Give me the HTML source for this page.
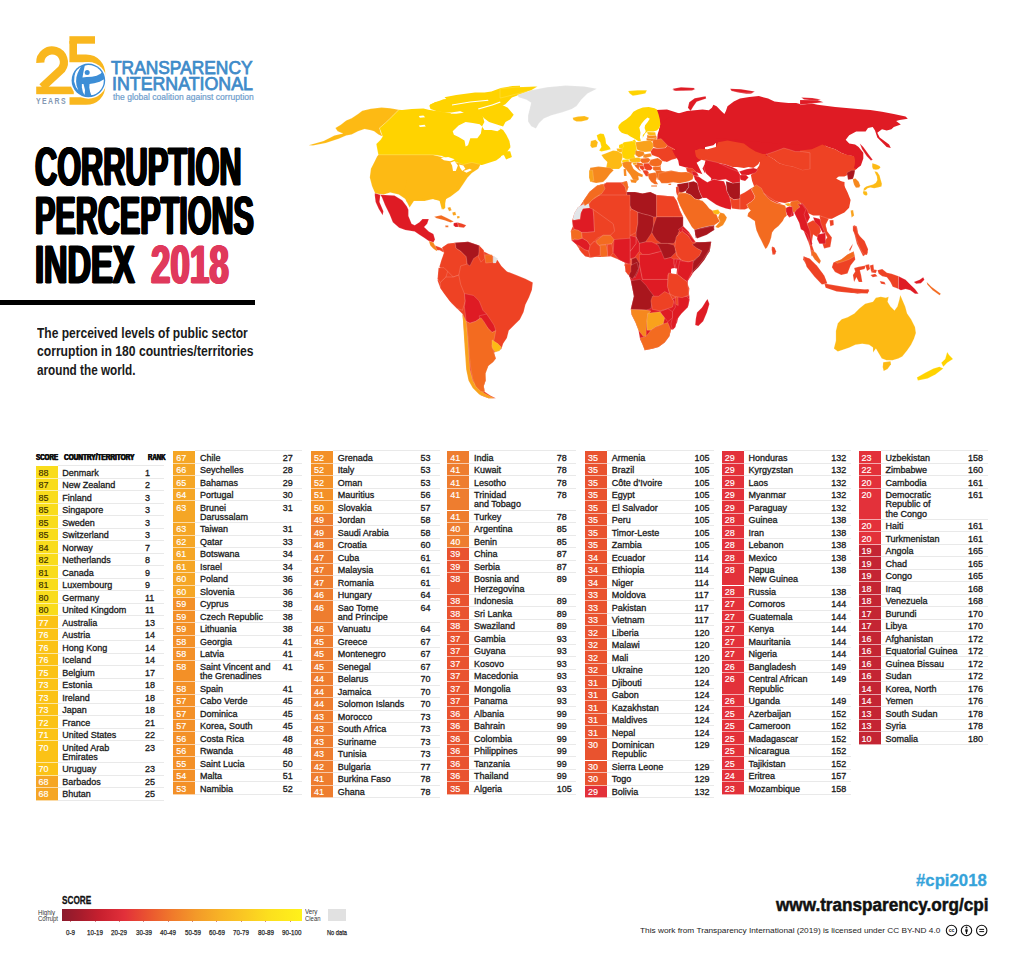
<!DOCTYPE html>
<html><head><meta charset="utf-8"><style>
html,body{margin:0;padding:0;background:#fff;}
body{width:1024px;height:973px;position:relative;overflow:hidden;font-family:"Liberation Sans",sans-serif;-webkit-font-smoothing:antialiased;}
.t{position:absolute;white-space:nowrap;line-height:1;}
.bx{position:absolute;}
.ln{position:absolute;height:1px;background:#e9e9e9;}
</style></head><body>
<svg width="260" height="115" viewBox="0 0 260 115" style="position:absolute;left:0;top:0">
<defs><clipPath id="gl"><circle cx="88.4" cy="80.4" r="15.4"/></clipPath></defs>
<g fill="none" stroke="#F9B71E" stroke-width="8.2">
<path d="M40.3,62.8 A11.8,11.8 0 1 1 61.6,69.2 L42.2,87.2"/>
<path d="M73.2,41 V58.4 H86 C96,58.4 101.6,66 101.6,75 V85 C101.6,95 95,101 86,101 H69.5" stroke-width="7.6"/>
</g>
<rect x="36.2" y="86.6" width="37.6" height="7.6" fill="#F9B71E"/>
<rect x="69.4" y="36.2" width="25.6" height="7.5" fill="#F9B71E"/>
<circle cx="88.4" cy="80.4" r="18.3" fill="#fff"/>
<circle cx="88.4" cy="80.4" r="16.8" fill="#3D8ED6"/>
<g clip-path="url(#gl)" fill="#fff">
<path d="M84.8,65.5 L91.9,64 L97.3,65.1 L100.9,68.2 L102.4,71.8 L100.5,73.7 L96.6,75.7 L91.9,76.8 L86.4,77 L82.5,77.4 L83.1,73.7 L83.9,69.8Z"/>
<path d="M89.5,83.9 L94.2,83.3 L99.7,81.7 L104,79.2 L104.8,83.1 L103.2,87.4 L100.1,91.7 L95.4,94.4 L91.3,95.2 L90.1,91.7 L89.3,87.4Z"/>
<path d="M75.9,70.6 L79,67.5 L81.3,65.9 L79.4,69.4 L77.6,73.3 L76.4,77.2 L76.1,81.5 L76.6,85.8 L78.4,90.5 L75.9,87 L74.1,81.5 L74.5,75.7Z"/>
<path d="M81.9,83.9 L83.5,83.9 L85,90.1 L84.6,95 L82.9,92.1 L81.9,87.4Z"/>
</g>
<circle cx="87.2" cy="72.4" r="2.5" fill="#3D8ED6"/>
</svg>
<div class="t" style="left:35.8px;top:96.4px;font-size:9.4px;font-weight:bold;color:#8398B2;letter-spacing:1.9px;transform:scaleX(0.74);transform-origin:0 0">YEARS</div>

<div class="t" style="left:111.00px;top:60.30px;font-size:17.60px;color:#3F8BC9;transform:scaleX(0.9872);transform-origin:0 0;-webkit-text-stroke:0.75px #3F8BC9;">TRANSPARENCY</div>
<div class="t" style="left:111.60px;top:76.10px;font-size:17.60px;color:#3F8BC9;transform:scaleX(1.0107);transform-origin:0 0;-webkit-text-stroke:0.75px #3F8BC9;">INTERNATIONAL</div>
<div class="t" style="left:113.30px;top:92.75px;font-size:8.80px;color:#6E9DCC;transform:scaleX(0.9691);transform-origin:0 0;-webkit-text-stroke:0.2px #6E9DCC;">the global coalition against corruption</div>
<div class="t" style="left:35.00px;top:139.57px;font-size:53.20px;font-weight:bold;color:#000;transform:scaleX(0.5777);transform-origin:0 0;-webkit-text-stroke:0.8px #000;text-shadow:1.7px 0 0 currentColor,-1.7px 0 0 currentColor,0.9px 0 0 currentColor,-0.9px 0 0 currentColor;">CORRUPTION</div>
<div class="t" style="left:35.00px;top:188.77px;font-size:53.20px;font-weight:bold;color:#000;transform:scaleX(0.5743);transform-origin:0 0;-webkit-text-stroke:0.8px #000;text-shadow:1.7px 0 0 currentColor,-1.7px 0 0 currentColor,0.9px 0 0 currentColor,-0.9px 0 0 currentColor;">PERCEPTIONS</div>
<div class="t" style="left:35.00px;top:238.17px;font-size:53.20px;font-weight:bold;color:#000;transform:scaleX(0.6126);transform-origin:0 0;-webkit-text-stroke:0.8px #000;text-shadow:1.7px 0 0 currentColor,-1.7px 0 0 currentColor,0.9px 0 0 currentColor,-0.9px 0 0 currentColor;">INDEX</div>
<div class="t" style="left:150.60px;top:238.17px;font-size:53.20px;font-weight:bold;color:#E0395C;transform:scaleX(0.6574);transform-origin:0 0;-webkit-text-stroke:0.8px #E0395C;text-shadow:1.7px 0 0 currentColor,-1.7px 0 0 currentColor,0.9px 0 0 currentColor,-0.9px 0 0 currentColor;">2018</div>
<div style="position:absolute;left:0;top:300.2px;width:254.5px;height:4.6px;background:#000"></div>
<div class="t" style="left:36.70px;top:325.23px;font-size:15.20px;font-weight:bold;color:#1a1a1a;transform:scaleX(0.7926);transform-origin:0 0;">The perceived levels of public sector</div>
<div class="t" style="left:36.70px;top:343.43px;font-size:15.20px;font-weight:bold;color:#1a1a1a;transform:scaleX(0.7996);transform-origin:0 0;">corruption in 180 countries/territories</div>
<div class="t" style="left:36.70px;top:361.63px;font-size:15.20px;font-weight:bold;color:#1a1a1a;transform:scaleX(0.7733);transform-origin:0 0;">around the world.</div>
<div class="t" style="left:36.30px;top:451.59px;font-size:9.70px;font-weight:bold;color:#111;transform:scaleX(0.6407);transform-origin:0 0;-webkit-text-stroke:0.25px #111;text-shadow:0.5px 0 0 currentColor,-0.5px 0 0 currentColor;">SCORE</div>
<div class="t" style="left:63.60px;top:451.59px;font-size:9.70px;font-weight:bold;color:#111;transform:scaleX(0.6663);transform-origin:0 0;-webkit-text-stroke:0.25px #111;text-shadow:0.5px 0 0 currentColor,-0.5px 0 0 currentColor;">COUNTRY/TERRITORY</div>
<div class="t" style="left:148.20px;top:451.59px;font-size:9.70px;font-weight:bold;color:#111;transform:scaleX(0.6281);transform-origin:0 0;-webkit-text-stroke:0.25px #111;text-shadow:0.5px 0 0 currentColor,-0.5px 0 0 currentColor;">RANK</div>
<div class="ln" style="left:57.7px;top:465.4px;width:106.8px"></div>
<div class="bx" style="left:35.5px;top:466.40px;width:22.2px;height:12.50px;background:#F9DC1C"></div>
<div class="bx" style="left:35.5px;top:477.90px;width:22.2px;height:1px;background:rgba(255,255,255,0.6)"></div>
<div class="t" style="left:38.50px;top:468.88px;font-size:9.00px;color:#3b3100;-webkit-text-stroke:0.15px #3b3100;">88</div>
<div class="t" style="left:62.30px;top:468.88px;font-size:9.00px;color:#1a1a1a;-webkit-text-stroke:0.3px #1a1a1a;">Denmark</div>
<div class="t" style="left:145.00px;top:468.88px;font-size:9.00px;color:#1a1a1a;-webkit-text-stroke:0.3px #1a1a1a;">1</div>
<div class="ln" style="left:57.7px;top:477.90px;width:106.8px"></div>
<div class="bx" style="left:35.5px;top:478.90px;width:22.2px;height:12.50px;background:#F9DC1C"></div>
<div class="bx" style="left:35.5px;top:490.40px;width:22.2px;height:1px;background:rgba(255,255,255,0.6)"></div>
<div class="t" style="left:38.50px;top:481.38px;font-size:9.00px;color:#3b3100;-webkit-text-stroke:0.15px #3b3100;">87</div>
<div class="t" style="left:62.30px;top:481.38px;font-size:9.00px;color:#1a1a1a;-webkit-text-stroke:0.3px #1a1a1a;">New Zealand</div>
<div class="t" style="left:145.00px;top:481.38px;font-size:9.00px;color:#1a1a1a;-webkit-text-stroke:0.3px #1a1a1a;">2</div>
<div class="ln" style="left:57.7px;top:490.40px;width:106.8px"></div>
<div class="bx" style="left:35.5px;top:491.40px;width:22.2px;height:12.50px;background:#F9DC1C"></div>
<div class="bx" style="left:35.5px;top:502.90px;width:22.2px;height:1px;background:rgba(255,255,255,0.6)"></div>
<div class="t" style="left:38.50px;top:493.88px;font-size:9.00px;color:#3b3100;-webkit-text-stroke:0.15px #3b3100;">85</div>
<div class="t" style="left:62.30px;top:493.88px;font-size:9.00px;color:#1a1a1a;-webkit-text-stroke:0.3px #1a1a1a;">Finland</div>
<div class="t" style="left:145.00px;top:493.88px;font-size:9.00px;color:#1a1a1a;-webkit-text-stroke:0.3px #1a1a1a;">3</div>
<div class="ln" style="left:57.7px;top:502.90px;width:106.8px"></div>
<div class="bx" style="left:35.5px;top:503.90px;width:22.2px;height:12.50px;background:#F9DC1C"></div>
<div class="bx" style="left:35.5px;top:515.40px;width:22.2px;height:1px;background:rgba(255,255,255,0.6)"></div>
<div class="t" style="left:38.50px;top:506.38px;font-size:9.00px;color:#3b3100;-webkit-text-stroke:0.15px #3b3100;">85</div>
<div class="t" style="left:62.30px;top:506.38px;font-size:9.00px;color:#1a1a1a;-webkit-text-stroke:0.3px #1a1a1a;">Singapore</div>
<div class="t" style="left:145.00px;top:506.38px;font-size:9.00px;color:#1a1a1a;-webkit-text-stroke:0.3px #1a1a1a;">3</div>
<div class="ln" style="left:57.7px;top:515.40px;width:106.8px"></div>
<div class="bx" style="left:35.5px;top:516.40px;width:22.2px;height:12.50px;background:#F9DC1C"></div>
<div class="bx" style="left:35.5px;top:527.90px;width:22.2px;height:1px;background:rgba(255,255,255,0.6)"></div>
<div class="t" style="left:38.50px;top:518.88px;font-size:9.00px;color:#3b3100;-webkit-text-stroke:0.15px #3b3100;">85</div>
<div class="t" style="left:62.30px;top:518.88px;font-size:9.00px;color:#1a1a1a;-webkit-text-stroke:0.3px #1a1a1a;">Sweden</div>
<div class="t" style="left:145.00px;top:518.88px;font-size:9.00px;color:#1a1a1a;-webkit-text-stroke:0.3px #1a1a1a;">3</div>
<div class="ln" style="left:57.7px;top:527.90px;width:106.8px"></div>
<div class="bx" style="left:35.5px;top:528.90px;width:22.2px;height:12.50px;background:#F9DC1C"></div>
<div class="bx" style="left:35.5px;top:540.40px;width:22.2px;height:1px;background:rgba(255,255,255,0.6)"></div>
<div class="t" style="left:38.50px;top:531.38px;font-size:9.00px;color:#3b3100;-webkit-text-stroke:0.15px #3b3100;">85</div>
<div class="t" style="left:62.30px;top:531.38px;font-size:9.00px;color:#1a1a1a;-webkit-text-stroke:0.3px #1a1a1a;">Switzerland</div>
<div class="t" style="left:145.00px;top:531.38px;font-size:9.00px;color:#1a1a1a;-webkit-text-stroke:0.3px #1a1a1a;">3</div>
<div class="ln" style="left:57.7px;top:540.40px;width:106.8px"></div>
<div class="bx" style="left:35.5px;top:541.40px;width:22.2px;height:12.50px;background:#F9DC1C"></div>
<div class="bx" style="left:35.5px;top:552.90px;width:22.2px;height:1px;background:rgba(255,255,255,0.6)"></div>
<div class="t" style="left:38.50px;top:543.88px;font-size:9.00px;color:#3b3100;-webkit-text-stroke:0.15px #3b3100;">84</div>
<div class="t" style="left:62.30px;top:543.88px;font-size:9.00px;color:#1a1a1a;-webkit-text-stroke:0.3px #1a1a1a;">Norway</div>
<div class="t" style="left:145.00px;top:543.88px;font-size:9.00px;color:#1a1a1a;-webkit-text-stroke:0.3px #1a1a1a;">7</div>
<div class="ln" style="left:57.7px;top:552.90px;width:106.8px"></div>
<div class="bx" style="left:35.5px;top:553.90px;width:22.2px;height:12.50px;background:#F9DC1C"></div>
<div class="bx" style="left:35.5px;top:565.40px;width:22.2px;height:1px;background:rgba(255,255,255,0.6)"></div>
<div class="t" style="left:38.50px;top:556.38px;font-size:9.00px;color:#3b3100;-webkit-text-stroke:0.15px #3b3100;">82</div>
<div class="t" style="left:62.30px;top:556.38px;font-size:9.00px;color:#1a1a1a;-webkit-text-stroke:0.3px #1a1a1a;">Netherlands</div>
<div class="t" style="left:145.00px;top:556.38px;font-size:9.00px;color:#1a1a1a;-webkit-text-stroke:0.3px #1a1a1a;">8</div>
<div class="ln" style="left:57.7px;top:565.40px;width:106.8px"></div>
<div class="bx" style="left:35.5px;top:566.40px;width:22.2px;height:12.50px;background:#F9DC1C"></div>
<div class="bx" style="left:35.5px;top:577.90px;width:22.2px;height:1px;background:rgba(255,255,255,0.6)"></div>
<div class="t" style="left:38.50px;top:568.88px;font-size:9.00px;color:#3b3100;-webkit-text-stroke:0.15px #3b3100;">81</div>
<div class="t" style="left:62.30px;top:568.88px;font-size:9.00px;color:#1a1a1a;-webkit-text-stroke:0.3px #1a1a1a;">Canada</div>
<div class="t" style="left:145.00px;top:568.88px;font-size:9.00px;color:#1a1a1a;-webkit-text-stroke:0.3px #1a1a1a;">9</div>
<div class="ln" style="left:57.7px;top:577.90px;width:106.8px"></div>
<div class="bx" style="left:35.5px;top:578.90px;width:22.2px;height:12.50px;background:#F9DC1C"></div>
<div class="bx" style="left:35.5px;top:590.40px;width:22.2px;height:1px;background:rgba(255,255,255,0.6)"></div>
<div class="t" style="left:38.50px;top:581.38px;font-size:9.00px;color:#3b3100;-webkit-text-stroke:0.15px #3b3100;">81</div>
<div class="t" style="left:62.30px;top:581.38px;font-size:9.00px;color:#1a1a1a;-webkit-text-stroke:0.3px #1a1a1a;">Luxembourg</div>
<div class="t" style="left:145.00px;top:581.38px;font-size:9.00px;color:#1a1a1a;-webkit-text-stroke:0.3px #1a1a1a;">9</div>
<div class="ln" style="left:57.7px;top:590.40px;width:106.8px"></div>
<div class="bx" style="left:35.5px;top:591.40px;width:22.2px;height:12.50px;background:#F9DC1C"></div>
<div class="bx" style="left:35.5px;top:602.90px;width:22.2px;height:1px;background:rgba(255,255,255,0.6)"></div>
<div class="t" style="left:38.50px;top:593.88px;font-size:9.00px;color:#3b3100;-webkit-text-stroke:0.15px #3b3100;">80</div>
<div class="t" style="left:62.30px;top:593.88px;font-size:9.00px;color:#1a1a1a;-webkit-text-stroke:0.3px #1a1a1a;">Germany</div>
<div class="t" style="left:145.00px;top:593.88px;font-size:9.00px;color:#1a1a1a;-webkit-text-stroke:0.3px #1a1a1a;">11</div>
<div class="ln" style="left:57.7px;top:602.90px;width:106.8px"></div>
<div class="bx" style="left:35.5px;top:603.90px;width:22.2px;height:12.50px;background:#F9DC1C"></div>
<div class="bx" style="left:35.5px;top:615.40px;width:22.2px;height:1px;background:rgba(255,255,255,0.6)"></div>
<div class="t" style="left:38.50px;top:606.38px;font-size:9.00px;color:#3b3100;-webkit-text-stroke:0.15px #3b3100;">80</div>
<div class="t" style="left:62.30px;top:606.38px;font-size:9.00px;color:#1a1a1a;-webkit-text-stroke:0.3px #1a1a1a;">United Kingdom</div>
<div class="t" style="left:145.00px;top:606.38px;font-size:9.00px;color:#1a1a1a;-webkit-text-stroke:0.3px #1a1a1a;">11</div>
<div class="ln" style="left:57.7px;top:615.40px;width:106.8px"></div>
<div class="bx" style="left:35.5px;top:616.40px;width:22.2px;height:12.50px;background:#FBC216"></div>
<div class="bx" style="left:35.5px;top:627.90px;width:22.2px;height:1px;background:rgba(255,255,255,0.6)"></div>
<div class="t" style="left:38.50px;top:618.88px;font-size:9.00px;color:#fff;-webkit-text-stroke:0.15px #fff;">77</div>
<div class="t" style="left:62.30px;top:618.88px;font-size:9.00px;color:#1a1a1a;-webkit-text-stroke:0.3px #1a1a1a;">Australia</div>
<div class="t" style="left:145.00px;top:618.88px;font-size:9.00px;color:#1a1a1a;-webkit-text-stroke:0.3px #1a1a1a;">13</div>
<div class="ln" style="left:57.7px;top:627.90px;width:106.8px"></div>
<div class="bx" style="left:35.5px;top:628.90px;width:22.2px;height:12.50px;background:#FBC216"></div>
<div class="bx" style="left:35.5px;top:640.40px;width:22.2px;height:1px;background:rgba(255,255,255,0.6)"></div>
<div class="t" style="left:38.50px;top:631.38px;font-size:9.00px;color:#fff;-webkit-text-stroke:0.15px #fff;">76</div>
<div class="t" style="left:62.30px;top:631.38px;font-size:9.00px;color:#1a1a1a;-webkit-text-stroke:0.3px #1a1a1a;">Austria</div>
<div class="t" style="left:145.00px;top:631.38px;font-size:9.00px;color:#1a1a1a;-webkit-text-stroke:0.3px #1a1a1a;">14</div>
<div class="ln" style="left:57.7px;top:640.40px;width:106.8px"></div>
<div class="bx" style="left:35.5px;top:641.40px;width:22.2px;height:12.50px;background:#FBC216"></div>
<div class="bx" style="left:35.5px;top:652.90px;width:22.2px;height:1px;background:rgba(255,255,255,0.6)"></div>
<div class="t" style="left:38.50px;top:643.88px;font-size:9.00px;color:#fff;-webkit-text-stroke:0.15px #fff;">76</div>
<div class="t" style="left:62.30px;top:643.88px;font-size:9.00px;color:#1a1a1a;-webkit-text-stroke:0.3px #1a1a1a;">Hong Kong</div>
<div class="t" style="left:145.00px;top:643.88px;font-size:9.00px;color:#1a1a1a;-webkit-text-stroke:0.3px #1a1a1a;">14</div>
<div class="ln" style="left:57.7px;top:652.90px;width:106.8px"></div>
<div class="bx" style="left:35.5px;top:653.90px;width:22.2px;height:12.50px;background:#FBC216"></div>
<div class="bx" style="left:35.5px;top:665.40px;width:22.2px;height:1px;background:rgba(255,255,255,0.6)"></div>
<div class="t" style="left:38.50px;top:656.38px;font-size:9.00px;color:#fff;-webkit-text-stroke:0.15px #fff;">76</div>
<div class="t" style="left:62.30px;top:656.38px;font-size:9.00px;color:#1a1a1a;-webkit-text-stroke:0.3px #1a1a1a;">Iceland</div>
<div class="t" style="left:145.00px;top:656.38px;font-size:9.00px;color:#1a1a1a;-webkit-text-stroke:0.3px #1a1a1a;">14</div>
<div class="ln" style="left:57.7px;top:665.40px;width:106.8px"></div>
<div class="bx" style="left:35.5px;top:666.40px;width:22.2px;height:12.50px;background:#FBC216"></div>
<div class="bx" style="left:35.5px;top:677.90px;width:22.2px;height:1px;background:rgba(255,255,255,0.6)"></div>
<div class="t" style="left:38.50px;top:668.88px;font-size:9.00px;color:#fff;-webkit-text-stroke:0.15px #fff;">75</div>
<div class="t" style="left:62.30px;top:668.88px;font-size:9.00px;color:#1a1a1a;-webkit-text-stroke:0.3px #1a1a1a;">Belgium</div>
<div class="t" style="left:145.00px;top:668.88px;font-size:9.00px;color:#1a1a1a;-webkit-text-stroke:0.3px #1a1a1a;">17</div>
<div class="ln" style="left:57.7px;top:677.90px;width:106.8px"></div>
<div class="bx" style="left:35.5px;top:678.90px;width:22.2px;height:12.50px;background:#FBC216"></div>
<div class="bx" style="left:35.5px;top:690.40px;width:22.2px;height:1px;background:rgba(255,255,255,0.6)"></div>
<div class="t" style="left:38.50px;top:681.38px;font-size:9.00px;color:#fff;-webkit-text-stroke:0.15px #fff;">73</div>
<div class="t" style="left:62.30px;top:681.38px;font-size:9.00px;color:#1a1a1a;-webkit-text-stroke:0.3px #1a1a1a;">Estonia</div>
<div class="t" style="left:145.00px;top:681.38px;font-size:9.00px;color:#1a1a1a;-webkit-text-stroke:0.3px #1a1a1a;">18</div>
<div class="ln" style="left:57.7px;top:690.40px;width:106.8px"></div>
<div class="bx" style="left:35.5px;top:691.40px;width:22.2px;height:12.50px;background:#FBC216"></div>
<div class="bx" style="left:35.5px;top:702.90px;width:22.2px;height:1px;background:rgba(255,255,255,0.6)"></div>
<div class="t" style="left:38.50px;top:693.88px;font-size:9.00px;color:#fff;-webkit-text-stroke:0.15px #fff;">73</div>
<div class="t" style="left:62.30px;top:693.88px;font-size:9.00px;color:#1a1a1a;-webkit-text-stroke:0.3px #1a1a1a;">Ireland</div>
<div class="t" style="left:145.00px;top:693.88px;font-size:9.00px;color:#1a1a1a;-webkit-text-stroke:0.3px #1a1a1a;">18</div>
<div class="ln" style="left:57.7px;top:702.90px;width:106.8px"></div>
<div class="bx" style="left:35.5px;top:703.90px;width:22.2px;height:12.50px;background:#FBC216"></div>
<div class="bx" style="left:35.5px;top:715.40px;width:22.2px;height:1px;background:rgba(255,255,255,0.6)"></div>
<div class="t" style="left:38.50px;top:706.38px;font-size:9.00px;color:#fff;-webkit-text-stroke:0.15px #fff;">73</div>
<div class="t" style="left:62.30px;top:706.38px;font-size:9.00px;color:#1a1a1a;-webkit-text-stroke:0.3px #1a1a1a;">Japan</div>
<div class="t" style="left:145.00px;top:706.38px;font-size:9.00px;color:#1a1a1a;-webkit-text-stroke:0.3px #1a1a1a;">18</div>
<div class="ln" style="left:57.7px;top:715.40px;width:106.8px"></div>
<div class="bx" style="left:35.5px;top:716.40px;width:22.2px;height:12.50px;background:#FBC216"></div>
<div class="bx" style="left:35.5px;top:727.90px;width:22.2px;height:1px;background:rgba(255,255,255,0.6)"></div>
<div class="t" style="left:38.50px;top:718.88px;font-size:9.00px;color:#fff;-webkit-text-stroke:0.15px #fff;">72</div>
<div class="t" style="left:62.30px;top:718.88px;font-size:9.00px;color:#1a1a1a;-webkit-text-stroke:0.3px #1a1a1a;">France</div>
<div class="t" style="left:145.00px;top:718.88px;font-size:9.00px;color:#1a1a1a;-webkit-text-stroke:0.3px #1a1a1a;">21</div>
<div class="ln" style="left:57.7px;top:727.90px;width:106.8px"></div>
<div class="bx" style="left:35.5px;top:728.90px;width:22.2px;height:12.50px;background:#FBC216"></div>
<div class="bx" style="left:35.5px;top:740.40px;width:22.2px;height:1px;background:rgba(255,255,255,0.6)"></div>
<div class="t" style="left:38.50px;top:731.38px;font-size:9.00px;color:#fff;-webkit-text-stroke:0.15px #fff;">71</div>
<div class="t" style="left:62.30px;top:731.38px;font-size:9.00px;color:#1a1a1a;-webkit-text-stroke:0.3px #1a1a1a;">United States</div>
<div class="t" style="left:145.00px;top:731.38px;font-size:9.00px;color:#1a1a1a;-webkit-text-stroke:0.3px #1a1a1a;">22</div>
<div class="ln" style="left:57.7px;top:740.40px;width:106.8px"></div>
<div class="bx" style="left:35.5px;top:741.40px;width:22.2px;height:21.60px;background:#FBC216"></div>
<div class="bx" style="left:35.5px;top:762.00px;width:22.2px;height:1px;background:rgba(255,255,255,0.6)"></div>
<div class="t" style="left:38.50px;top:743.88px;font-size:9.00px;color:#fff;-webkit-text-stroke:0.15px #fff;">70</div>
<div class="t" style="left:62.30px;top:743.88px;font-size:9.00px;color:#1a1a1a;-webkit-text-stroke:0.3px #1a1a1a;">United Arab</div>
<div class="t" style="left:62.30px;top:752.98px;font-size:9.00px;color:#1a1a1a;-webkit-text-stroke:0.3px #1a1a1a;">Emirates</div>
<div class="t" style="left:145.00px;top:743.88px;font-size:9.00px;color:#1a1a1a;-webkit-text-stroke:0.3px #1a1a1a;">23</div>
<div class="ln" style="left:57.7px;top:762.00px;width:106.8px"></div>
<div class="bx" style="left:35.5px;top:763.00px;width:22.2px;height:12.50px;background:#FBC216"></div>
<div class="bx" style="left:35.5px;top:774.50px;width:22.2px;height:1px;background:rgba(255,255,255,0.6)"></div>
<div class="t" style="left:38.50px;top:765.48px;font-size:9.00px;color:#fff;-webkit-text-stroke:0.15px #fff;">70</div>
<div class="t" style="left:62.30px;top:765.48px;font-size:9.00px;color:#1a1a1a;-webkit-text-stroke:0.3px #1a1a1a;">Uruguay</div>
<div class="t" style="left:145.00px;top:765.48px;font-size:9.00px;color:#1a1a1a;-webkit-text-stroke:0.3px #1a1a1a;">23</div>
<div class="ln" style="left:57.7px;top:774.50px;width:106.8px"></div>
<div class="bx" style="left:35.5px;top:775.50px;width:22.2px;height:12.50px;background:#F5A625"></div>
<div class="bx" style="left:35.5px;top:787.00px;width:22.2px;height:1px;background:rgba(255,255,255,0.6)"></div>
<div class="t" style="left:38.50px;top:777.98px;font-size:9.00px;color:#fff;-webkit-text-stroke:0.15px #fff;">68</div>
<div class="t" style="left:62.30px;top:777.98px;font-size:9.00px;color:#1a1a1a;-webkit-text-stroke:0.3px #1a1a1a;">Barbados</div>
<div class="t" style="left:145.00px;top:777.98px;font-size:9.00px;color:#1a1a1a;-webkit-text-stroke:0.3px #1a1a1a;">25</div>
<div class="ln" style="left:57.7px;top:787.00px;width:106.8px"></div>
<div class="bx" style="left:35.5px;top:788.00px;width:22.2px;height:12.50px;background:#F5A625"></div>
<div class="bx" style="left:35.5px;top:799.50px;width:22.2px;height:1px;background:rgba(255,255,255,0.6)"></div>
<div class="t" style="left:38.50px;top:790.48px;font-size:9.00px;color:#fff;-webkit-text-stroke:0.15px #fff;">68</div>
<div class="t" style="left:62.30px;top:790.48px;font-size:9.00px;color:#1a1a1a;-webkit-text-stroke:0.3px #1a1a1a;">Bhutan</div>
<div class="t" style="left:145.00px;top:790.48px;font-size:9.00px;color:#1a1a1a;-webkit-text-stroke:0.3px #1a1a1a;">25</div>
<div class="ln" style="left:57.7px;top:799.50px;width:106.8px"></div>
<div class="ln" style="left:195.4px;top:450.4px;width:106.8px"></div>
<div class="bx" style="left:173.2px;top:451.40px;width:22.2px;height:12.50px;background:#F5A625"></div>
<div class="bx" style="left:173.2px;top:462.90px;width:22.2px;height:1px;background:rgba(255,255,255,0.6)"></div>
<div class="t" style="left:176.20px;top:453.88px;font-size:9.00px;color:#fff;-webkit-text-stroke:0.15px #fff;">67</div>
<div class="t" style="left:200.00px;top:453.88px;font-size:9.00px;color:#1a1a1a;-webkit-text-stroke:0.3px #1a1a1a;">Chile</div>
<div class="t" style="left:282.70px;top:453.88px;font-size:9.00px;color:#1a1a1a;-webkit-text-stroke:0.3px #1a1a1a;">27</div>
<div class="ln" style="left:195.4px;top:462.90px;width:106.8px"></div>
<div class="bx" style="left:173.2px;top:463.90px;width:22.2px;height:12.50px;background:#F5A625"></div>
<div class="bx" style="left:173.2px;top:475.40px;width:22.2px;height:1px;background:rgba(255,255,255,0.6)"></div>
<div class="t" style="left:176.20px;top:466.38px;font-size:9.00px;color:#fff;-webkit-text-stroke:0.15px #fff;">66</div>
<div class="t" style="left:200.00px;top:466.38px;font-size:9.00px;color:#1a1a1a;-webkit-text-stroke:0.3px #1a1a1a;">Seychelles</div>
<div class="t" style="left:282.70px;top:466.38px;font-size:9.00px;color:#1a1a1a;-webkit-text-stroke:0.3px #1a1a1a;">28</div>
<div class="ln" style="left:195.4px;top:475.40px;width:106.8px"></div>
<div class="bx" style="left:173.2px;top:476.40px;width:22.2px;height:12.50px;background:#F5A625"></div>
<div class="bx" style="left:173.2px;top:487.90px;width:22.2px;height:1px;background:rgba(255,255,255,0.6)"></div>
<div class="t" style="left:176.20px;top:478.88px;font-size:9.00px;color:#fff;-webkit-text-stroke:0.15px #fff;">65</div>
<div class="t" style="left:200.00px;top:478.88px;font-size:9.00px;color:#1a1a1a;-webkit-text-stroke:0.3px #1a1a1a;">Bahamas</div>
<div class="t" style="left:282.70px;top:478.88px;font-size:9.00px;color:#1a1a1a;-webkit-text-stroke:0.3px #1a1a1a;">29</div>
<div class="ln" style="left:195.4px;top:487.90px;width:106.8px"></div>
<div class="bx" style="left:173.2px;top:488.90px;width:22.2px;height:12.50px;background:#F5A625"></div>
<div class="bx" style="left:173.2px;top:500.40px;width:22.2px;height:1px;background:rgba(255,255,255,0.6)"></div>
<div class="t" style="left:176.20px;top:491.38px;font-size:9.00px;color:#fff;-webkit-text-stroke:0.15px #fff;">64</div>
<div class="t" style="left:200.00px;top:491.38px;font-size:9.00px;color:#1a1a1a;-webkit-text-stroke:0.3px #1a1a1a;">Portugal</div>
<div class="t" style="left:282.70px;top:491.38px;font-size:9.00px;color:#1a1a1a;-webkit-text-stroke:0.3px #1a1a1a;">30</div>
<div class="ln" style="left:195.4px;top:500.40px;width:106.8px"></div>
<div class="bx" style="left:173.2px;top:501.40px;width:22.2px;height:21.60px;background:#F5A625"></div>
<div class="bx" style="left:173.2px;top:522.00px;width:22.2px;height:1px;background:rgba(255,255,255,0.6)"></div>
<div class="t" style="left:176.20px;top:503.88px;font-size:9.00px;color:#fff;-webkit-text-stroke:0.15px #fff;">63</div>
<div class="t" style="left:200.00px;top:503.88px;font-size:9.00px;color:#1a1a1a;-webkit-text-stroke:0.3px #1a1a1a;">Brunei</div>
<div class="t" style="left:200.00px;top:512.98px;font-size:9.00px;color:#1a1a1a;-webkit-text-stroke:0.3px #1a1a1a;">Darussalam</div>
<div class="t" style="left:282.70px;top:503.88px;font-size:9.00px;color:#1a1a1a;-webkit-text-stroke:0.3px #1a1a1a;">31</div>
<div class="ln" style="left:195.4px;top:522.00px;width:106.8px"></div>
<div class="bx" style="left:173.2px;top:523.00px;width:22.2px;height:12.50px;background:#F5A625"></div>
<div class="bx" style="left:173.2px;top:534.50px;width:22.2px;height:1px;background:rgba(255,255,255,0.6)"></div>
<div class="t" style="left:176.20px;top:525.48px;font-size:9.00px;color:#fff;-webkit-text-stroke:0.15px #fff;">63</div>
<div class="t" style="left:200.00px;top:525.48px;font-size:9.00px;color:#1a1a1a;-webkit-text-stroke:0.3px #1a1a1a;">Taiwan</div>
<div class="t" style="left:282.70px;top:525.48px;font-size:9.00px;color:#1a1a1a;-webkit-text-stroke:0.3px #1a1a1a;">31</div>
<div class="ln" style="left:195.4px;top:534.50px;width:106.8px"></div>
<div class="bx" style="left:173.2px;top:535.50px;width:22.2px;height:12.50px;background:#F5A625"></div>
<div class="bx" style="left:173.2px;top:547.00px;width:22.2px;height:1px;background:rgba(255,255,255,0.6)"></div>
<div class="t" style="left:176.20px;top:537.98px;font-size:9.00px;color:#fff;-webkit-text-stroke:0.15px #fff;">62</div>
<div class="t" style="left:200.00px;top:537.98px;font-size:9.00px;color:#1a1a1a;-webkit-text-stroke:0.3px #1a1a1a;">Qatar</div>
<div class="t" style="left:282.70px;top:537.98px;font-size:9.00px;color:#1a1a1a;-webkit-text-stroke:0.3px #1a1a1a;">33</div>
<div class="ln" style="left:195.4px;top:547.00px;width:106.8px"></div>
<div class="bx" style="left:173.2px;top:548.00px;width:22.2px;height:12.50px;background:#F5A625"></div>
<div class="bx" style="left:173.2px;top:559.50px;width:22.2px;height:1px;background:rgba(255,255,255,0.6)"></div>
<div class="t" style="left:176.20px;top:550.48px;font-size:9.00px;color:#fff;-webkit-text-stroke:0.15px #fff;">61</div>
<div class="t" style="left:200.00px;top:550.48px;font-size:9.00px;color:#1a1a1a;-webkit-text-stroke:0.3px #1a1a1a;">Botswana</div>
<div class="t" style="left:282.70px;top:550.48px;font-size:9.00px;color:#1a1a1a;-webkit-text-stroke:0.3px #1a1a1a;">34</div>
<div class="ln" style="left:195.4px;top:559.50px;width:106.8px"></div>
<div class="bx" style="left:173.2px;top:560.50px;width:22.2px;height:12.50px;background:#F5A625"></div>
<div class="bx" style="left:173.2px;top:572.00px;width:22.2px;height:1px;background:rgba(255,255,255,0.6)"></div>
<div class="t" style="left:176.20px;top:562.98px;font-size:9.00px;color:#fff;-webkit-text-stroke:0.15px #fff;">61</div>
<div class="t" style="left:200.00px;top:562.98px;font-size:9.00px;color:#1a1a1a;-webkit-text-stroke:0.3px #1a1a1a;">Israel</div>
<div class="t" style="left:282.70px;top:562.98px;font-size:9.00px;color:#1a1a1a;-webkit-text-stroke:0.3px #1a1a1a;">34</div>
<div class="ln" style="left:195.4px;top:572.00px;width:106.8px"></div>
<div class="bx" style="left:173.2px;top:573.00px;width:22.2px;height:12.50px;background:#F5A625"></div>
<div class="bx" style="left:173.2px;top:584.50px;width:22.2px;height:1px;background:rgba(255,255,255,0.6)"></div>
<div class="t" style="left:176.20px;top:575.48px;font-size:9.00px;color:#fff;-webkit-text-stroke:0.15px #fff;">60</div>
<div class="t" style="left:200.00px;top:575.48px;font-size:9.00px;color:#1a1a1a;-webkit-text-stroke:0.3px #1a1a1a;">Poland</div>
<div class="t" style="left:282.70px;top:575.48px;font-size:9.00px;color:#1a1a1a;-webkit-text-stroke:0.3px #1a1a1a;">36</div>
<div class="ln" style="left:195.4px;top:584.50px;width:106.8px"></div>
<div class="bx" style="left:173.2px;top:585.50px;width:22.2px;height:12.50px;background:#F5A625"></div>
<div class="bx" style="left:173.2px;top:597.00px;width:22.2px;height:1px;background:rgba(255,255,255,0.6)"></div>
<div class="t" style="left:176.20px;top:587.98px;font-size:9.00px;color:#fff;-webkit-text-stroke:0.15px #fff;">60</div>
<div class="t" style="left:200.00px;top:587.98px;font-size:9.00px;color:#1a1a1a;-webkit-text-stroke:0.3px #1a1a1a;">Slovenia</div>
<div class="t" style="left:282.70px;top:587.98px;font-size:9.00px;color:#1a1a1a;-webkit-text-stroke:0.3px #1a1a1a;">36</div>
<div class="ln" style="left:195.4px;top:597.00px;width:106.8px"></div>
<div class="bx" style="left:173.2px;top:598.00px;width:22.2px;height:12.50px;background:#F39027"></div>
<div class="bx" style="left:173.2px;top:609.50px;width:22.2px;height:1px;background:rgba(255,255,255,0.6)"></div>
<div class="t" style="left:176.20px;top:600.48px;font-size:9.00px;color:#fff;-webkit-text-stroke:0.15px #fff;">59</div>
<div class="t" style="left:200.00px;top:600.48px;font-size:9.00px;color:#1a1a1a;-webkit-text-stroke:0.3px #1a1a1a;">Cyprus</div>
<div class="t" style="left:282.70px;top:600.48px;font-size:9.00px;color:#1a1a1a;-webkit-text-stroke:0.3px #1a1a1a;">38</div>
<div class="ln" style="left:195.4px;top:609.50px;width:106.8px"></div>
<div class="bx" style="left:173.2px;top:610.50px;width:22.2px;height:12.50px;background:#F39027"></div>
<div class="bx" style="left:173.2px;top:622.00px;width:22.2px;height:1px;background:rgba(255,255,255,0.6)"></div>
<div class="t" style="left:176.20px;top:612.98px;font-size:9.00px;color:#fff;-webkit-text-stroke:0.15px #fff;">59</div>
<div class="t" style="left:200.00px;top:612.98px;font-size:9.00px;color:#1a1a1a;-webkit-text-stroke:0.3px #1a1a1a;">Czech Republic</div>
<div class="t" style="left:282.70px;top:612.98px;font-size:9.00px;color:#1a1a1a;-webkit-text-stroke:0.3px #1a1a1a;">38</div>
<div class="ln" style="left:195.4px;top:622.00px;width:106.8px"></div>
<div class="bx" style="left:173.2px;top:623.00px;width:22.2px;height:12.50px;background:#F39027"></div>
<div class="bx" style="left:173.2px;top:634.50px;width:22.2px;height:1px;background:rgba(255,255,255,0.6)"></div>
<div class="t" style="left:176.20px;top:625.48px;font-size:9.00px;color:#fff;-webkit-text-stroke:0.15px #fff;">59</div>
<div class="t" style="left:200.00px;top:625.48px;font-size:9.00px;color:#1a1a1a;-webkit-text-stroke:0.3px #1a1a1a;">Lithuania</div>
<div class="t" style="left:282.70px;top:625.48px;font-size:9.00px;color:#1a1a1a;-webkit-text-stroke:0.3px #1a1a1a;">38</div>
<div class="ln" style="left:195.4px;top:634.50px;width:106.8px"></div>
<div class="bx" style="left:173.2px;top:635.50px;width:22.2px;height:12.50px;background:#F39027"></div>
<div class="bx" style="left:173.2px;top:647.00px;width:22.2px;height:1px;background:rgba(255,255,255,0.6)"></div>
<div class="t" style="left:176.20px;top:637.98px;font-size:9.00px;color:#fff;-webkit-text-stroke:0.15px #fff;">58</div>
<div class="t" style="left:200.00px;top:637.98px;font-size:9.00px;color:#1a1a1a;-webkit-text-stroke:0.3px #1a1a1a;">Georgia</div>
<div class="t" style="left:282.70px;top:637.98px;font-size:9.00px;color:#1a1a1a;-webkit-text-stroke:0.3px #1a1a1a;">41</div>
<div class="ln" style="left:195.4px;top:647.00px;width:106.8px"></div>
<div class="bx" style="left:173.2px;top:648.00px;width:22.2px;height:12.50px;background:#F39027"></div>
<div class="bx" style="left:173.2px;top:659.50px;width:22.2px;height:1px;background:rgba(255,255,255,0.6)"></div>
<div class="t" style="left:176.20px;top:650.48px;font-size:9.00px;color:#fff;-webkit-text-stroke:0.15px #fff;">58</div>
<div class="t" style="left:200.00px;top:650.48px;font-size:9.00px;color:#1a1a1a;-webkit-text-stroke:0.3px #1a1a1a;">Latvia</div>
<div class="t" style="left:282.70px;top:650.48px;font-size:9.00px;color:#1a1a1a;-webkit-text-stroke:0.3px #1a1a1a;">41</div>
<div class="ln" style="left:195.4px;top:659.50px;width:106.8px"></div>
<div class="bx" style="left:173.2px;top:660.50px;width:22.2px;height:21.60px;background:#F39027"></div>
<div class="bx" style="left:173.2px;top:681.10px;width:22.2px;height:1px;background:rgba(255,255,255,0.6)"></div>
<div class="t" style="left:176.20px;top:662.98px;font-size:9.00px;color:#fff;-webkit-text-stroke:0.15px #fff;">58</div>
<div class="t" style="left:200.00px;top:662.98px;font-size:9.00px;color:#1a1a1a;-webkit-text-stroke:0.3px #1a1a1a;">Saint Vincent and</div>
<div class="t" style="left:200.00px;top:672.08px;font-size:9.00px;color:#1a1a1a;-webkit-text-stroke:0.3px #1a1a1a;">the Grenadines</div>
<div class="t" style="left:282.70px;top:662.98px;font-size:9.00px;color:#1a1a1a;-webkit-text-stroke:0.3px #1a1a1a;">41</div>
<div class="ln" style="left:195.4px;top:681.10px;width:106.8px"></div>
<div class="bx" style="left:173.2px;top:682.10px;width:22.2px;height:12.50px;background:#F39027"></div>
<div class="bx" style="left:173.2px;top:693.60px;width:22.2px;height:1px;background:rgba(255,255,255,0.6)"></div>
<div class="t" style="left:176.20px;top:684.58px;font-size:9.00px;color:#fff;-webkit-text-stroke:0.15px #fff;">58</div>
<div class="t" style="left:200.00px;top:684.58px;font-size:9.00px;color:#1a1a1a;-webkit-text-stroke:0.3px #1a1a1a;">Spain</div>
<div class="t" style="left:282.70px;top:684.58px;font-size:9.00px;color:#1a1a1a;-webkit-text-stroke:0.3px #1a1a1a;">41</div>
<div class="ln" style="left:195.4px;top:693.60px;width:106.8px"></div>
<div class="bx" style="left:173.2px;top:694.60px;width:22.2px;height:12.50px;background:#F39027"></div>
<div class="bx" style="left:173.2px;top:706.10px;width:22.2px;height:1px;background:rgba(255,255,255,0.6)"></div>
<div class="t" style="left:176.20px;top:697.08px;font-size:9.00px;color:#fff;-webkit-text-stroke:0.15px #fff;">57</div>
<div class="t" style="left:200.00px;top:697.08px;font-size:9.00px;color:#1a1a1a;-webkit-text-stroke:0.3px #1a1a1a;">Cabo Verde</div>
<div class="t" style="left:282.70px;top:697.08px;font-size:9.00px;color:#1a1a1a;-webkit-text-stroke:0.3px #1a1a1a;">45</div>
<div class="ln" style="left:195.4px;top:706.10px;width:106.8px"></div>
<div class="bx" style="left:173.2px;top:707.10px;width:22.2px;height:12.50px;background:#F39027"></div>
<div class="bx" style="left:173.2px;top:718.60px;width:22.2px;height:1px;background:rgba(255,255,255,0.6)"></div>
<div class="t" style="left:176.20px;top:709.58px;font-size:9.00px;color:#fff;-webkit-text-stroke:0.15px #fff;">57</div>
<div class="t" style="left:200.00px;top:709.58px;font-size:9.00px;color:#1a1a1a;-webkit-text-stroke:0.3px #1a1a1a;">Dominica</div>
<div class="t" style="left:282.70px;top:709.58px;font-size:9.00px;color:#1a1a1a;-webkit-text-stroke:0.3px #1a1a1a;">45</div>
<div class="ln" style="left:195.4px;top:718.60px;width:106.8px"></div>
<div class="bx" style="left:173.2px;top:719.60px;width:22.2px;height:12.50px;background:#F39027"></div>
<div class="bx" style="left:173.2px;top:731.10px;width:22.2px;height:1px;background:rgba(255,255,255,0.6)"></div>
<div class="t" style="left:176.20px;top:722.08px;font-size:9.00px;color:#fff;-webkit-text-stroke:0.15px #fff;">57</div>
<div class="t" style="left:200.00px;top:722.08px;font-size:9.00px;color:#1a1a1a;-webkit-text-stroke:0.3px #1a1a1a;">Korea, South</div>
<div class="t" style="left:282.70px;top:722.08px;font-size:9.00px;color:#1a1a1a;-webkit-text-stroke:0.3px #1a1a1a;">45</div>
<div class="ln" style="left:195.4px;top:731.10px;width:106.8px"></div>
<div class="bx" style="left:173.2px;top:732.10px;width:22.2px;height:12.50px;background:#F39027"></div>
<div class="bx" style="left:173.2px;top:743.60px;width:22.2px;height:1px;background:rgba(255,255,255,0.6)"></div>
<div class="t" style="left:176.20px;top:734.58px;font-size:9.00px;color:#fff;-webkit-text-stroke:0.15px #fff;">56</div>
<div class="t" style="left:200.00px;top:734.58px;font-size:9.00px;color:#1a1a1a;-webkit-text-stroke:0.3px #1a1a1a;">Costa Rica</div>
<div class="t" style="left:282.70px;top:734.58px;font-size:9.00px;color:#1a1a1a;-webkit-text-stroke:0.3px #1a1a1a;">48</div>
<div class="ln" style="left:195.4px;top:743.60px;width:106.8px"></div>
<div class="bx" style="left:173.2px;top:744.60px;width:22.2px;height:12.50px;background:#F39027"></div>
<div class="bx" style="left:173.2px;top:756.10px;width:22.2px;height:1px;background:rgba(255,255,255,0.6)"></div>
<div class="t" style="left:176.20px;top:747.08px;font-size:9.00px;color:#fff;-webkit-text-stroke:0.15px #fff;">56</div>
<div class="t" style="left:200.00px;top:747.08px;font-size:9.00px;color:#1a1a1a;-webkit-text-stroke:0.3px #1a1a1a;">Rwanda</div>
<div class="t" style="left:282.70px;top:747.08px;font-size:9.00px;color:#1a1a1a;-webkit-text-stroke:0.3px #1a1a1a;">48</div>
<div class="ln" style="left:195.4px;top:756.10px;width:106.8px"></div>
<div class="bx" style="left:173.2px;top:757.10px;width:22.2px;height:12.50px;background:#F39027"></div>
<div class="bx" style="left:173.2px;top:768.60px;width:22.2px;height:1px;background:rgba(255,255,255,0.6)"></div>
<div class="t" style="left:176.20px;top:759.58px;font-size:9.00px;color:#fff;-webkit-text-stroke:0.15px #fff;">55</div>
<div class="t" style="left:200.00px;top:759.58px;font-size:9.00px;color:#1a1a1a;-webkit-text-stroke:0.3px #1a1a1a;">Saint Lucia</div>
<div class="t" style="left:282.70px;top:759.58px;font-size:9.00px;color:#1a1a1a;-webkit-text-stroke:0.3px #1a1a1a;">50</div>
<div class="ln" style="left:195.4px;top:768.60px;width:106.8px"></div>
<div class="bx" style="left:173.2px;top:769.60px;width:22.2px;height:12.50px;background:#F39027"></div>
<div class="bx" style="left:173.2px;top:781.10px;width:22.2px;height:1px;background:rgba(255,255,255,0.6)"></div>
<div class="t" style="left:176.20px;top:772.08px;font-size:9.00px;color:#fff;-webkit-text-stroke:0.15px #fff;">54</div>
<div class="t" style="left:200.00px;top:772.08px;font-size:9.00px;color:#1a1a1a;-webkit-text-stroke:0.3px #1a1a1a;">Malta</div>
<div class="t" style="left:282.70px;top:772.08px;font-size:9.00px;color:#1a1a1a;-webkit-text-stroke:0.3px #1a1a1a;">51</div>
<div class="ln" style="left:195.4px;top:781.10px;width:106.8px"></div>
<div class="bx" style="left:173.2px;top:782.10px;width:22.2px;height:12.50px;background:#F39027"></div>
<div class="bx" style="left:173.2px;top:793.60px;width:22.2px;height:1px;background:rgba(255,255,255,0.6)"></div>
<div class="t" style="left:176.20px;top:784.58px;font-size:9.00px;color:#fff;-webkit-text-stroke:0.15px #fff;">53</div>
<div class="t" style="left:200.00px;top:784.58px;font-size:9.00px;color:#1a1a1a;-webkit-text-stroke:0.3px #1a1a1a;">Namibia</div>
<div class="t" style="left:282.70px;top:784.58px;font-size:9.00px;color:#1a1a1a;-webkit-text-stroke:0.3px #1a1a1a;">52</div>
<div class="ln" style="left:195.4px;top:793.60px;width:106.8px"></div>
<div class="ln" style="left:333.2px;top:450.4px;width:106.8px"></div>
<div class="bx" style="left:311.0px;top:451.40px;width:22.2px;height:12.50px;background:#F39027"></div>
<div class="bx" style="left:311.0px;top:462.90px;width:22.2px;height:1px;background:rgba(255,255,255,0.6)"></div>
<div class="t" style="left:314.00px;top:453.88px;font-size:9.00px;color:#fff;-webkit-text-stroke:0.15px #fff;">52</div>
<div class="t" style="left:337.80px;top:453.88px;font-size:9.00px;color:#1a1a1a;-webkit-text-stroke:0.3px #1a1a1a;">Grenada</div>
<div class="t" style="left:420.50px;top:453.88px;font-size:9.00px;color:#1a1a1a;-webkit-text-stroke:0.3px #1a1a1a;">53</div>
<div class="ln" style="left:333.2px;top:462.90px;width:106.8px"></div>
<div class="bx" style="left:311.0px;top:463.90px;width:22.2px;height:12.50px;background:#F39027"></div>
<div class="bx" style="left:311.0px;top:475.40px;width:22.2px;height:1px;background:rgba(255,255,255,0.6)"></div>
<div class="t" style="left:314.00px;top:466.38px;font-size:9.00px;color:#fff;-webkit-text-stroke:0.15px #fff;">52</div>
<div class="t" style="left:337.80px;top:466.38px;font-size:9.00px;color:#1a1a1a;-webkit-text-stroke:0.3px #1a1a1a;">Italy</div>
<div class="t" style="left:420.50px;top:466.38px;font-size:9.00px;color:#1a1a1a;-webkit-text-stroke:0.3px #1a1a1a;">53</div>
<div class="ln" style="left:333.2px;top:475.40px;width:106.8px"></div>
<div class="bx" style="left:311.0px;top:476.40px;width:22.2px;height:12.50px;background:#F39027"></div>
<div class="bx" style="left:311.0px;top:487.90px;width:22.2px;height:1px;background:rgba(255,255,255,0.6)"></div>
<div class="t" style="left:314.00px;top:478.88px;font-size:9.00px;color:#fff;-webkit-text-stroke:0.15px #fff;">52</div>
<div class="t" style="left:337.80px;top:478.88px;font-size:9.00px;color:#1a1a1a;-webkit-text-stroke:0.3px #1a1a1a;">Oman</div>
<div class="t" style="left:420.50px;top:478.88px;font-size:9.00px;color:#1a1a1a;-webkit-text-stroke:0.3px #1a1a1a;">53</div>
<div class="ln" style="left:333.2px;top:487.90px;width:106.8px"></div>
<div class="bx" style="left:311.0px;top:488.90px;width:22.2px;height:12.50px;background:#F39027"></div>
<div class="bx" style="left:311.0px;top:500.40px;width:22.2px;height:1px;background:rgba(255,255,255,0.6)"></div>
<div class="t" style="left:314.00px;top:491.38px;font-size:9.00px;color:#fff;-webkit-text-stroke:0.15px #fff;">51</div>
<div class="t" style="left:337.80px;top:491.38px;font-size:9.00px;color:#1a1a1a;-webkit-text-stroke:0.3px #1a1a1a;">Mauritius</div>
<div class="t" style="left:420.50px;top:491.38px;font-size:9.00px;color:#1a1a1a;-webkit-text-stroke:0.3px #1a1a1a;">56</div>
<div class="ln" style="left:333.2px;top:500.40px;width:106.8px"></div>
<div class="bx" style="left:311.0px;top:501.40px;width:22.2px;height:12.50px;background:#F39027"></div>
<div class="bx" style="left:311.0px;top:512.90px;width:22.2px;height:1px;background:rgba(255,255,255,0.6)"></div>
<div class="t" style="left:314.00px;top:503.88px;font-size:9.00px;color:#fff;-webkit-text-stroke:0.15px #fff;">50</div>
<div class="t" style="left:337.80px;top:503.88px;font-size:9.00px;color:#1a1a1a;-webkit-text-stroke:0.3px #1a1a1a;">Slovakia</div>
<div class="t" style="left:420.50px;top:503.88px;font-size:9.00px;color:#1a1a1a;-webkit-text-stroke:0.3px #1a1a1a;">57</div>
<div class="ln" style="left:333.2px;top:512.90px;width:106.8px"></div>
<div class="bx" style="left:311.0px;top:513.90px;width:22.2px;height:12.50px;background:#EE7D2F"></div>
<div class="bx" style="left:311.0px;top:525.40px;width:22.2px;height:1px;background:rgba(255,255,255,0.6)"></div>
<div class="t" style="left:314.00px;top:516.38px;font-size:9.00px;color:#fff;-webkit-text-stroke:0.15px #fff;">49</div>
<div class="t" style="left:337.80px;top:516.38px;font-size:9.00px;color:#1a1a1a;-webkit-text-stroke:0.3px #1a1a1a;">Jordan</div>
<div class="t" style="left:420.50px;top:516.38px;font-size:9.00px;color:#1a1a1a;-webkit-text-stroke:0.3px #1a1a1a;">58</div>
<div class="ln" style="left:333.2px;top:525.40px;width:106.8px"></div>
<div class="bx" style="left:311.0px;top:526.40px;width:22.2px;height:12.50px;background:#EE7D2F"></div>
<div class="bx" style="left:311.0px;top:537.90px;width:22.2px;height:1px;background:rgba(255,255,255,0.6)"></div>
<div class="t" style="left:314.00px;top:528.88px;font-size:9.00px;color:#fff;-webkit-text-stroke:0.15px #fff;">49</div>
<div class="t" style="left:337.80px;top:528.88px;font-size:9.00px;color:#1a1a1a;-webkit-text-stroke:0.3px #1a1a1a;">Saudi Arabia</div>
<div class="t" style="left:420.50px;top:528.88px;font-size:9.00px;color:#1a1a1a;-webkit-text-stroke:0.3px #1a1a1a;">58</div>
<div class="ln" style="left:333.2px;top:537.90px;width:106.8px"></div>
<div class="bx" style="left:311.0px;top:538.90px;width:22.2px;height:12.50px;background:#EE7D2F"></div>
<div class="bx" style="left:311.0px;top:550.40px;width:22.2px;height:1px;background:rgba(255,255,255,0.6)"></div>
<div class="t" style="left:314.00px;top:541.38px;font-size:9.00px;color:#fff;-webkit-text-stroke:0.15px #fff;">48</div>
<div class="t" style="left:337.80px;top:541.38px;font-size:9.00px;color:#1a1a1a;-webkit-text-stroke:0.3px #1a1a1a;">Croatia</div>
<div class="t" style="left:420.50px;top:541.38px;font-size:9.00px;color:#1a1a1a;-webkit-text-stroke:0.3px #1a1a1a;">60</div>
<div class="ln" style="left:333.2px;top:550.40px;width:106.8px"></div>
<div class="bx" style="left:311.0px;top:551.40px;width:22.2px;height:12.50px;background:#EE7D2F"></div>
<div class="bx" style="left:311.0px;top:562.90px;width:22.2px;height:1px;background:rgba(255,255,255,0.6)"></div>
<div class="t" style="left:314.00px;top:553.88px;font-size:9.00px;color:#fff;-webkit-text-stroke:0.15px #fff;">47</div>
<div class="t" style="left:337.80px;top:553.88px;font-size:9.00px;color:#1a1a1a;-webkit-text-stroke:0.3px #1a1a1a;">Cuba</div>
<div class="t" style="left:420.50px;top:553.88px;font-size:9.00px;color:#1a1a1a;-webkit-text-stroke:0.3px #1a1a1a;">61</div>
<div class="ln" style="left:333.2px;top:562.90px;width:106.8px"></div>
<div class="bx" style="left:311.0px;top:563.90px;width:22.2px;height:12.50px;background:#EE7D2F"></div>
<div class="bx" style="left:311.0px;top:575.40px;width:22.2px;height:1px;background:rgba(255,255,255,0.6)"></div>
<div class="t" style="left:314.00px;top:566.38px;font-size:9.00px;color:#fff;-webkit-text-stroke:0.15px #fff;">47</div>
<div class="t" style="left:337.80px;top:566.38px;font-size:9.00px;color:#1a1a1a;-webkit-text-stroke:0.3px #1a1a1a;">Malaysia</div>
<div class="t" style="left:420.50px;top:566.38px;font-size:9.00px;color:#1a1a1a;-webkit-text-stroke:0.3px #1a1a1a;">61</div>
<div class="ln" style="left:333.2px;top:575.40px;width:106.8px"></div>
<div class="bx" style="left:311.0px;top:576.40px;width:22.2px;height:12.50px;background:#EE7D2F"></div>
<div class="bx" style="left:311.0px;top:587.90px;width:22.2px;height:1px;background:rgba(255,255,255,0.6)"></div>
<div class="t" style="left:314.00px;top:578.88px;font-size:9.00px;color:#fff;-webkit-text-stroke:0.15px #fff;">47</div>
<div class="t" style="left:337.80px;top:578.88px;font-size:9.00px;color:#1a1a1a;-webkit-text-stroke:0.3px #1a1a1a;">Romania</div>
<div class="t" style="left:420.50px;top:578.88px;font-size:9.00px;color:#1a1a1a;-webkit-text-stroke:0.3px #1a1a1a;">61</div>
<div class="ln" style="left:333.2px;top:587.90px;width:106.8px"></div>
<div class="bx" style="left:311.0px;top:588.90px;width:22.2px;height:12.50px;background:#EE7D2F"></div>
<div class="bx" style="left:311.0px;top:600.40px;width:22.2px;height:1px;background:rgba(255,255,255,0.6)"></div>
<div class="t" style="left:314.00px;top:591.38px;font-size:9.00px;color:#fff;-webkit-text-stroke:0.15px #fff;">46</div>
<div class="t" style="left:337.80px;top:591.38px;font-size:9.00px;color:#1a1a1a;-webkit-text-stroke:0.3px #1a1a1a;">Hungary</div>
<div class="t" style="left:420.50px;top:591.38px;font-size:9.00px;color:#1a1a1a;-webkit-text-stroke:0.3px #1a1a1a;">64</div>
<div class="ln" style="left:333.2px;top:600.40px;width:106.8px"></div>
<div class="bx" style="left:311.0px;top:601.40px;width:22.2px;height:21.60px;background:#EE7D2F"></div>
<div class="bx" style="left:311.0px;top:622.00px;width:22.2px;height:1px;background:rgba(255,255,255,0.6)"></div>
<div class="t" style="left:314.00px;top:603.88px;font-size:9.00px;color:#fff;-webkit-text-stroke:0.15px #fff;">46</div>
<div class="t" style="left:337.80px;top:603.88px;font-size:9.00px;color:#1a1a1a;-webkit-text-stroke:0.3px #1a1a1a;">Sao Tome</div>
<div class="t" style="left:337.80px;top:612.98px;font-size:9.00px;color:#1a1a1a;-webkit-text-stroke:0.3px #1a1a1a;">and Principe</div>
<div class="t" style="left:420.50px;top:603.88px;font-size:9.00px;color:#1a1a1a;-webkit-text-stroke:0.3px #1a1a1a;">64</div>
<div class="ln" style="left:333.2px;top:622.00px;width:106.8px"></div>
<div class="bx" style="left:311.0px;top:623.00px;width:22.2px;height:12.50px;background:#EE7D2F"></div>
<div class="bx" style="left:311.0px;top:634.50px;width:22.2px;height:1px;background:rgba(255,255,255,0.6)"></div>
<div class="t" style="left:314.00px;top:625.48px;font-size:9.00px;color:#fff;-webkit-text-stroke:0.15px #fff;">46</div>
<div class="t" style="left:337.80px;top:625.48px;font-size:9.00px;color:#1a1a1a;-webkit-text-stroke:0.3px #1a1a1a;">Vanuatu</div>
<div class="t" style="left:420.50px;top:625.48px;font-size:9.00px;color:#1a1a1a;-webkit-text-stroke:0.3px #1a1a1a;">64</div>
<div class="ln" style="left:333.2px;top:634.50px;width:106.8px"></div>
<div class="bx" style="left:311.0px;top:635.50px;width:22.2px;height:12.50px;background:#EE7D2F"></div>
<div class="bx" style="left:311.0px;top:647.00px;width:22.2px;height:1px;background:rgba(255,255,255,0.6)"></div>
<div class="t" style="left:314.00px;top:637.98px;font-size:9.00px;color:#fff;-webkit-text-stroke:0.15px #fff;">45</div>
<div class="t" style="left:337.80px;top:637.98px;font-size:9.00px;color:#1a1a1a;-webkit-text-stroke:0.3px #1a1a1a;">Greece</div>
<div class="t" style="left:420.50px;top:637.98px;font-size:9.00px;color:#1a1a1a;-webkit-text-stroke:0.3px #1a1a1a;">67</div>
<div class="ln" style="left:333.2px;top:647.00px;width:106.8px"></div>
<div class="bx" style="left:311.0px;top:648.00px;width:22.2px;height:12.50px;background:#EE7D2F"></div>
<div class="bx" style="left:311.0px;top:659.50px;width:22.2px;height:1px;background:rgba(255,255,255,0.6)"></div>
<div class="t" style="left:314.00px;top:650.48px;font-size:9.00px;color:#fff;-webkit-text-stroke:0.15px #fff;">45</div>
<div class="t" style="left:337.80px;top:650.48px;font-size:9.00px;color:#1a1a1a;-webkit-text-stroke:0.3px #1a1a1a;">Montenegro</div>
<div class="t" style="left:420.50px;top:650.48px;font-size:9.00px;color:#1a1a1a;-webkit-text-stroke:0.3px #1a1a1a;">67</div>
<div class="ln" style="left:333.2px;top:659.50px;width:106.8px"></div>
<div class="bx" style="left:311.0px;top:660.50px;width:22.2px;height:12.50px;background:#EE7D2F"></div>
<div class="bx" style="left:311.0px;top:672.00px;width:22.2px;height:1px;background:rgba(255,255,255,0.6)"></div>
<div class="t" style="left:314.00px;top:662.98px;font-size:9.00px;color:#fff;-webkit-text-stroke:0.15px #fff;">45</div>
<div class="t" style="left:337.80px;top:662.98px;font-size:9.00px;color:#1a1a1a;-webkit-text-stroke:0.3px #1a1a1a;">Senegal</div>
<div class="t" style="left:420.50px;top:662.98px;font-size:9.00px;color:#1a1a1a;-webkit-text-stroke:0.3px #1a1a1a;">67</div>
<div class="ln" style="left:333.2px;top:672.00px;width:106.8px"></div>
<div class="bx" style="left:311.0px;top:673.00px;width:22.2px;height:12.50px;background:#EE7D2F"></div>
<div class="bx" style="left:311.0px;top:684.50px;width:22.2px;height:1px;background:rgba(255,255,255,0.6)"></div>
<div class="t" style="left:314.00px;top:675.48px;font-size:9.00px;color:#fff;-webkit-text-stroke:0.15px #fff;">44</div>
<div class="t" style="left:337.80px;top:675.48px;font-size:9.00px;color:#1a1a1a;-webkit-text-stroke:0.3px #1a1a1a;">Belarus</div>
<div class="t" style="left:420.50px;top:675.48px;font-size:9.00px;color:#1a1a1a;-webkit-text-stroke:0.3px #1a1a1a;">70</div>
<div class="ln" style="left:333.2px;top:684.50px;width:106.8px"></div>
<div class="bx" style="left:311.0px;top:685.50px;width:22.2px;height:12.50px;background:#EE7D2F"></div>
<div class="bx" style="left:311.0px;top:697.00px;width:22.2px;height:1px;background:rgba(255,255,255,0.6)"></div>
<div class="t" style="left:314.00px;top:687.98px;font-size:9.00px;color:#fff;-webkit-text-stroke:0.15px #fff;">44</div>
<div class="t" style="left:337.80px;top:687.98px;font-size:9.00px;color:#1a1a1a;-webkit-text-stroke:0.3px #1a1a1a;">Jamaica</div>
<div class="t" style="left:420.50px;top:687.98px;font-size:9.00px;color:#1a1a1a;-webkit-text-stroke:0.3px #1a1a1a;">70</div>
<div class="ln" style="left:333.2px;top:697.00px;width:106.8px"></div>
<div class="bx" style="left:311.0px;top:698.00px;width:22.2px;height:12.50px;background:#EE7D2F"></div>
<div class="bx" style="left:311.0px;top:709.50px;width:22.2px;height:1px;background:rgba(255,255,255,0.6)"></div>
<div class="t" style="left:314.00px;top:700.48px;font-size:9.00px;color:#fff;-webkit-text-stroke:0.15px #fff;">44</div>
<div class="t" style="left:337.80px;top:700.48px;font-size:9.00px;color:#1a1a1a;-webkit-text-stroke:0.3px #1a1a1a;">Solomon Islands</div>
<div class="t" style="left:420.50px;top:700.48px;font-size:9.00px;color:#1a1a1a;-webkit-text-stroke:0.3px #1a1a1a;">70</div>
<div class="ln" style="left:333.2px;top:709.50px;width:106.8px"></div>
<div class="bx" style="left:311.0px;top:710.50px;width:22.2px;height:12.50px;background:#EE7D2F"></div>
<div class="bx" style="left:311.0px;top:722.00px;width:22.2px;height:1px;background:rgba(255,255,255,0.6)"></div>
<div class="t" style="left:314.00px;top:712.98px;font-size:9.00px;color:#fff;-webkit-text-stroke:0.15px #fff;">43</div>
<div class="t" style="left:337.80px;top:712.98px;font-size:9.00px;color:#1a1a1a;-webkit-text-stroke:0.3px #1a1a1a;">Morocco</div>
<div class="t" style="left:420.50px;top:712.98px;font-size:9.00px;color:#1a1a1a;-webkit-text-stroke:0.3px #1a1a1a;">73</div>
<div class="ln" style="left:333.2px;top:722.00px;width:106.8px"></div>
<div class="bx" style="left:311.0px;top:723.00px;width:22.2px;height:12.50px;background:#EE7D2F"></div>
<div class="bx" style="left:311.0px;top:734.50px;width:22.2px;height:1px;background:rgba(255,255,255,0.6)"></div>
<div class="t" style="left:314.00px;top:725.48px;font-size:9.00px;color:#fff;-webkit-text-stroke:0.15px #fff;">43</div>
<div class="t" style="left:337.80px;top:725.48px;font-size:9.00px;color:#1a1a1a;-webkit-text-stroke:0.3px #1a1a1a;">South Africa</div>
<div class="t" style="left:420.50px;top:725.48px;font-size:9.00px;color:#1a1a1a;-webkit-text-stroke:0.3px #1a1a1a;">73</div>
<div class="ln" style="left:333.2px;top:734.50px;width:106.8px"></div>
<div class="bx" style="left:311.0px;top:735.50px;width:22.2px;height:12.50px;background:#EE7D2F"></div>
<div class="bx" style="left:311.0px;top:747.00px;width:22.2px;height:1px;background:rgba(255,255,255,0.6)"></div>
<div class="t" style="left:314.00px;top:737.98px;font-size:9.00px;color:#fff;-webkit-text-stroke:0.15px #fff;">43</div>
<div class="t" style="left:337.80px;top:737.98px;font-size:9.00px;color:#1a1a1a;-webkit-text-stroke:0.3px #1a1a1a;">Suriname</div>
<div class="t" style="left:420.50px;top:737.98px;font-size:9.00px;color:#1a1a1a;-webkit-text-stroke:0.3px #1a1a1a;">73</div>
<div class="ln" style="left:333.2px;top:747.00px;width:106.8px"></div>
<div class="bx" style="left:311.0px;top:748.00px;width:22.2px;height:12.50px;background:#EE7D2F"></div>
<div class="bx" style="left:311.0px;top:759.50px;width:22.2px;height:1px;background:rgba(255,255,255,0.6)"></div>
<div class="t" style="left:314.00px;top:750.48px;font-size:9.00px;color:#fff;-webkit-text-stroke:0.15px #fff;">43</div>
<div class="t" style="left:337.80px;top:750.48px;font-size:9.00px;color:#1a1a1a;-webkit-text-stroke:0.3px #1a1a1a;">Tunisia</div>
<div class="t" style="left:420.50px;top:750.48px;font-size:9.00px;color:#1a1a1a;-webkit-text-stroke:0.3px #1a1a1a;">73</div>
<div class="ln" style="left:333.2px;top:759.50px;width:106.8px"></div>
<div class="bx" style="left:311.0px;top:760.50px;width:22.2px;height:12.50px;background:#EE7D2F"></div>
<div class="bx" style="left:311.0px;top:772.00px;width:22.2px;height:1px;background:rgba(255,255,255,0.6)"></div>
<div class="t" style="left:314.00px;top:762.98px;font-size:9.00px;color:#fff;-webkit-text-stroke:0.15px #fff;">42</div>
<div class="t" style="left:337.80px;top:762.98px;font-size:9.00px;color:#1a1a1a;-webkit-text-stroke:0.3px #1a1a1a;">Bulgaria</div>
<div class="t" style="left:420.50px;top:762.98px;font-size:9.00px;color:#1a1a1a;-webkit-text-stroke:0.3px #1a1a1a;">77</div>
<div class="ln" style="left:333.2px;top:772.00px;width:106.8px"></div>
<div class="bx" style="left:311.0px;top:773.00px;width:22.2px;height:12.50px;background:#EE7D2F"></div>
<div class="bx" style="left:311.0px;top:784.50px;width:22.2px;height:1px;background:rgba(255,255,255,0.6)"></div>
<div class="t" style="left:314.00px;top:775.48px;font-size:9.00px;color:#fff;-webkit-text-stroke:0.15px #fff;">41</div>
<div class="t" style="left:337.80px;top:775.48px;font-size:9.00px;color:#1a1a1a;-webkit-text-stroke:0.3px #1a1a1a;">Burkina Faso</div>
<div class="t" style="left:420.50px;top:775.48px;font-size:9.00px;color:#1a1a1a;-webkit-text-stroke:0.3px #1a1a1a;">78</div>
<div class="ln" style="left:333.2px;top:784.50px;width:106.8px"></div>
<div class="bx" style="left:311.0px;top:785.50px;width:22.2px;height:12.50px;background:#EE7D2F"></div>
<div class="bx" style="left:311.0px;top:797.00px;width:22.2px;height:1px;background:rgba(255,255,255,0.6)"></div>
<div class="t" style="left:314.00px;top:787.98px;font-size:9.00px;color:#fff;-webkit-text-stroke:0.15px #fff;">41</div>
<div class="t" style="left:337.80px;top:787.98px;font-size:9.00px;color:#1a1a1a;-webkit-text-stroke:0.3px #1a1a1a;">Ghana</div>
<div class="t" style="left:420.50px;top:787.98px;font-size:9.00px;color:#1a1a1a;-webkit-text-stroke:0.3px #1a1a1a;">78</div>
<div class="ln" style="left:333.2px;top:797.00px;width:106.8px"></div>
<div class="ln" style="left:469.4px;top:450.4px;width:106.8px"></div>
<div class="bx" style="left:447.2px;top:451.40px;width:22.2px;height:12.50px;background:#EE7D2F"></div>
<div class="bx" style="left:447.2px;top:462.90px;width:22.2px;height:1px;background:rgba(255,255,255,0.6)"></div>
<div class="t" style="left:450.20px;top:453.88px;font-size:9.00px;color:#fff;-webkit-text-stroke:0.15px #fff;">41</div>
<div class="t" style="left:474.00px;top:453.88px;font-size:9.00px;color:#1a1a1a;-webkit-text-stroke:0.3px #1a1a1a;">India</div>
<div class="t" style="left:556.70px;top:453.88px;font-size:9.00px;color:#1a1a1a;-webkit-text-stroke:0.3px #1a1a1a;">78</div>
<div class="ln" style="left:469.4px;top:462.90px;width:106.8px"></div>
<div class="bx" style="left:447.2px;top:463.90px;width:22.2px;height:12.50px;background:#EE7D2F"></div>
<div class="bx" style="left:447.2px;top:475.40px;width:22.2px;height:1px;background:rgba(255,255,255,0.6)"></div>
<div class="t" style="left:450.20px;top:466.38px;font-size:9.00px;color:#fff;-webkit-text-stroke:0.15px #fff;">41</div>
<div class="t" style="left:474.00px;top:466.38px;font-size:9.00px;color:#1a1a1a;-webkit-text-stroke:0.3px #1a1a1a;">Kuwait</div>
<div class="t" style="left:556.70px;top:466.38px;font-size:9.00px;color:#1a1a1a;-webkit-text-stroke:0.3px #1a1a1a;">78</div>
<div class="ln" style="left:469.4px;top:475.40px;width:106.8px"></div>
<div class="bx" style="left:447.2px;top:476.40px;width:22.2px;height:12.50px;background:#EE7D2F"></div>
<div class="bx" style="left:447.2px;top:487.90px;width:22.2px;height:1px;background:rgba(255,255,255,0.6)"></div>
<div class="t" style="left:450.20px;top:478.88px;font-size:9.00px;color:#fff;-webkit-text-stroke:0.15px #fff;">41</div>
<div class="t" style="left:474.00px;top:478.88px;font-size:9.00px;color:#1a1a1a;-webkit-text-stroke:0.3px #1a1a1a;">Lesotho</div>
<div class="t" style="left:556.70px;top:478.88px;font-size:9.00px;color:#1a1a1a;-webkit-text-stroke:0.3px #1a1a1a;">78</div>
<div class="ln" style="left:469.4px;top:487.90px;width:106.8px"></div>
<div class="bx" style="left:447.2px;top:488.90px;width:22.2px;height:21.60px;background:#EE7D2F"></div>
<div class="bx" style="left:447.2px;top:509.50px;width:22.2px;height:1px;background:rgba(255,255,255,0.6)"></div>
<div class="t" style="left:450.20px;top:491.38px;font-size:9.00px;color:#fff;-webkit-text-stroke:0.15px #fff;">41</div>
<div class="t" style="left:474.00px;top:491.38px;font-size:9.00px;color:#1a1a1a;-webkit-text-stroke:0.3px #1a1a1a;">Trinidad</div>
<div class="t" style="left:474.00px;top:500.48px;font-size:9.00px;color:#1a1a1a;-webkit-text-stroke:0.3px #1a1a1a;">and Tobago</div>
<div class="t" style="left:556.70px;top:491.38px;font-size:9.00px;color:#1a1a1a;-webkit-text-stroke:0.3px #1a1a1a;">78</div>
<div class="ln" style="left:469.4px;top:509.50px;width:106.8px"></div>
<div class="bx" style="left:447.2px;top:510.50px;width:22.2px;height:12.50px;background:#EE7D2F"></div>
<div class="bx" style="left:447.2px;top:522.00px;width:22.2px;height:1px;background:rgba(255,255,255,0.6)"></div>
<div class="t" style="left:450.20px;top:512.98px;font-size:9.00px;color:#fff;-webkit-text-stroke:0.15px #fff;">41</div>
<div class="t" style="left:474.00px;top:512.98px;font-size:9.00px;color:#1a1a1a;-webkit-text-stroke:0.3px #1a1a1a;">Turkey</div>
<div class="t" style="left:556.70px;top:512.98px;font-size:9.00px;color:#1a1a1a;-webkit-text-stroke:0.3px #1a1a1a;">78</div>
<div class="ln" style="left:469.4px;top:522.00px;width:106.8px"></div>
<div class="bx" style="left:447.2px;top:523.00px;width:22.2px;height:12.50px;background:#EE7D2F"></div>
<div class="bx" style="left:447.2px;top:534.50px;width:22.2px;height:1px;background:rgba(255,255,255,0.6)"></div>
<div class="t" style="left:450.20px;top:525.48px;font-size:9.00px;color:#fff;-webkit-text-stroke:0.15px #fff;">40</div>
<div class="t" style="left:474.00px;top:525.48px;font-size:9.00px;color:#1a1a1a;-webkit-text-stroke:0.3px #1a1a1a;">Argentina</div>
<div class="t" style="left:556.70px;top:525.48px;font-size:9.00px;color:#1a1a1a;-webkit-text-stroke:0.3px #1a1a1a;">85</div>
<div class="ln" style="left:469.4px;top:534.50px;width:106.8px"></div>
<div class="bx" style="left:447.2px;top:535.50px;width:22.2px;height:12.50px;background:#EE7D2F"></div>
<div class="bx" style="left:447.2px;top:547.00px;width:22.2px;height:1px;background:rgba(255,255,255,0.6)"></div>
<div class="t" style="left:450.20px;top:537.98px;font-size:9.00px;color:#fff;-webkit-text-stroke:0.15px #fff;">40</div>
<div class="t" style="left:474.00px;top:537.98px;font-size:9.00px;color:#1a1a1a;-webkit-text-stroke:0.3px #1a1a1a;">Benin</div>
<div class="t" style="left:556.70px;top:537.98px;font-size:9.00px;color:#1a1a1a;-webkit-text-stroke:0.3px #1a1a1a;">85</div>
<div class="ln" style="left:469.4px;top:547.00px;width:106.8px"></div>
<div class="bx" style="left:447.2px;top:548.00px;width:22.2px;height:12.50px;background:#E9532F"></div>
<div class="bx" style="left:447.2px;top:559.50px;width:22.2px;height:1px;background:rgba(255,255,255,0.6)"></div>
<div class="t" style="left:450.20px;top:550.48px;font-size:9.00px;color:#fff;-webkit-text-stroke:0.15px #fff;">39</div>
<div class="t" style="left:474.00px;top:550.48px;font-size:9.00px;color:#1a1a1a;-webkit-text-stroke:0.3px #1a1a1a;">China</div>
<div class="t" style="left:556.70px;top:550.48px;font-size:9.00px;color:#1a1a1a;-webkit-text-stroke:0.3px #1a1a1a;">87</div>
<div class="ln" style="left:469.4px;top:559.50px;width:106.8px"></div>
<div class="bx" style="left:447.2px;top:560.50px;width:22.2px;height:12.50px;background:#E9532F"></div>
<div class="bx" style="left:447.2px;top:572.00px;width:22.2px;height:1px;background:rgba(255,255,255,0.6)"></div>
<div class="t" style="left:450.20px;top:562.98px;font-size:9.00px;color:#fff;-webkit-text-stroke:0.15px #fff;">39</div>
<div class="t" style="left:474.00px;top:562.98px;font-size:9.00px;color:#1a1a1a;-webkit-text-stroke:0.3px #1a1a1a;">Serbia</div>
<div class="t" style="left:556.70px;top:562.98px;font-size:9.00px;color:#1a1a1a;-webkit-text-stroke:0.3px #1a1a1a;">87</div>
<div class="ln" style="left:469.4px;top:572.00px;width:106.8px"></div>
<div class="bx" style="left:447.2px;top:573.00px;width:22.2px;height:21.60px;background:#E9532F"></div>
<div class="bx" style="left:447.2px;top:593.60px;width:22.2px;height:1px;background:rgba(255,255,255,0.6)"></div>
<div class="t" style="left:450.20px;top:575.48px;font-size:9.00px;color:#fff;-webkit-text-stroke:0.15px #fff;">38</div>
<div class="t" style="left:474.00px;top:575.48px;font-size:9.00px;color:#1a1a1a;-webkit-text-stroke:0.3px #1a1a1a;">Bosnia and</div>
<div class="t" style="left:474.00px;top:584.58px;font-size:9.00px;color:#1a1a1a;-webkit-text-stroke:0.3px #1a1a1a;">Herzegovina</div>
<div class="t" style="left:556.70px;top:575.48px;font-size:9.00px;color:#1a1a1a;-webkit-text-stroke:0.3px #1a1a1a;">89</div>
<div class="ln" style="left:469.4px;top:593.60px;width:106.8px"></div>
<div class="bx" style="left:447.2px;top:594.60px;width:22.2px;height:12.50px;background:#E9532F"></div>
<div class="bx" style="left:447.2px;top:606.10px;width:22.2px;height:1px;background:rgba(255,255,255,0.6)"></div>
<div class="t" style="left:450.20px;top:597.08px;font-size:9.00px;color:#fff;-webkit-text-stroke:0.15px #fff;">38</div>
<div class="t" style="left:474.00px;top:597.08px;font-size:9.00px;color:#1a1a1a;-webkit-text-stroke:0.3px #1a1a1a;">Indonesia</div>
<div class="t" style="left:556.70px;top:597.08px;font-size:9.00px;color:#1a1a1a;-webkit-text-stroke:0.3px #1a1a1a;">89</div>
<div class="ln" style="left:469.4px;top:606.10px;width:106.8px"></div>
<div class="bx" style="left:447.2px;top:607.10px;width:22.2px;height:12.50px;background:#E9532F"></div>
<div class="bx" style="left:447.2px;top:618.60px;width:22.2px;height:1px;background:rgba(255,255,255,0.6)"></div>
<div class="t" style="left:450.20px;top:609.58px;font-size:9.00px;color:#fff;-webkit-text-stroke:0.15px #fff;">38</div>
<div class="t" style="left:474.00px;top:609.58px;font-size:9.00px;color:#1a1a1a;-webkit-text-stroke:0.3px #1a1a1a;">Sri Lanka</div>
<div class="t" style="left:556.70px;top:609.58px;font-size:9.00px;color:#1a1a1a;-webkit-text-stroke:0.3px #1a1a1a;">89</div>
<div class="ln" style="left:469.4px;top:618.60px;width:106.8px"></div>
<div class="bx" style="left:447.2px;top:619.60px;width:22.2px;height:12.50px;background:#E9532F"></div>
<div class="bx" style="left:447.2px;top:631.10px;width:22.2px;height:1px;background:rgba(255,255,255,0.6)"></div>
<div class="t" style="left:450.20px;top:622.08px;font-size:9.00px;color:#fff;-webkit-text-stroke:0.15px #fff;">38</div>
<div class="t" style="left:474.00px;top:622.08px;font-size:9.00px;color:#1a1a1a;-webkit-text-stroke:0.3px #1a1a1a;">Swaziland</div>
<div class="t" style="left:556.70px;top:622.08px;font-size:9.00px;color:#1a1a1a;-webkit-text-stroke:0.3px #1a1a1a;">89</div>
<div class="ln" style="left:469.4px;top:631.10px;width:106.8px"></div>
<div class="bx" style="left:447.2px;top:632.10px;width:22.2px;height:12.50px;background:#E9532F"></div>
<div class="bx" style="left:447.2px;top:643.60px;width:22.2px;height:1px;background:rgba(255,255,255,0.6)"></div>
<div class="t" style="left:450.20px;top:634.58px;font-size:9.00px;color:#fff;-webkit-text-stroke:0.15px #fff;">37</div>
<div class="t" style="left:474.00px;top:634.58px;font-size:9.00px;color:#1a1a1a;-webkit-text-stroke:0.3px #1a1a1a;">Gambia</div>
<div class="t" style="left:556.70px;top:634.58px;font-size:9.00px;color:#1a1a1a;-webkit-text-stroke:0.3px #1a1a1a;">93</div>
<div class="ln" style="left:469.4px;top:643.60px;width:106.8px"></div>
<div class="bx" style="left:447.2px;top:644.60px;width:22.2px;height:12.50px;background:#E9532F"></div>
<div class="bx" style="left:447.2px;top:656.10px;width:22.2px;height:1px;background:rgba(255,255,255,0.6)"></div>
<div class="t" style="left:450.20px;top:647.08px;font-size:9.00px;color:#fff;-webkit-text-stroke:0.15px #fff;">37</div>
<div class="t" style="left:474.00px;top:647.08px;font-size:9.00px;color:#1a1a1a;-webkit-text-stroke:0.3px #1a1a1a;">Guyana</div>
<div class="t" style="left:556.70px;top:647.08px;font-size:9.00px;color:#1a1a1a;-webkit-text-stroke:0.3px #1a1a1a;">93</div>
<div class="ln" style="left:469.4px;top:656.10px;width:106.8px"></div>
<div class="bx" style="left:447.2px;top:657.10px;width:22.2px;height:12.50px;background:#E9532F"></div>
<div class="bx" style="left:447.2px;top:668.60px;width:22.2px;height:1px;background:rgba(255,255,255,0.6)"></div>
<div class="t" style="left:450.20px;top:659.58px;font-size:9.00px;color:#fff;-webkit-text-stroke:0.15px #fff;">37</div>
<div class="t" style="left:474.00px;top:659.58px;font-size:9.00px;color:#1a1a1a;-webkit-text-stroke:0.3px #1a1a1a;">Kosovo</div>
<div class="t" style="left:556.70px;top:659.58px;font-size:9.00px;color:#1a1a1a;-webkit-text-stroke:0.3px #1a1a1a;">93</div>
<div class="ln" style="left:469.4px;top:668.60px;width:106.8px"></div>
<div class="bx" style="left:447.2px;top:669.60px;width:22.2px;height:12.50px;background:#E9532F"></div>
<div class="bx" style="left:447.2px;top:681.10px;width:22.2px;height:1px;background:rgba(255,255,255,0.6)"></div>
<div class="t" style="left:450.20px;top:672.08px;font-size:9.00px;color:#fff;-webkit-text-stroke:0.15px #fff;">37</div>
<div class="t" style="left:474.00px;top:672.08px;font-size:9.00px;color:#1a1a1a;-webkit-text-stroke:0.3px #1a1a1a;">Macedonia</div>
<div class="t" style="left:556.70px;top:672.08px;font-size:9.00px;color:#1a1a1a;-webkit-text-stroke:0.3px #1a1a1a;">93</div>
<div class="ln" style="left:469.4px;top:681.10px;width:106.8px"></div>
<div class="bx" style="left:447.2px;top:682.10px;width:22.2px;height:12.50px;background:#E9532F"></div>
<div class="bx" style="left:447.2px;top:693.60px;width:22.2px;height:1px;background:rgba(255,255,255,0.6)"></div>
<div class="t" style="left:450.20px;top:684.58px;font-size:9.00px;color:#fff;-webkit-text-stroke:0.15px #fff;">37</div>
<div class="t" style="left:474.00px;top:684.58px;font-size:9.00px;color:#1a1a1a;-webkit-text-stroke:0.3px #1a1a1a;">Mongolia</div>
<div class="t" style="left:556.70px;top:684.58px;font-size:9.00px;color:#1a1a1a;-webkit-text-stroke:0.3px #1a1a1a;">93</div>
<div class="ln" style="left:469.4px;top:693.60px;width:106.8px"></div>
<div class="bx" style="left:447.2px;top:694.60px;width:22.2px;height:12.50px;background:#E9532F"></div>
<div class="bx" style="left:447.2px;top:706.10px;width:22.2px;height:1px;background:rgba(255,255,255,0.6)"></div>
<div class="t" style="left:450.20px;top:697.08px;font-size:9.00px;color:#fff;-webkit-text-stroke:0.15px #fff;">37</div>
<div class="t" style="left:474.00px;top:697.08px;font-size:9.00px;color:#1a1a1a;-webkit-text-stroke:0.3px #1a1a1a;">Panama</div>
<div class="t" style="left:556.70px;top:697.08px;font-size:9.00px;color:#1a1a1a;-webkit-text-stroke:0.3px #1a1a1a;">93</div>
<div class="ln" style="left:469.4px;top:706.10px;width:106.8px"></div>
<div class="bx" style="left:447.2px;top:707.10px;width:22.2px;height:12.50px;background:#E9532F"></div>
<div class="bx" style="left:447.2px;top:718.60px;width:22.2px;height:1px;background:rgba(255,255,255,0.6)"></div>
<div class="t" style="left:450.20px;top:709.58px;font-size:9.00px;color:#fff;-webkit-text-stroke:0.15px #fff;">36</div>
<div class="t" style="left:474.00px;top:709.58px;font-size:9.00px;color:#1a1a1a;-webkit-text-stroke:0.3px #1a1a1a;">Albania</div>
<div class="t" style="left:556.70px;top:709.58px;font-size:9.00px;color:#1a1a1a;-webkit-text-stroke:0.3px #1a1a1a;">99</div>
<div class="ln" style="left:469.4px;top:718.60px;width:106.8px"></div>
<div class="bx" style="left:447.2px;top:719.60px;width:22.2px;height:12.50px;background:#E9532F"></div>
<div class="bx" style="left:447.2px;top:731.10px;width:22.2px;height:1px;background:rgba(255,255,255,0.6)"></div>
<div class="t" style="left:450.20px;top:722.08px;font-size:9.00px;color:#fff;-webkit-text-stroke:0.15px #fff;">36</div>
<div class="t" style="left:474.00px;top:722.08px;font-size:9.00px;color:#1a1a1a;-webkit-text-stroke:0.3px #1a1a1a;">Bahrain</div>
<div class="t" style="left:556.70px;top:722.08px;font-size:9.00px;color:#1a1a1a;-webkit-text-stroke:0.3px #1a1a1a;">99</div>
<div class="ln" style="left:469.4px;top:731.10px;width:106.8px"></div>
<div class="bx" style="left:447.2px;top:732.10px;width:22.2px;height:12.50px;background:#E9532F"></div>
<div class="bx" style="left:447.2px;top:743.60px;width:22.2px;height:1px;background:rgba(255,255,255,0.6)"></div>
<div class="t" style="left:450.20px;top:734.58px;font-size:9.00px;color:#fff;-webkit-text-stroke:0.15px #fff;">36</div>
<div class="t" style="left:474.00px;top:734.58px;font-size:9.00px;color:#1a1a1a;-webkit-text-stroke:0.3px #1a1a1a;">Colombia</div>
<div class="t" style="left:556.70px;top:734.58px;font-size:9.00px;color:#1a1a1a;-webkit-text-stroke:0.3px #1a1a1a;">99</div>
<div class="ln" style="left:469.4px;top:743.60px;width:106.8px"></div>
<div class="bx" style="left:447.2px;top:744.60px;width:22.2px;height:12.50px;background:#E9532F"></div>
<div class="bx" style="left:447.2px;top:756.10px;width:22.2px;height:1px;background:rgba(255,255,255,0.6)"></div>
<div class="t" style="left:450.20px;top:747.08px;font-size:9.00px;color:#fff;-webkit-text-stroke:0.15px #fff;">36</div>
<div class="t" style="left:474.00px;top:747.08px;font-size:9.00px;color:#1a1a1a;-webkit-text-stroke:0.3px #1a1a1a;">Philippines</div>
<div class="t" style="left:556.70px;top:747.08px;font-size:9.00px;color:#1a1a1a;-webkit-text-stroke:0.3px #1a1a1a;">99</div>
<div class="ln" style="left:469.4px;top:756.10px;width:106.8px"></div>
<div class="bx" style="left:447.2px;top:757.10px;width:22.2px;height:12.50px;background:#E9532F"></div>
<div class="bx" style="left:447.2px;top:768.60px;width:22.2px;height:1px;background:rgba(255,255,255,0.6)"></div>
<div class="t" style="left:450.20px;top:759.58px;font-size:9.00px;color:#fff;-webkit-text-stroke:0.15px #fff;">36</div>
<div class="t" style="left:474.00px;top:759.58px;font-size:9.00px;color:#1a1a1a;-webkit-text-stroke:0.3px #1a1a1a;">Tanzania</div>
<div class="t" style="left:556.70px;top:759.58px;font-size:9.00px;color:#1a1a1a;-webkit-text-stroke:0.3px #1a1a1a;">99</div>
<div class="ln" style="left:469.4px;top:768.60px;width:106.8px"></div>
<div class="bx" style="left:447.2px;top:769.60px;width:22.2px;height:12.50px;background:#E9532F"></div>
<div class="bx" style="left:447.2px;top:781.10px;width:22.2px;height:1px;background:rgba(255,255,255,0.6)"></div>
<div class="t" style="left:450.20px;top:772.08px;font-size:9.00px;color:#fff;-webkit-text-stroke:0.15px #fff;">36</div>
<div class="t" style="left:474.00px;top:772.08px;font-size:9.00px;color:#1a1a1a;-webkit-text-stroke:0.3px #1a1a1a;">Thailand</div>
<div class="t" style="left:556.70px;top:772.08px;font-size:9.00px;color:#1a1a1a;-webkit-text-stroke:0.3px #1a1a1a;">99</div>
<div class="ln" style="left:469.4px;top:781.10px;width:106.8px"></div>
<div class="bx" style="left:447.2px;top:782.10px;width:22.2px;height:12.50px;background:#E9532F"></div>
<div class="bx" style="left:447.2px;top:793.60px;width:22.2px;height:1px;background:rgba(255,255,255,0.6)"></div>
<div class="t" style="left:450.20px;top:784.58px;font-size:9.00px;color:#fff;-webkit-text-stroke:0.15px #fff;">35</div>
<div class="t" style="left:474.00px;top:784.58px;font-size:9.00px;color:#1a1a1a;-webkit-text-stroke:0.3px #1a1a1a;">Algeria</div>
<div class="t" style="left:556.70px;top:784.58px;font-size:9.00px;color:#1a1a1a;-webkit-text-stroke:0.3px #1a1a1a;">105</div>
<div class="ln" style="left:469.4px;top:793.60px;width:106.8px"></div>
<div class="ln" style="left:607.1px;top:450.4px;width:106.8px"></div>
<div class="bx" style="left:584.9px;top:451.40px;width:22.2px;height:12.50px;background:#E9532F"></div>
<div class="bx" style="left:584.9px;top:462.90px;width:22.2px;height:1px;background:rgba(255,255,255,0.6)"></div>
<div class="t" style="left:587.90px;top:453.88px;font-size:9.00px;color:#fff;-webkit-text-stroke:0.15px #fff;">35</div>
<div class="t" style="left:611.70px;top:453.88px;font-size:9.00px;color:#1a1a1a;-webkit-text-stroke:0.3px #1a1a1a;">Armenia</div>
<div class="t" style="left:694.40px;top:453.88px;font-size:9.00px;color:#1a1a1a;-webkit-text-stroke:0.3px #1a1a1a;">105</div>
<div class="ln" style="left:607.1px;top:462.90px;width:106.8px"></div>
<div class="bx" style="left:584.9px;top:463.90px;width:22.2px;height:12.50px;background:#E9532F"></div>
<div class="bx" style="left:584.9px;top:475.40px;width:22.2px;height:1px;background:rgba(255,255,255,0.6)"></div>
<div class="t" style="left:587.90px;top:466.38px;font-size:9.00px;color:#fff;-webkit-text-stroke:0.15px #fff;">35</div>
<div class="t" style="left:611.70px;top:466.38px;font-size:9.00px;color:#1a1a1a;-webkit-text-stroke:0.3px #1a1a1a;">Brazil</div>
<div class="t" style="left:694.40px;top:466.38px;font-size:9.00px;color:#1a1a1a;-webkit-text-stroke:0.3px #1a1a1a;">105</div>
<div class="ln" style="left:607.1px;top:475.40px;width:106.8px"></div>
<div class="bx" style="left:584.9px;top:476.40px;width:22.2px;height:12.50px;background:#E9532F"></div>
<div class="bx" style="left:584.9px;top:487.90px;width:22.2px;height:1px;background:rgba(255,255,255,0.6)"></div>
<div class="t" style="left:587.90px;top:478.88px;font-size:9.00px;color:#fff;-webkit-text-stroke:0.15px #fff;">35</div>
<div class="t" style="left:611.70px;top:478.88px;font-size:9.00px;color:#1a1a1a;-webkit-text-stroke:0.3px #1a1a1a;">Côte d’Ivoire</div>
<div class="t" style="left:694.40px;top:478.88px;font-size:9.00px;color:#1a1a1a;-webkit-text-stroke:0.3px #1a1a1a;">105</div>
<div class="ln" style="left:607.1px;top:487.90px;width:106.8px"></div>
<div class="bx" style="left:584.9px;top:488.90px;width:22.2px;height:12.50px;background:#E9532F"></div>
<div class="bx" style="left:584.9px;top:500.40px;width:22.2px;height:1px;background:rgba(255,255,255,0.6)"></div>
<div class="t" style="left:587.90px;top:491.38px;font-size:9.00px;color:#fff;-webkit-text-stroke:0.15px #fff;">35</div>
<div class="t" style="left:611.70px;top:491.38px;font-size:9.00px;color:#1a1a1a;-webkit-text-stroke:0.3px #1a1a1a;">Egypt</div>
<div class="t" style="left:694.40px;top:491.38px;font-size:9.00px;color:#1a1a1a;-webkit-text-stroke:0.3px #1a1a1a;">105</div>
<div class="ln" style="left:607.1px;top:500.40px;width:106.8px"></div>
<div class="bx" style="left:584.9px;top:501.40px;width:22.2px;height:12.50px;background:#E9532F"></div>
<div class="bx" style="left:584.9px;top:512.90px;width:22.2px;height:1px;background:rgba(255,255,255,0.6)"></div>
<div class="t" style="left:587.90px;top:503.88px;font-size:9.00px;color:#fff;-webkit-text-stroke:0.15px #fff;">35</div>
<div class="t" style="left:611.70px;top:503.88px;font-size:9.00px;color:#1a1a1a;-webkit-text-stroke:0.3px #1a1a1a;">El Salvador</div>
<div class="t" style="left:694.40px;top:503.88px;font-size:9.00px;color:#1a1a1a;-webkit-text-stroke:0.3px #1a1a1a;">105</div>
<div class="ln" style="left:607.1px;top:512.90px;width:106.8px"></div>
<div class="bx" style="left:584.9px;top:513.90px;width:22.2px;height:12.50px;background:#E9532F"></div>
<div class="bx" style="left:584.9px;top:525.40px;width:22.2px;height:1px;background:rgba(255,255,255,0.6)"></div>
<div class="t" style="left:587.90px;top:516.38px;font-size:9.00px;color:#fff;-webkit-text-stroke:0.15px #fff;">35</div>
<div class="t" style="left:611.70px;top:516.38px;font-size:9.00px;color:#1a1a1a;-webkit-text-stroke:0.3px #1a1a1a;">Peru</div>
<div class="t" style="left:694.40px;top:516.38px;font-size:9.00px;color:#1a1a1a;-webkit-text-stroke:0.3px #1a1a1a;">105</div>
<div class="ln" style="left:607.1px;top:525.40px;width:106.8px"></div>
<div class="bx" style="left:584.9px;top:526.40px;width:22.2px;height:12.50px;background:#E9532F"></div>
<div class="bx" style="left:584.9px;top:537.90px;width:22.2px;height:1px;background:rgba(255,255,255,0.6)"></div>
<div class="t" style="left:587.90px;top:528.88px;font-size:9.00px;color:#fff;-webkit-text-stroke:0.15px #fff;">35</div>
<div class="t" style="left:611.70px;top:528.88px;font-size:9.00px;color:#1a1a1a;-webkit-text-stroke:0.3px #1a1a1a;">Timor-Leste</div>
<div class="t" style="left:694.40px;top:528.88px;font-size:9.00px;color:#1a1a1a;-webkit-text-stroke:0.3px #1a1a1a;">105</div>
<div class="ln" style="left:607.1px;top:537.90px;width:106.8px"></div>
<div class="bx" style="left:584.9px;top:538.90px;width:22.2px;height:12.50px;background:#E9532F"></div>
<div class="bx" style="left:584.9px;top:550.40px;width:22.2px;height:1px;background:rgba(255,255,255,0.6)"></div>
<div class="t" style="left:587.90px;top:541.38px;font-size:9.00px;color:#fff;-webkit-text-stroke:0.15px #fff;">35</div>
<div class="t" style="left:611.70px;top:541.38px;font-size:9.00px;color:#1a1a1a;-webkit-text-stroke:0.3px #1a1a1a;">Zambia</div>
<div class="t" style="left:694.40px;top:541.38px;font-size:9.00px;color:#1a1a1a;-webkit-text-stroke:0.3px #1a1a1a;">105</div>
<div class="ln" style="left:607.1px;top:550.40px;width:106.8px"></div>
<div class="bx" style="left:584.9px;top:551.40px;width:22.2px;height:12.50px;background:#E9532F"></div>
<div class="bx" style="left:584.9px;top:562.90px;width:22.2px;height:1px;background:rgba(255,255,255,0.6)"></div>
<div class="t" style="left:587.90px;top:553.88px;font-size:9.00px;color:#fff;-webkit-text-stroke:0.15px #fff;">34</div>
<div class="t" style="left:611.70px;top:553.88px;font-size:9.00px;color:#1a1a1a;-webkit-text-stroke:0.3px #1a1a1a;">Ecuador</div>
<div class="t" style="left:694.40px;top:553.88px;font-size:9.00px;color:#1a1a1a;-webkit-text-stroke:0.3px #1a1a1a;">114</div>
<div class="ln" style="left:607.1px;top:562.90px;width:106.8px"></div>
<div class="bx" style="left:584.9px;top:563.90px;width:22.2px;height:12.50px;background:#E9532F"></div>
<div class="bx" style="left:584.9px;top:575.40px;width:22.2px;height:1px;background:rgba(255,255,255,0.6)"></div>
<div class="t" style="left:587.90px;top:566.38px;font-size:9.00px;color:#fff;-webkit-text-stroke:0.15px #fff;">34</div>
<div class="t" style="left:611.70px;top:566.38px;font-size:9.00px;color:#1a1a1a;-webkit-text-stroke:0.3px #1a1a1a;">Ethiopia</div>
<div class="t" style="left:694.40px;top:566.38px;font-size:9.00px;color:#1a1a1a;-webkit-text-stroke:0.3px #1a1a1a;">114</div>
<div class="ln" style="left:607.1px;top:575.40px;width:106.8px"></div>
<div class="bx" style="left:584.9px;top:576.40px;width:22.2px;height:12.50px;background:#E9532F"></div>
<div class="bx" style="left:584.9px;top:587.90px;width:22.2px;height:1px;background:rgba(255,255,255,0.6)"></div>
<div class="t" style="left:587.90px;top:578.88px;font-size:9.00px;color:#fff;-webkit-text-stroke:0.15px #fff;">34</div>
<div class="t" style="left:611.70px;top:578.88px;font-size:9.00px;color:#1a1a1a;-webkit-text-stroke:0.3px #1a1a1a;">Niger</div>
<div class="t" style="left:694.40px;top:578.88px;font-size:9.00px;color:#1a1a1a;-webkit-text-stroke:0.3px #1a1a1a;">114</div>
<div class="ln" style="left:607.1px;top:587.90px;width:106.8px"></div>
<div class="bx" style="left:584.9px;top:588.90px;width:22.2px;height:12.50px;background:#E9532F"></div>
<div class="bx" style="left:584.9px;top:600.40px;width:22.2px;height:1px;background:rgba(255,255,255,0.6)"></div>
<div class="t" style="left:587.90px;top:591.38px;font-size:9.00px;color:#fff;-webkit-text-stroke:0.15px #fff;">33</div>
<div class="t" style="left:611.70px;top:591.38px;font-size:9.00px;color:#1a1a1a;-webkit-text-stroke:0.3px #1a1a1a;">Moldova</div>
<div class="t" style="left:694.40px;top:591.38px;font-size:9.00px;color:#1a1a1a;-webkit-text-stroke:0.3px #1a1a1a;">117</div>
<div class="ln" style="left:607.1px;top:600.40px;width:106.8px"></div>
<div class="bx" style="left:584.9px;top:601.40px;width:22.2px;height:12.50px;background:#E9532F"></div>
<div class="bx" style="left:584.9px;top:612.90px;width:22.2px;height:1px;background:rgba(255,255,255,0.6)"></div>
<div class="t" style="left:587.90px;top:603.88px;font-size:9.00px;color:#fff;-webkit-text-stroke:0.15px #fff;">33</div>
<div class="t" style="left:611.70px;top:603.88px;font-size:9.00px;color:#1a1a1a;-webkit-text-stroke:0.3px #1a1a1a;">Pakistan</div>
<div class="t" style="left:694.40px;top:603.88px;font-size:9.00px;color:#1a1a1a;-webkit-text-stroke:0.3px #1a1a1a;">117</div>
<div class="ln" style="left:607.1px;top:612.90px;width:106.8px"></div>
<div class="bx" style="left:584.9px;top:613.90px;width:22.2px;height:12.50px;background:#E9532F"></div>
<div class="bx" style="left:584.9px;top:625.40px;width:22.2px;height:1px;background:rgba(255,255,255,0.6)"></div>
<div class="t" style="left:587.90px;top:616.38px;font-size:9.00px;color:#fff;-webkit-text-stroke:0.15px #fff;">33</div>
<div class="t" style="left:611.70px;top:616.38px;font-size:9.00px;color:#1a1a1a;-webkit-text-stroke:0.3px #1a1a1a;">Vietnam</div>
<div class="t" style="left:694.40px;top:616.38px;font-size:9.00px;color:#1a1a1a;-webkit-text-stroke:0.3px #1a1a1a;">117</div>
<div class="ln" style="left:607.1px;top:625.40px;width:106.8px"></div>
<div class="bx" style="left:584.9px;top:626.40px;width:22.2px;height:12.50px;background:#E9532F"></div>
<div class="bx" style="left:584.9px;top:637.90px;width:22.2px;height:1px;background:rgba(255,255,255,0.6)"></div>
<div class="t" style="left:587.90px;top:628.88px;font-size:9.00px;color:#fff;-webkit-text-stroke:0.15px #fff;">32</div>
<div class="t" style="left:611.70px;top:628.88px;font-size:9.00px;color:#1a1a1a;-webkit-text-stroke:0.3px #1a1a1a;">Liberia</div>
<div class="t" style="left:694.40px;top:628.88px;font-size:9.00px;color:#1a1a1a;-webkit-text-stroke:0.3px #1a1a1a;">120</div>
<div class="ln" style="left:607.1px;top:637.90px;width:106.8px"></div>
<div class="bx" style="left:584.9px;top:638.90px;width:22.2px;height:12.50px;background:#E9532F"></div>
<div class="bx" style="left:584.9px;top:650.40px;width:22.2px;height:1px;background:rgba(255,255,255,0.6)"></div>
<div class="t" style="left:587.90px;top:641.38px;font-size:9.00px;color:#fff;-webkit-text-stroke:0.15px #fff;">32</div>
<div class="t" style="left:611.70px;top:641.38px;font-size:9.00px;color:#1a1a1a;-webkit-text-stroke:0.3px #1a1a1a;">Malawi</div>
<div class="t" style="left:694.40px;top:641.38px;font-size:9.00px;color:#1a1a1a;-webkit-text-stroke:0.3px #1a1a1a;">120</div>
<div class="ln" style="left:607.1px;top:650.40px;width:106.8px"></div>
<div class="bx" style="left:584.9px;top:651.40px;width:22.2px;height:12.50px;background:#E9532F"></div>
<div class="bx" style="left:584.9px;top:662.90px;width:22.2px;height:1px;background:rgba(255,255,255,0.6)"></div>
<div class="t" style="left:587.90px;top:653.88px;font-size:9.00px;color:#fff;-webkit-text-stroke:0.15px #fff;">32</div>
<div class="t" style="left:611.70px;top:653.88px;font-size:9.00px;color:#1a1a1a;-webkit-text-stroke:0.3px #1a1a1a;">Mali</div>
<div class="t" style="left:694.40px;top:653.88px;font-size:9.00px;color:#1a1a1a;-webkit-text-stroke:0.3px #1a1a1a;">120</div>
<div class="ln" style="left:607.1px;top:662.90px;width:106.8px"></div>
<div class="bx" style="left:584.9px;top:663.90px;width:22.2px;height:12.50px;background:#E9532F"></div>
<div class="bx" style="left:584.9px;top:675.40px;width:22.2px;height:1px;background:rgba(255,255,255,0.6)"></div>
<div class="t" style="left:587.90px;top:666.38px;font-size:9.00px;color:#fff;-webkit-text-stroke:0.15px #fff;">32</div>
<div class="t" style="left:611.70px;top:666.38px;font-size:9.00px;color:#1a1a1a;-webkit-text-stroke:0.3px #1a1a1a;">Ukraine</div>
<div class="t" style="left:694.40px;top:666.38px;font-size:9.00px;color:#1a1a1a;-webkit-text-stroke:0.3px #1a1a1a;">120</div>
<div class="ln" style="left:607.1px;top:675.40px;width:106.8px"></div>
<div class="bx" style="left:584.9px;top:676.40px;width:22.2px;height:12.50px;background:#E9532F"></div>
<div class="bx" style="left:584.9px;top:687.90px;width:22.2px;height:1px;background:rgba(255,255,255,0.6)"></div>
<div class="t" style="left:587.90px;top:678.88px;font-size:9.00px;color:#fff;-webkit-text-stroke:0.15px #fff;">31</div>
<div class="t" style="left:611.70px;top:678.88px;font-size:9.00px;color:#1a1a1a;-webkit-text-stroke:0.3px #1a1a1a;">Djibouti</div>
<div class="t" style="left:694.40px;top:678.88px;font-size:9.00px;color:#1a1a1a;-webkit-text-stroke:0.3px #1a1a1a;">124</div>
<div class="ln" style="left:607.1px;top:687.90px;width:106.8px"></div>
<div class="bx" style="left:584.9px;top:688.90px;width:22.2px;height:12.50px;background:#E9532F"></div>
<div class="bx" style="left:584.9px;top:700.40px;width:22.2px;height:1px;background:rgba(255,255,255,0.6)"></div>
<div class="t" style="left:587.90px;top:691.38px;font-size:9.00px;color:#fff;-webkit-text-stroke:0.15px #fff;">31</div>
<div class="t" style="left:611.70px;top:691.38px;font-size:9.00px;color:#1a1a1a;-webkit-text-stroke:0.3px #1a1a1a;">Gabon</div>
<div class="t" style="left:694.40px;top:691.38px;font-size:9.00px;color:#1a1a1a;-webkit-text-stroke:0.3px #1a1a1a;">124</div>
<div class="ln" style="left:607.1px;top:700.40px;width:106.8px"></div>
<div class="bx" style="left:584.9px;top:701.40px;width:22.2px;height:12.50px;background:#E9532F"></div>
<div class="bx" style="left:584.9px;top:712.90px;width:22.2px;height:1px;background:rgba(255,255,255,0.6)"></div>
<div class="t" style="left:587.90px;top:703.88px;font-size:9.00px;color:#fff;-webkit-text-stroke:0.15px #fff;">31</div>
<div class="t" style="left:611.70px;top:703.88px;font-size:9.00px;color:#1a1a1a;-webkit-text-stroke:0.3px #1a1a1a;">Kazakhstan</div>
<div class="t" style="left:694.40px;top:703.88px;font-size:9.00px;color:#1a1a1a;-webkit-text-stroke:0.3px #1a1a1a;">124</div>
<div class="ln" style="left:607.1px;top:712.90px;width:106.8px"></div>
<div class="bx" style="left:584.9px;top:713.90px;width:22.2px;height:12.50px;background:#E9532F"></div>
<div class="bx" style="left:584.9px;top:725.40px;width:22.2px;height:1px;background:rgba(255,255,255,0.6)"></div>
<div class="t" style="left:587.90px;top:716.38px;font-size:9.00px;color:#fff;-webkit-text-stroke:0.15px #fff;">31</div>
<div class="t" style="left:611.70px;top:716.38px;font-size:9.00px;color:#1a1a1a;-webkit-text-stroke:0.3px #1a1a1a;">Maldives</div>
<div class="t" style="left:694.40px;top:716.38px;font-size:9.00px;color:#1a1a1a;-webkit-text-stroke:0.3px #1a1a1a;">124</div>
<div class="ln" style="left:607.1px;top:725.40px;width:106.8px"></div>
<div class="bx" style="left:584.9px;top:726.40px;width:22.2px;height:12.50px;background:#E9532F"></div>
<div class="bx" style="left:584.9px;top:737.90px;width:22.2px;height:1px;background:rgba(255,255,255,0.6)"></div>
<div class="t" style="left:587.90px;top:728.88px;font-size:9.00px;color:#fff;-webkit-text-stroke:0.15px #fff;">31</div>
<div class="t" style="left:611.70px;top:728.88px;font-size:9.00px;color:#1a1a1a;-webkit-text-stroke:0.3px #1a1a1a;">Nepal</div>
<div class="t" style="left:694.40px;top:728.88px;font-size:9.00px;color:#1a1a1a;-webkit-text-stroke:0.3px #1a1a1a;">124</div>
<div class="ln" style="left:607.1px;top:737.90px;width:106.8px"></div>
<div class="bx" style="left:584.9px;top:738.90px;width:22.2px;height:21.60px;background:#E9532F"></div>
<div class="bx" style="left:584.9px;top:759.50px;width:22.2px;height:1px;background:rgba(255,255,255,0.6)"></div>
<div class="t" style="left:587.90px;top:741.38px;font-size:9.00px;color:#fff;-webkit-text-stroke:0.15px #fff;">30</div>
<div class="t" style="left:611.70px;top:741.38px;font-size:9.00px;color:#1a1a1a;-webkit-text-stroke:0.3px #1a1a1a;">Dominican</div>
<div class="t" style="left:611.70px;top:750.48px;font-size:9.00px;color:#1a1a1a;-webkit-text-stroke:0.3px #1a1a1a;">Republic</div>
<div class="t" style="left:694.40px;top:741.38px;font-size:9.00px;color:#1a1a1a;-webkit-text-stroke:0.3px #1a1a1a;">129</div>
<div class="ln" style="left:607.1px;top:759.50px;width:106.8px"></div>
<div class="bx" style="left:584.9px;top:760.50px;width:22.2px;height:12.50px;background:#E9532F"></div>
<div class="bx" style="left:584.9px;top:772.00px;width:22.2px;height:1px;background:rgba(255,255,255,0.6)"></div>
<div class="t" style="left:587.90px;top:762.98px;font-size:9.00px;color:#fff;-webkit-text-stroke:0.15px #fff;">30</div>
<div class="t" style="left:611.70px;top:762.98px;font-size:9.00px;color:#1a1a1a;-webkit-text-stroke:0.3px #1a1a1a;">Sierra Leone</div>
<div class="t" style="left:694.40px;top:762.98px;font-size:9.00px;color:#1a1a1a;-webkit-text-stroke:0.3px #1a1a1a;">129</div>
<div class="ln" style="left:607.1px;top:772.00px;width:106.8px"></div>
<div class="bx" style="left:584.9px;top:773.00px;width:22.2px;height:12.50px;background:#E9532F"></div>
<div class="bx" style="left:584.9px;top:784.50px;width:22.2px;height:1px;background:rgba(255,255,255,0.6)"></div>
<div class="t" style="left:587.90px;top:775.48px;font-size:9.00px;color:#fff;-webkit-text-stroke:0.15px #fff;">30</div>
<div class="t" style="left:611.70px;top:775.48px;font-size:9.00px;color:#1a1a1a;-webkit-text-stroke:0.3px #1a1a1a;">Togo</div>
<div class="t" style="left:694.40px;top:775.48px;font-size:9.00px;color:#1a1a1a;-webkit-text-stroke:0.3px #1a1a1a;">129</div>
<div class="ln" style="left:607.1px;top:784.50px;width:106.8px"></div>
<div class="bx" style="left:584.9px;top:785.50px;width:22.2px;height:12.50px;background:#E3313A"></div>
<div class="bx" style="left:584.9px;top:797.00px;width:22.2px;height:1px;background:rgba(255,255,255,0.6)"></div>
<div class="t" style="left:587.90px;top:787.98px;font-size:9.00px;color:#fff;-webkit-text-stroke:0.15px #fff;">29</div>
<div class="t" style="left:611.70px;top:787.98px;font-size:9.00px;color:#1a1a1a;-webkit-text-stroke:0.3px #1a1a1a;">Bolivia</div>
<div class="t" style="left:694.40px;top:787.98px;font-size:9.00px;color:#1a1a1a;-webkit-text-stroke:0.3px #1a1a1a;">132</div>
<div class="ln" style="left:607.1px;top:797.00px;width:106.8px"></div>
<div class="ln" style="left:743.9px;top:450.4px;width:106.8px"></div>
<div class="bx" style="left:721.7px;top:451.40px;width:22.2px;height:12.50px;background:#E3313A"></div>
<div class="bx" style="left:721.7px;top:462.90px;width:22.2px;height:1px;background:rgba(255,255,255,0.6)"></div>
<div class="t" style="left:724.70px;top:453.88px;font-size:9.00px;color:#fff;-webkit-text-stroke:0.15px #fff;">29</div>
<div class="t" style="left:748.50px;top:453.88px;font-size:9.00px;color:#1a1a1a;-webkit-text-stroke:0.3px #1a1a1a;">Honduras</div>
<div class="t" style="left:831.20px;top:453.88px;font-size:9.00px;color:#1a1a1a;-webkit-text-stroke:0.3px #1a1a1a;">132</div>
<div class="ln" style="left:743.9px;top:462.90px;width:106.8px"></div>
<div class="bx" style="left:721.7px;top:463.90px;width:22.2px;height:12.50px;background:#E3313A"></div>
<div class="bx" style="left:721.7px;top:475.40px;width:22.2px;height:1px;background:rgba(255,255,255,0.6)"></div>
<div class="t" style="left:724.70px;top:466.38px;font-size:9.00px;color:#fff;-webkit-text-stroke:0.15px #fff;">29</div>
<div class="t" style="left:748.50px;top:466.38px;font-size:9.00px;color:#1a1a1a;-webkit-text-stroke:0.3px #1a1a1a;">Kyrgyzstan</div>
<div class="t" style="left:831.20px;top:466.38px;font-size:9.00px;color:#1a1a1a;-webkit-text-stroke:0.3px #1a1a1a;">132</div>
<div class="ln" style="left:743.9px;top:475.40px;width:106.8px"></div>
<div class="bx" style="left:721.7px;top:476.40px;width:22.2px;height:12.50px;background:#E3313A"></div>
<div class="bx" style="left:721.7px;top:487.90px;width:22.2px;height:1px;background:rgba(255,255,255,0.6)"></div>
<div class="t" style="left:724.70px;top:478.88px;font-size:9.00px;color:#fff;-webkit-text-stroke:0.15px #fff;">29</div>
<div class="t" style="left:748.50px;top:478.88px;font-size:9.00px;color:#1a1a1a;-webkit-text-stroke:0.3px #1a1a1a;">Laos</div>
<div class="t" style="left:831.20px;top:478.88px;font-size:9.00px;color:#1a1a1a;-webkit-text-stroke:0.3px #1a1a1a;">132</div>
<div class="ln" style="left:743.9px;top:487.90px;width:106.8px"></div>
<div class="bx" style="left:721.7px;top:488.90px;width:22.2px;height:12.50px;background:#E3313A"></div>
<div class="bx" style="left:721.7px;top:500.40px;width:22.2px;height:1px;background:rgba(255,255,255,0.6)"></div>
<div class="t" style="left:724.70px;top:491.38px;font-size:9.00px;color:#fff;-webkit-text-stroke:0.15px #fff;">29</div>
<div class="t" style="left:748.50px;top:491.38px;font-size:9.00px;color:#1a1a1a;-webkit-text-stroke:0.3px #1a1a1a;">Myanmar</div>
<div class="t" style="left:831.20px;top:491.38px;font-size:9.00px;color:#1a1a1a;-webkit-text-stroke:0.3px #1a1a1a;">132</div>
<div class="ln" style="left:743.9px;top:500.40px;width:106.8px"></div>
<div class="bx" style="left:721.7px;top:501.40px;width:22.2px;height:12.50px;background:#E3313A"></div>
<div class="bx" style="left:721.7px;top:512.90px;width:22.2px;height:1px;background:rgba(255,255,255,0.6)"></div>
<div class="t" style="left:724.70px;top:503.88px;font-size:9.00px;color:#fff;-webkit-text-stroke:0.15px #fff;">29</div>
<div class="t" style="left:748.50px;top:503.88px;font-size:9.00px;color:#1a1a1a;-webkit-text-stroke:0.3px #1a1a1a;">Paraguay</div>
<div class="t" style="left:831.20px;top:503.88px;font-size:9.00px;color:#1a1a1a;-webkit-text-stroke:0.3px #1a1a1a;">132</div>
<div class="ln" style="left:743.9px;top:512.90px;width:106.8px"></div>
<div class="bx" style="left:721.7px;top:513.90px;width:22.2px;height:12.50px;background:#E3313A"></div>
<div class="bx" style="left:721.7px;top:525.40px;width:22.2px;height:1px;background:rgba(255,255,255,0.6)"></div>
<div class="t" style="left:724.70px;top:516.38px;font-size:9.00px;color:#fff;-webkit-text-stroke:0.15px #fff;">28</div>
<div class="t" style="left:748.50px;top:516.38px;font-size:9.00px;color:#1a1a1a;-webkit-text-stroke:0.3px #1a1a1a;">Guinea</div>
<div class="t" style="left:831.20px;top:516.38px;font-size:9.00px;color:#1a1a1a;-webkit-text-stroke:0.3px #1a1a1a;">138</div>
<div class="ln" style="left:743.9px;top:525.40px;width:106.8px"></div>
<div class="bx" style="left:721.7px;top:526.40px;width:22.2px;height:12.50px;background:#E3313A"></div>
<div class="bx" style="left:721.7px;top:537.90px;width:22.2px;height:1px;background:rgba(255,255,255,0.6)"></div>
<div class="t" style="left:724.70px;top:528.88px;font-size:9.00px;color:#fff;-webkit-text-stroke:0.15px #fff;">28</div>
<div class="t" style="left:748.50px;top:528.88px;font-size:9.00px;color:#1a1a1a;-webkit-text-stroke:0.3px #1a1a1a;">Iran</div>
<div class="t" style="left:831.20px;top:528.88px;font-size:9.00px;color:#1a1a1a;-webkit-text-stroke:0.3px #1a1a1a;">138</div>
<div class="ln" style="left:743.9px;top:537.90px;width:106.8px"></div>
<div class="bx" style="left:721.7px;top:538.90px;width:22.2px;height:12.50px;background:#E3313A"></div>
<div class="bx" style="left:721.7px;top:550.40px;width:22.2px;height:1px;background:rgba(255,255,255,0.6)"></div>
<div class="t" style="left:724.70px;top:541.38px;font-size:9.00px;color:#fff;-webkit-text-stroke:0.15px #fff;">28</div>
<div class="t" style="left:748.50px;top:541.38px;font-size:9.00px;color:#1a1a1a;-webkit-text-stroke:0.3px #1a1a1a;">Lebanon</div>
<div class="t" style="left:831.20px;top:541.38px;font-size:9.00px;color:#1a1a1a;-webkit-text-stroke:0.3px #1a1a1a;">138</div>
<div class="ln" style="left:743.9px;top:550.40px;width:106.8px"></div>
<div class="bx" style="left:721.7px;top:551.40px;width:22.2px;height:12.50px;background:#E3313A"></div>
<div class="bx" style="left:721.7px;top:562.90px;width:22.2px;height:1px;background:rgba(255,255,255,0.6)"></div>
<div class="t" style="left:724.70px;top:553.88px;font-size:9.00px;color:#fff;-webkit-text-stroke:0.15px #fff;">28</div>
<div class="t" style="left:748.50px;top:553.88px;font-size:9.00px;color:#1a1a1a;-webkit-text-stroke:0.3px #1a1a1a;">Mexico</div>
<div class="t" style="left:831.20px;top:553.88px;font-size:9.00px;color:#1a1a1a;-webkit-text-stroke:0.3px #1a1a1a;">138</div>
<div class="ln" style="left:743.9px;top:562.90px;width:106.8px"></div>
<div class="bx" style="left:721.7px;top:563.90px;width:22.2px;height:21.60px;background:#E3313A"></div>
<div class="bx" style="left:721.7px;top:584.50px;width:22.2px;height:1px;background:rgba(255,255,255,0.6)"></div>
<div class="t" style="left:724.70px;top:566.38px;font-size:9.00px;color:#fff;-webkit-text-stroke:0.15px #fff;">28</div>
<div class="t" style="left:748.50px;top:566.38px;font-size:9.00px;color:#1a1a1a;-webkit-text-stroke:0.3px #1a1a1a;">Papua</div>
<div class="t" style="left:748.50px;top:575.48px;font-size:9.00px;color:#1a1a1a;-webkit-text-stroke:0.3px #1a1a1a;">New Guinea</div>
<div class="t" style="left:831.20px;top:566.38px;font-size:9.00px;color:#1a1a1a;-webkit-text-stroke:0.3px #1a1a1a;">138</div>
<div class="ln" style="left:743.9px;top:584.50px;width:106.8px"></div>
<div class="bx" style="left:721.7px;top:585.50px;width:22.2px;height:12.50px;background:#E3313A"></div>
<div class="bx" style="left:721.7px;top:597.00px;width:22.2px;height:1px;background:rgba(255,255,255,0.6)"></div>
<div class="t" style="left:724.70px;top:587.98px;font-size:9.00px;color:#fff;-webkit-text-stroke:0.15px #fff;">28</div>
<div class="t" style="left:748.50px;top:587.98px;font-size:9.00px;color:#1a1a1a;-webkit-text-stroke:0.3px #1a1a1a;">Russia</div>
<div class="t" style="left:831.20px;top:587.98px;font-size:9.00px;color:#1a1a1a;-webkit-text-stroke:0.3px #1a1a1a;">138</div>
<div class="ln" style="left:743.9px;top:597.00px;width:106.8px"></div>
<div class="bx" style="left:721.7px;top:598.00px;width:22.2px;height:12.50px;background:#E3313A"></div>
<div class="bx" style="left:721.7px;top:609.50px;width:22.2px;height:1px;background:rgba(255,255,255,0.6)"></div>
<div class="t" style="left:724.70px;top:600.48px;font-size:9.00px;color:#fff;-webkit-text-stroke:0.15px #fff;">27</div>
<div class="t" style="left:748.50px;top:600.48px;font-size:9.00px;color:#1a1a1a;-webkit-text-stroke:0.3px #1a1a1a;">Comoros</div>
<div class="t" style="left:831.20px;top:600.48px;font-size:9.00px;color:#1a1a1a;-webkit-text-stroke:0.3px #1a1a1a;">144</div>
<div class="ln" style="left:743.9px;top:609.50px;width:106.8px"></div>
<div class="bx" style="left:721.7px;top:610.50px;width:22.2px;height:12.50px;background:#E3313A"></div>
<div class="bx" style="left:721.7px;top:622.00px;width:22.2px;height:1px;background:rgba(255,255,255,0.6)"></div>
<div class="t" style="left:724.70px;top:612.98px;font-size:9.00px;color:#fff;-webkit-text-stroke:0.15px #fff;">27</div>
<div class="t" style="left:748.50px;top:612.98px;font-size:9.00px;color:#1a1a1a;-webkit-text-stroke:0.3px #1a1a1a;">Guatemala</div>
<div class="t" style="left:831.20px;top:612.98px;font-size:9.00px;color:#1a1a1a;-webkit-text-stroke:0.3px #1a1a1a;">144</div>
<div class="ln" style="left:743.9px;top:622.00px;width:106.8px"></div>
<div class="bx" style="left:721.7px;top:623.00px;width:22.2px;height:12.50px;background:#E3313A"></div>
<div class="bx" style="left:721.7px;top:634.50px;width:22.2px;height:1px;background:rgba(255,255,255,0.6)"></div>
<div class="t" style="left:724.70px;top:625.48px;font-size:9.00px;color:#fff;-webkit-text-stroke:0.15px #fff;">27</div>
<div class="t" style="left:748.50px;top:625.48px;font-size:9.00px;color:#1a1a1a;-webkit-text-stroke:0.3px #1a1a1a;">Kenya</div>
<div class="t" style="left:831.20px;top:625.48px;font-size:9.00px;color:#1a1a1a;-webkit-text-stroke:0.3px #1a1a1a;">144</div>
<div class="ln" style="left:743.9px;top:634.50px;width:106.8px"></div>
<div class="bx" style="left:721.7px;top:635.50px;width:22.2px;height:12.50px;background:#E3313A"></div>
<div class="bx" style="left:721.7px;top:647.00px;width:22.2px;height:1px;background:rgba(255,255,255,0.6)"></div>
<div class="t" style="left:724.70px;top:637.98px;font-size:9.00px;color:#fff;-webkit-text-stroke:0.15px #fff;">27</div>
<div class="t" style="left:748.50px;top:637.98px;font-size:9.00px;color:#1a1a1a;-webkit-text-stroke:0.3px #1a1a1a;">Mauritania</div>
<div class="t" style="left:831.20px;top:637.98px;font-size:9.00px;color:#1a1a1a;-webkit-text-stroke:0.3px #1a1a1a;">144</div>
<div class="ln" style="left:743.9px;top:647.00px;width:106.8px"></div>
<div class="bx" style="left:721.7px;top:648.00px;width:22.2px;height:12.50px;background:#E3313A"></div>
<div class="bx" style="left:721.7px;top:659.50px;width:22.2px;height:1px;background:rgba(255,255,255,0.6)"></div>
<div class="t" style="left:724.70px;top:650.48px;font-size:9.00px;color:#fff;-webkit-text-stroke:0.15px #fff;">27</div>
<div class="t" style="left:748.50px;top:650.48px;font-size:9.00px;color:#1a1a1a;-webkit-text-stroke:0.3px #1a1a1a;">Nigeria</div>
<div class="t" style="left:831.20px;top:650.48px;font-size:9.00px;color:#1a1a1a;-webkit-text-stroke:0.3px #1a1a1a;">144</div>
<div class="ln" style="left:743.9px;top:659.50px;width:106.8px"></div>
<div class="bx" style="left:721.7px;top:660.50px;width:22.2px;height:12.50px;background:#E3313A"></div>
<div class="bx" style="left:721.7px;top:672.00px;width:22.2px;height:1px;background:rgba(255,255,255,0.6)"></div>
<div class="t" style="left:724.70px;top:662.98px;font-size:9.00px;color:#fff;-webkit-text-stroke:0.15px #fff;">26</div>
<div class="t" style="left:748.50px;top:662.98px;font-size:9.00px;color:#1a1a1a;-webkit-text-stroke:0.3px #1a1a1a;">Bangladesh</div>
<div class="t" style="left:831.20px;top:662.98px;font-size:9.00px;color:#1a1a1a;-webkit-text-stroke:0.3px #1a1a1a;">149</div>
<div class="ln" style="left:743.9px;top:672.00px;width:106.8px"></div>
<div class="bx" style="left:721.7px;top:673.00px;width:22.2px;height:21.60px;background:#E3313A"></div>
<div class="bx" style="left:721.7px;top:693.60px;width:22.2px;height:1px;background:rgba(255,255,255,0.6)"></div>
<div class="t" style="left:724.70px;top:675.48px;font-size:9.00px;color:#fff;-webkit-text-stroke:0.15px #fff;">26</div>
<div class="t" style="left:748.50px;top:675.48px;font-size:9.00px;color:#1a1a1a;-webkit-text-stroke:0.3px #1a1a1a;">Central African</div>
<div class="t" style="left:748.50px;top:684.58px;font-size:9.00px;color:#1a1a1a;-webkit-text-stroke:0.3px #1a1a1a;">Republic</div>
<div class="t" style="left:831.20px;top:675.48px;font-size:9.00px;color:#1a1a1a;-webkit-text-stroke:0.3px #1a1a1a;">149</div>
<div class="ln" style="left:743.9px;top:693.60px;width:106.8px"></div>
<div class="bx" style="left:721.7px;top:694.60px;width:22.2px;height:12.50px;background:#E3313A"></div>
<div class="bx" style="left:721.7px;top:706.10px;width:22.2px;height:1px;background:rgba(255,255,255,0.6)"></div>
<div class="t" style="left:724.70px;top:697.08px;font-size:9.00px;color:#fff;-webkit-text-stroke:0.15px #fff;">26</div>
<div class="t" style="left:748.50px;top:697.08px;font-size:9.00px;color:#1a1a1a;-webkit-text-stroke:0.3px #1a1a1a;">Uganda</div>
<div class="t" style="left:831.20px;top:697.08px;font-size:9.00px;color:#1a1a1a;-webkit-text-stroke:0.3px #1a1a1a;">149</div>
<div class="ln" style="left:743.9px;top:706.10px;width:106.8px"></div>
<div class="bx" style="left:721.7px;top:707.10px;width:22.2px;height:12.50px;background:#E3313A"></div>
<div class="bx" style="left:721.7px;top:718.60px;width:22.2px;height:1px;background:rgba(255,255,255,0.6)"></div>
<div class="t" style="left:724.70px;top:709.58px;font-size:9.00px;color:#fff;-webkit-text-stroke:0.15px #fff;">25</div>
<div class="t" style="left:748.50px;top:709.58px;font-size:9.00px;color:#1a1a1a;-webkit-text-stroke:0.3px #1a1a1a;">Azerbaijan</div>
<div class="t" style="left:831.20px;top:709.58px;font-size:9.00px;color:#1a1a1a;-webkit-text-stroke:0.3px #1a1a1a;">152</div>
<div class="ln" style="left:743.9px;top:718.60px;width:106.8px"></div>
<div class="bx" style="left:721.7px;top:719.60px;width:22.2px;height:12.50px;background:#E3313A"></div>
<div class="bx" style="left:721.7px;top:731.10px;width:22.2px;height:1px;background:rgba(255,255,255,0.6)"></div>
<div class="t" style="left:724.70px;top:722.08px;font-size:9.00px;color:#fff;-webkit-text-stroke:0.15px #fff;">25</div>
<div class="t" style="left:748.50px;top:722.08px;font-size:9.00px;color:#1a1a1a;-webkit-text-stroke:0.3px #1a1a1a;">Cameroon</div>
<div class="t" style="left:831.20px;top:722.08px;font-size:9.00px;color:#1a1a1a;-webkit-text-stroke:0.3px #1a1a1a;">152</div>
<div class="ln" style="left:743.9px;top:731.10px;width:106.8px"></div>
<div class="bx" style="left:721.7px;top:732.10px;width:22.2px;height:12.50px;background:#E3313A"></div>
<div class="bx" style="left:721.7px;top:743.60px;width:22.2px;height:1px;background:rgba(255,255,255,0.6)"></div>
<div class="t" style="left:724.70px;top:734.58px;font-size:9.00px;color:#fff;-webkit-text-stroke:0.15px #fff;">25</div>
<div class="t" style="left:748.50px;top:734.58px;font-size:9.00px;color:#1a1a1a;-webkit-text-stroke:0.3px #1a1a1a;">Madagascar</div>
<div class="t" style="left:831.20px;top:734.58px;font-size:9.00px;color:#1a1a1a;-webkit-text-stroke:0.3px #1a1a1a;">152</div>
<div class="ln" style="left:743.9px;top:743.60px;width:106.8px"></div>
<div class="bx" style="left:721.7px;top:744.60px;width:22.2px;height:12.50px;background:#E3313A"></div>
<div class="bx" style="left:721.7px;top:756.10px;width:22.2px;height:1px;background:rgba(255,255,255,0.6)"></div>
<div class="t" style="left:724.70px;top:747.08px;font-size:9.00px;color:#fff;-webkit-text-stroke:0.15px #fff;">25</div>
<div class="t" style="left:748.50px;top:747.08px;font-size:9.00px;color:#1a1a1a;-webkit-text-stroke:0.3px #1a1a1a;">Nicaragua</div>
<div class="t" style="left:831.20px;top:747.08px;font-size:9.00px;color:#1a1a1a;-webkit-text-stroke:0.3px #1a1a1a;">152</div>
<div class="ln" style="left:743.9px;top:756.10px;width:106.8px"></div>
<div class="bx" style="left:721.7px;top:757.10px;width:22.2px;height:12.50px;background:#E3313A"></div>
<div class="bx" style="left:721.7px;top:768.60px;width:22.2px;height:1px;background:rgba(255,255,255,0.6)"></div>
<div class="t" style="left:724.70px;top:759.58px;font-size:9.00px;color:#fff;-webkit-text-stroke:0.15px #fff;">25</div>
<div class="t" style="left:748.50px;top:759.58px;font-size:9.00px;color:#1a1a1a;-webkit-text-stroke:0.3px #1a1a1a;">Tajikistan</div>
<div class="t" style="left:831.20px;top:759.58px;font-size:9.00px;color:#1a1a1a;-webkit-text-stroke:0.3px #1a1a1a;">152</div>
<div class="ln" style="left:743.9px;top:768.60px;width:106.8px"></div>
<div class="bx" style="left:721.7px;top:769.60px;width:22.2px;height:12.50px;background:#E3313A"></div>
<div class="bx" style="left:721.7px;top:781.10px;width:22.2px;height:1px;background:rgba(255,255,255,0.6)"></div>
<div class="t" style="left:724.70px;top:772.08px;font-size:9.00px;color:#fff;-webkit-text-stroke:0.15px #fff;">24</div>
<div class="t" style="left:748.50px;top:772.08px;font-size:9.00px;color:#1a1a1a;-webkit-text-stroke:0.3px #1a1a1a;">Eritrea</div>
<div class="t" style="left:831.20px;top:772.08px;font-size:9.00px;color:#1a1a1a;-webkit-text-stroke:0.3px #1a1a1a;">157</div>
<div class="ln" style="left:743.9px;top:781.10px;width:106.8px"></div>
<div class="bx" style="left:721.7px;top:782.10px;width:22.2px;height:12.50px;background:#E3313A"></div>
<div class="bx" style="left:721.7px;top:793.60px;width:22.2px;height:1px;background:rgba(255,255,255,0.6)"></div>
<div class="t" style="left:724.70px;top:784.58px;font-size:9.00px;color:#fff;-webkit-text-stroke:0.15px #fff;">23</div>
<div class="t" style="left:748.50px;top:784.58px;font-size:9.00px;color:#1a1a1a;-webkit-text-stroke:0.3px #1a1a1a;">Mozambique</div>
<div class="t" style="left:831.20px;top:784.58px;font-size:9.00px;color:#1a1a1a;-webkit-text-stroke:0.3px #1a1a1a;">158</div>
<div class="ln" style="left:743.9px;top:793.60px;width:106.8px"></div>
<div class="ln" style="left:880.8px;top:450.4px;width:106.8px"></div>
<div class="bx" style="left:858.6px;top:451.40px;width:22.2px;height:12.50px;background:#E3313A"></div>
<div class="bx" style="left:858.6px;top:462.90px;width:22.2px;height:1px;background:rgba(255,255,255,0.6)"></div>
<div class="t" style="left:861.60px;top:453.88px;font-size:9.00px;color:#fff;-webkit-text-stroke:0.15px #fff;">23</div>
<div class="t" style="left:885.40px;top:453.88px;font-size:9.00px;color:#1a1a1a;-webkit-text-stroke:0.3px #1a1a1a;">Uzbekistan</div>
<div class="t" style="left:968.10px;top:453.88px;font-size:9.00px;color:#1a1a1a;-webkit-text-stroke:0.3px #1a1a1a;">158</div>
<div class="ln" style="left:880.8px;top:462.90px;width:106.8px"></div>
<div class="bx" style="left:858.6px;top:463.90px;width:22.2px;height:12.50px;background:#E3313A"></div>
<div class="bx" style="left:858.6px;top:475.40px;width:22.2px;height:1px;background:rgba(255,255,255,0.6)"></div>
<div class="t" style="left:861.60px;top:466.38px;font-size:9.00px;color:#fff;-webkit-text-stroke:0.15px #fff;">22</div>
<div class="t" style="left:885.40px;top:466.38px;font-size:9.00px;color:#1a1a1a;-webkit-text-stroke:0.3px #1a1a1a;">Zimbabwe</div>
<div class="t" style="left:968.10px;top:466.38px;font-size:9.00px;color:#1a1a1a;-webkit-text-stroke:0.3px #1a1a1a;">160</div>
<div class="ln" style="left:880.8px;top:475.40px;width:106.8px"></div>
<div class="bx" style="left:858.6px;top:476.40px;width:22.2px;height:12.50px;background:#E3313A"></div>
<div class="bx" style="left:858.6px;top:487.90px;width:22.2px;height:1px;background:rgba(255,255,255,0.6)"></div>
<div class="t" style="left:861.60px;top:478.88px;font-size:9.00px;color:#fff;-webkit-text-stroke:0.15px #fff;">20</div>
<div class="t" style="left:885.40px;top:478.88px;font-size:9.00px;color:#1a1a1a;-webkit-text-stroke:0.3px #1a1a1a;">Cambodia</div>
<div class="t" style="left:968.10px;top:478.88px;font-size:9.00px;color:#1a1a1a;-webkit-text-stroke:0.3px #1a1a1a;">161</div>
<div class="ln" style="left:880.8px;top:487.90px;width:106.8px"></div>
<div class="bx" style="left:858.6px;top:488.90px;width:22.2px;height:30.70px;background:#E3313A"></div>
<div class="bx" style="left:858.6px;top:518.60px;width:22.2px;height:1px;background:rgba(255,255,255,0.6)"></div>
<div class="t" style="left:861.60px;top:491.38px;font-size:9.00px;color:#fff;-webkit-text-stroke:0.15px #fff;">20</div>
<div class="t" style="left:885.40px;top:491.38px;font-size:9.00px;color:#1a1a1a;-webkit-text-stroke:0.3px #1a1a1a;">Democratic</div>
<div class="t" style="left:885.40px;top:500.48px;font-size:9.00px;color:#1a1a1a;-webkit-text-stroke:0.3px #1a1a1a;">Republic of</div>
<div class="t" style="left:885.40px;top:509.58px;font-size:9.00px;color:#1a1a1a;-webkit-text-stroke:0.3px #1a1a1a;">the Congo</div>
<div class="t" style="left:968.10px;top:491.38px;font-size:9.00px;color:#1a1a1a;-webkit-text-stroke:0.3px #1a1a1a;">161</div>
<div class="ln" style="left:880.8px;top:518.60px;width:106.8px"></div>
<div class="bx" style="left:858.6px;top:519.60px;width:22.2px;height:12.50px;background:#E3313A"></div>
<div class="bx" style="left:858.6px;top:531.10px;width:22.2px;height:1px;background:rgba(255,255,255,0.6)"></div>
<div class="t" style="left:861.60px;top:522.08px;font-size:9.00px;color:#fff;-webkit-text-stroke:0.15px #fff;">20</div>
<div class="t" style="left:885.40px;top:522.08px;font-size:9.00px;color:#1a1a1a;-webkit-text-stroke:0.3px #1a1a1a;">Haiti</div>
<div class="t" style="left:968.10px;top:522.08px;font-size:9.00px;color:#1a1a1a;-webkit-text-stroke:0.3px #1a1a1a;">161</div>
<div class="ln" style="left:880.8px;top:531.10px;width:106.8px"></div>
<div class="bx" style="left:858.6px;top:532.10px;width:22.2px;height:12.50px;background:#E3313A"></div>
<div class="bx" style="left:858.6px;top:543.60px;width:22.2px;height:1px;background:rgba(255,255,255,0.6)"></div>
<div class="t" style="left:861.60px;top:534.58px;font-size:9.00px;color:#fff;-webkit-text-stroke:0.15px #fff;">20</div>
<div class="t" style="left:885.40px;top:534.58px;font-size:9.00px;color:#1a1a1a;-webkit-text-stroke:0.3px #1a1a1a;">Turkmenistan</div>
<div class="t" style="left:968.10px;top:534.58px;font-size:9.00px;color:#1a1a1a;-webkit-text-stroke:0.3px #1a1a1a;">161</div>
<div class="ln" style="left:880.8px;top:543.60px;width:106.8px"></div>
<div class="bx" style="left:858.6px;top:544.60px;width:22.2px;height:12.50px;background:#C42533"></div>
<div class="bx" style="left:858.6px;top:556.10px;width:22.2px;height:1px;background:rgba(255,255,255,0.6)"></div>
<div class="t" style="left:861.60px;top:547.08px;font-size:9.00px;color:#fff;-webkit-text-stroke:0.15px #fff;">19</div>
<div class="t" style="left:885.40px;top:547.08px;font-size:9.00px;color:#1a1a1a;-webkit-text-stroke:0.3px #1a1a1a;">Angola</div>
<div class="t" style="left:968.10px;top:547.08px;font-size:9.00px;color:#1a1a1a;-webkit-text-stroke:0.3px #1a1a1a;">165</div>
<div class="ln" style="left:880.8px;top:556.10px;width:106.8px"></div>
<div class="bx" style="left:858.6px;top:557.10px;width:22.2px;height:12.50px;background:#C42533"></div>
<div class="bx" style="left:858.6px;top:568.60px;width:22.2px;height:1px;background:rgba(255,255,255,0.6)"></div>
<div class="t" style="left:861.60px;top:559.58px;font-size:9.00px;color:#fff;-webkit-text-stroke:0.15px #fff;">19</div>
<div class="t" style="left:885.40px;top:559.58px;font-size:9.00px;color:#1a1a1a;-webkit-text-stroke:0.3px #1a1a1a;">Chad</div>
<div class="t" style="left:968.10px;top:559.58px;font-size:9.00px;color:#1a1a1a;-webkit-text-stroke:0.3px #1a1a1a;">165</div>
<div class="ln" style="left:880.8px;top:568.60px;width:106.8px"></div>
<div class="bx" style="left:858.6px;top:569.60px;width:22.2px;height:12.50px;background:#C42533"></div>
<div class="bx" style="left:858.6px;top:581.10px;width:22.2px;height:1px;background:rgba(255,255,255,0.6)"></div>
<div class="t" style="left:861.60px;top:572.08px;font-size:9.00px;color:#fff;-webkit-text-stroke:0.15px #fff;">19</div>
<div class="t" style="left:885.40px;top:572.08px;font-size:9.00px;color:#1a1a1a;-webkit-text-stroke:0.3px #1a1a1a;">Congo</div>
<div class="t" style="left:968.10px;top:572.08px;font-size:9.00px;color:#1a1a1a;-webkit-text-stroke:0.3px #1a1a1a;">165</div>
<div class="ln" style="left:880.8px;top:581.10px;width:106.8px"></div>
<div class="bx" style="left:858.6px;top:582.10px;width:22.2px;height:12.50px;background:#C42533"></div>
<div class="bx" style="left:858.6px;top:593.60px;width:22.2px;height:1px;background:rgba(255,255,255,0.6)"></div>
<div class="t" style="left:861.60px;top:584.58px;font-size:9.00px;color:#fff;-webkit-text-stroke:0.15px #fff;">18</div>
<div class="t" style="left:885.40px;top:584.58px;font-size:9.00px;color:#1a1a1a;-webkit-text-stroke:0.3px #1a1a1a;">Iraq</div>
<div class="t" style="left:968.10px;top:584.58px;font-size:9.00px;color:#1a1a1a;-webkit-text-stroke:0.3px #1a1a1a;">168</div>
<div class="ln" style="left:880.8px;top:593.60px;width:106.8px"></div>
<div class="bx" style="left:858.6px;top:594.60px;width:22.2px;height:12.50px;background:#C42533"></div>
<div class="bx" style="left:858.6px;top:606.10px;width:22.2px;height:1px;background:rgba(255,255,255,0.6)"></div>
<div class="t" style="left:861.60px;top:597.08px;font-size:9.00px;color:#fff;-webkit-text-stroke:0.15px #fff;">18</div>
<div class="t" style="left:885.40px;top:597.08px;font-size:9.00px;color:#1a1a1a;-webkit-text-stroke:0.3px #1a1a1a;">Venezuela</div>
<div class="t" style="left:968.10px;top:597.08px;font-size:9.00px;color:#1a1a1a;-webkit-text-stroke:0.3px #1a1a1a;">168</div>
<div class="ln" style="left:880.8px;top:606.10px;width:106.8px"></div>
<div class="bx" style="left:858.6px;top:607.10px;width:22.2px;height:12.50px;background:#C42533"></div>
<div class="bx" style="left:858.6px;top:618.60px;width:22.2px;height:1px;background:rgba(255,255,255,0.6)"></div>
<div class="t" style="left:861.60px;top:609.58px;font-size:9.00px;color:#fff;-webkit-text-stroke:0.15px #fff;">17</div>
<div class="t" style="left:885.40px;top:609.58px;font-size:9.00px;color:#1a1a1a;-webkit-text-stroke:0.3px #1a1a1a;">Burundi</div>
<div class="t" style="left:968.10px;top:609.58px;font-size:9.00px;color:#1a1a1a;-webkit-text-stroke:0.3px #1a1a1a;">170</div>
<div class="ln" style="left:880.8px;top:618.60px;width:106.8px"></div>
<div class="bx" style="left:858.6px;top:619.60px;width:22.2px;height:12.50px;background:#C42533"></div>
<div class="bx" style="left:858.6px;top:631.10px;width:22.2px;height:1px;background:rgba(255,255,255,0.6)"></div>
<div class="t" style="left:861.60px;top:622.08px;font-size:9.00px;color:#fff;-webkit-text-stroke:0.15px #fff;">17</div>
<div class="t" style="left:885.40px;top:622.08px;font-size:9.00px;color:#1a1a1a;-webkit-text-stroke:0.3px #1a1a1a;">Libya</div>
<div class="t" style="left:968.10px;top:622.08px;font-size:9.00px;color:#1a1a1a;-webkit-text-stroke:0.3px #1a1a1a;">170</div>
<div class="ln" style="left:880.8px;top:631.10px;width:106.8px"></div>
<div class="bx" style="left:858.6px;top:632.10px;width:22.2px;height:12.50px;background:#C42533"></div>
<div class="bx" style="left:858.6px;top:643.60px;width:22.2px;height:1px;background:rgba(255,255,255,0.6)"></div>
<div class="t" style="left:861.60px;top:634.58px;font-size:9.00px;color:#fff;-webkit-text-stroke:0.15px #fff;">16</div>
<div class="t" style="left:885.40px;top:634.58px;font-size:9.00px;color:#1a1a1a;-webkit-text-stroke:0.3px #1a1a1a;">Afghanistan</div>
<div class="t" style="left:968.10px;top:634.58px;font-size:9.00px;color:#1a1a1a;-webkit-text-stroke:0.3px #1a1a1a;">172</div>
<div class="ln" style="left:880.8px;top:643.60px;width:106.8px"></div>
<div class="bx" style="left:858.6px;top:644.60px;width:22.2px;height:12.50px;background:#C42533"></div>
<div class="bx" style="left:858.6px;top:656.10px;width:22.2px;height:1px;background:rgba(255,255,255,0.6)"></div>
<div class="t" style="left:861.60px;top:647.08px;font-size:9.00px;color:#fff;-webkit-text-stroke:0.15px #fff;">16</div>
<div class="t" style="left:885.40px;top:647.08px;font-size:9.00px;color:#1a1a1a;-webkit-text-stroke:0.3px #1a1a1a;">Equatorial Guinea</div>
<div class="t" style="left:968.10px;top:647.08px;font-size:9.00px;color:#1a1a1a;-webkit-text-stroke:0.3px #1a1a1a;">172</div>
<div class="ln" style="left:880.8px;top:656.10px;width:106.8px"></div>
<div class="bx" style="left:858.6px;top:657.10px;width:22.2px;height:12.50px;background:#C42533"></div>
<div class="bx" style="left:858.6px;top:668.60px;width:22.2px;height:1px;background:rgba(255,255,255,0.6)"></div>
<div class="t" style="left:861.60px;top:659.58px;font-size:9.00px;color:#fff;-webkit-text-stroke:0.15px #fff;">16</div>
<div class="t" style="left:885.40px;top:659.58px;font-size:9.00px;color:#1a1a1a;-webkit-text-stroke:0.3px #1a1a1a;">Guinea Bissau</div>
<div class="t" style="left:968.10px;top:659.58px;font-size:9.00px;color:#1a1a1a;-webkit-text-stroke:0.3px #1a1a1a;">172</div>
<div class="ln" style="left:880.8px;top:668.60px;width:106.8px"></div>
<div class="bx" style="left:858.6px;top:669.60px;width:22.2px;height:12.50px;background:#C42533"></div>
<div class="bx" style="left:858.6px;top:681.10px;width:22.2px;height:1px;background:rgba(255,255,255,0.6)"></div>
<div class="t" style="left:861.60px;top:672.08px;font-size:9.00px;color:#fff;-webkit-text-stroke:0.15px #fff;">16</div>
<div class="t" style="left:885.40px;top:672.08px;font-size:9.00px;color:#1a1a1a;-webkit-text-stroke:0.3px #1a1a1a;">Sudan</div>
<div class="t" style="left:968.10px;top:672.08px;font-size:9.00px;color:#1a1a1a;-webkit-text-stroke:0.3px #1a1a1a;">172</div>
<div class="ln" style="left:880.8px;top:681.10px;width:106.8px"></div>
<div class="bx" style="left:858.6px;top:682.10px;width:22.2px;height:12.50px;background:#C42533"></div>
<div class="bx" style="left:858.6px;top:693.60px;width:22.2px;height:1px;background:rgba(255,255,255,0.6)"></div>
<div class="t" style="left:861.60px;top:684.58px;font-size:9.00px;color:#fff;-webkit-text-stroke:0.15px #fff;">14</div>
<div class="t" style="left:885.40px;top:684.58px;font-size:9.00px;color:#1a1a1a;-webkit-text-stroke:0.3px #1a1a1a;">Korea, North</div>
<div class="t" style="left:968.10px;top:684.58px;font-size:9.00px;color:#1a1a1a;-webkit-text-stroke:0.3px #1a1a1a;">176</div>
<div class="ln" style="left:880.8px;top:693.60px;width:106.8px"></div>
<div class="bx" style="left:858.6px;top:694.60px;width:22.2px;height:12.50px;background:#C42533"></div>
<div class="bx" style="left:858.6px;top:706.10px;width:22.2px;height:1px;background:rgba(255,255,255,0.6)"></div>
<div class="t" style="left:861.60px;top:697.08px;font-size:9.00px;color:#fff;-webkit-text-stroke:0.15px #fff;">14</div>
<div class="t" style="left:885.40px;top:697.08px;font-size:9.00px;color:#1a1a1a;-webkit-text-stroke:0.3px #1a1a1a;">Yemen</div>
<div class="t" style="left:968.10px;top:697.08px;font-size:9.00px;color:#1a1a1a;-webkit-text-stroke:0.3px #1a1a1a;">176</div>
<div class="ln" style="left:880.8px;top:706.10px;width:106.8px"></div>
<div class="bx" style="left:858.6px;top:707.10px;width:22.2px;height:12.50px;background:#C42533"></div>
<div class="bx" style="left:858.6px;top:718.60px;width:22.2px;height:1px;background:rgba(255,255,255,0.6)"></div>
<div class="t" style="left:861.60px;top:709.58px;font-size:9.00px;color:#fff;-webkit-text-stroke:0.15px #fff;">13</div>
<div class="t" style="left:885.40px;top:709.58px;font-size:9.00px;color:#1a1a1a;-webkit-text-stroke:0.3px #1a1a1a;">South Sudan</div>
<div class="t" style="left:968.10px;top:709.58px;font-size:9.00px;color:#1a1a1a;-webkit-text-stroke:0.3px #1a1a1a;">178</div>
<div class="ln" style="left:880.8px;top:718.60px;width:106.8px"></div>
<div class="bx" style="left:858.6px;top:719.60px;width:22.2px;height:12.50px;background:#C42533"></div>
<div class="bx" style="left:858.6px;top:731.10px;width:22.2px;height:1px;background:rgba(255,255,255,0.6)"></div>
<div class="t" style="left:861.60px;top:722.08px;font-size:9.00px;color:#fff;-webkit-text-stroke:0.15px #fff;">13</div>
<div class="t" style="left:885.40px;top:722.08px;font-size:9.00px;color:#1a1a1a;-webkit-text-stroke:0.3px #1a1a1a;">Syria</div>
<div class="t" style="left:968.10px;top:722.08px;font-size:9.00px;color:#1a1a1a;-webkit-text-stroke:0.3px #1a1a1a;">178</div>
<div class="ln" style="left:880.8px;top:731.10px;width:106.8px"></div>
<div class="bx" style="left:858.6px;top:732.10px;width:22.2px;height:12.50px;background:#C42533"></div>
<div class="bx" style="left:858.6px;top:743.60px;width:22.2px;height:1px;background:rgba(255,255,255,0.6)"></div>
<div class="t" style="left:861.60px;top:734.58px;font-size:9.00px;color:#fff;-webkit-text-stroke:0.15px #fff;">10</div>
<div class="t" style="left:885.40px;top:734.58px;font-size:9.00px;color:#1a1a1a;-webkit-text-stroke:0.3px #1a1a1a;">Somalia</div>
<div class="t" style="left:968.10px;top:734.58px;font-size:9.00px;color:#1a1a1a;-webkit-text-stroke:0.3px #1a1a1a;">180</div>
<div class="ln" style="left:880.8px;top:743.60px;width:106.8px"></div>
<div class="t" style="left:61.90px;top:894.83px;font-size:11.30px;font-weight:bold;color:#111;transform:scaleX(0.7266);transform-origin:0 0;-webkit-text-stroke:0.3px #111;">SCORE</div>
<div style="position:absolute;left:61.5px;top:908.6px;width:240px;height:12.3px;background:linear-gradient(to right,#8B1A2C 0%,#A81C2C 8%,#C8202F 16%,#E2303A 26%,#EA5530 36%,#F07A2B 46%,#F39A29 56%,#F7B326 66%,#FAC823 76%,#FCDF1E 86%,#FFF21A 100%)"></div>
<div class="t" style="left:66.20px;top:929.17px;font-size:7.60px;color:#222;transform:scaleX(0.8200);transform-origin:0 0;-webkit-text-stroke:0.25px #222;">0-9</div>
<div style="position:absolute;left:70.2px;top:920.9px;width:1px;height:1.6px;background:#b0303a;opacity:.6"></div>
<div class="t" style="left:87.10px;top:929.17px;font-size:7.60px;color:#222;transform:scaleX(0.8200);transform-origin:0 0;-webkit-text-stroke:0.25px #222;">10-19</div>
<div style="position:absolute;left:94.6px;top:920.9px;width:1px;height:1.6px;background:#b0303a;opacity:.6"></div>
<div class="t" style="left:111.47px;top:929.17px;font-size:7.60px;color:#222;transform:scaleX(0.8200);transform-origin:0 0;-webkit-text-stroke:0.25px #222;">20-29</div>
<div style="position:absolute;left:118.9px;top:920.9px;width:1px;height:1.6px;background:#b0303a;opacity:.6"></div>
<div class="t" style="left:135.84px;top:929.17px;font-size:7.60px;color:#222;transform:scaleX(0.8200);transform-origin:0 0;-webkit-text-stroke:0.25px #222;">30-39</div>
<div style="position:absolute;left:143.3px;top:920.9px;width:1px;height:1.6px;background:#b0303a;opacity:.6"></div>
<div class="t" style="left:160.21px;top:929.17px;font-size:7.60px;color:#222;transform:scaleX(0.8200);transform-origin:0 0;-webkit-text-stroke:0.25px #222;">40-49</div>
<div style="position:absolute;left:167.7px;top:920.9px;width:1px;height:1.6px;background:#b0303a;opacity:.6"></div>
<div class="t" style="left:184.58px;top:929.17px;font-size:7.60px;color:#222;transform:scaleX(0.8200);transform-origin:0 0;-webkit-text-stroke:0.25px #222;">50-59</div>
<div style="position:absolute;left:192.1px;top:920.9px;width:1px;height:1.6px;background:#b0303a;opacity:.6"></div>
<div class="t" style="left:208.95px;top:929.17px;font-size:7.60px;color:#222;transform:scaleX(0.8200);transform-origin:0 0;-webkit-text-stroke:0.25px #222;">60-69</div>
<div style="position:absolute;left:216.4px;top:920.9px;width:1px;height:1.6px;background:#b0303a;opacity:.6"></div>
<div class="t" style="left:233.32px;top:929.17px;font-size:7.60px;color:#222;transform:scaleX(0.8200);transform-origin:0 0;-webkit-text-stroke:0.25px #222;">70-79</div>
<div style="position:absolute;left:240.8px;top:920.9px;width:1px;height:1.6px;background:#b0303a;opacity:.6"></div>
<div class="t" style="left:257.69px;top:929.17px;font-size:7.60px;color:#222;transform:scaleX(0.8200);transform-origin:0 0;-webkit-text-stroke:0.25px #222;">80-89</div>
<div style="position:absolute;left:265.2px;top:920.9px;width:1px;height:1.6px;background:#b0303a;opacity:.6"></div>
<div class="t" style="left:282.33px;top:929.17px;font-size:7.60px;color:#222;transform:scaleX(0.8200);transform-origin:0 0;-webkit-text-stroke:0.25px #222;">90-100</div>
<div style="position:absolute;left:289.5px;top:920.9px;width:1px;height:1.6px;background:#b0303a;opacity:.6"></div>
<div class="t" style="left:38.30px;top:908.64px;font-size:7.40px;color:#333;transform:scaleX(0.8267);transform-origin:0 0;">Highly</div>
<div class="t" style="left:38.30px;top:914.64px;font-size:7.40px;color:#333;transform:scaleX(0.8105);transform-origin:0 0;">Corrupt</div>
<div class="t" style="left:304.90px;top:907.74px;font-size:7.40px;color:#333;transform:scaleX(0.8442);transform-origin:0 0;">Very</div>
<div class="t" style="left:304.90px;top:914.64px;font-size:7.40px;color:#333;transform:scaleX(0.8017);transform-origin:0 0;">Clean</div>
<div style="position:absolute;left:327.8px;top:909.1px;width:18.2px;height:11.6px;background:#E1E1E1"></div>
<div class="t" style="left:327.00px;top:929.17px;font-size:7.60px;color:#222;transform:scaleX(0.7476);transform-origin:0 0;-webkit-text-stroke:0.25px #222;">No data</div>
<div class="t" style="left:916.20px;top:872.48px;font-size:17.15px;font-weight:bold;color:#36A3DA;transform:scaleX(0.9770);transform-origin:0 0;-webkit-text-stroke:0.3px #36A3DA;">#cpi2018</div>
<div class="t" style="left:776.00px;top:896.28px;font-size:18.10px;font-weight:bold;color:#111;transform:scaleX(0.9478);transform-origin:0 0;-webkit-text-stroke:0.5px #111;">www.transparency.org/cpi</div>
<div class="t" style="left:640.10px;top:927.44px;font-size:8.10px;color:#222;transform:scaleX(1.0220);transform-origin:0 0;">This work from Transparency International (2019) is licensed under CC BY-ND 4.0</div>
<svg width="1024" height="973" style="position:absolute;left:0;top:0">
<g fill="none" stroke="#111" stroke-width="1.1"><circle cx="951.5" cy="930.5" r="5.2"/><circle cx="966.5" cy="930.5" r="5.2"/><circle cx="981.7" cy="930.5" r="5.2"/></g>
<text x="951.5" y="932.2" font-family="Liberation Sans" font-weight="bold" font-size="5" text-anchor="middle" fill="#111">cc</text>
<circle cx="966.5" cy="927.6" r="1" fill="#111"/><path d="M965.3,929.3 h2.4 v2.4 h-0.6 v2.3 h-1.2 v-2.3 h-0.6z" fill="#111"/>
<path d="M979.3,929.4 h4.8 M979.3,931.6 h4.8" stroke="#111" stroke-width="1"/>
</svg>
<svg width="1024" height="973" viewBox="0 0 1024 973" style="position:absolute;left:0;top:0">
<g stroke-linejoin="round">
<path d="M308.6,145.2 L323.6,140.9 L334.4,135.5 L343.0,133.4 L337.6,131.2 L335.4,128.0 L340.8,124.8 L346.2,120.5 L351.6,118.3 L358.0,114.0 L362.3,110.8 L370.9,108.7 L381.6,107.6 L390.2,108.2 L398.8,109.7 L392.4,116.2 L385.9,122.6 L379.5,128.0 L380.6,132.3 L382.7,136.6 L378.4,134.5 L374.1,131.2 L370.9,130.2 L364.5,129.1 L358.0,131.2 L351.6,134.5 L346.2,135.5 L338.7,138.8 L325.8,143.0 L312.9,145.6Z" fill="#FDBA14" stroke="#fff" stroke-opacity="0.32" stroke-width="0.5"/>
<path d="M398.8,109.7 L407.4,110.4 L416.0,109.7 L426.8,110.0 L437.5,110.8 L450.4,113.0 L459.0,123.7 L493.4,130.2 L502.0,132.3 L506.2,134.5 L509.5,140.9 L510.5,147.3 L507.3,151.6 L504.1,154.9 L497.7,157.0 L491.2,158.1 L484.8,162.4 L480.5,164.5 L471.9,162.4 L463.3,164.5 L456.8,162.4 L450.4,160.2 L441.8,155.9 L433.2,154.9 L378.4,154.9 L377.3,149.5 L376.3,144.1 L380.6,139.8 L382.7,136.6 L379.5,128.0 L385.9,122.6 L392.4,116.2Z" fill="#FFD300" stroke="#fff" stroke-opacity="0.32" stroke-width="0.5"/>
<path d="M400.0,110.2 L411.7,109.0 L423.4,108.4 L430.5,110.2 L438.7,112.5 L446.9,113.7 L456.2,113.7 L465.6,112.5 L475.0,110.2 L482.0,113.7 L484.4,121.9 L482.0,126.6 L470.3,124.2 L458.6,126.6 L452.7,131.2 L446.9,133.6 L400.0,133.6Z" fill="#FFD300"/>
<path d="M429.3,105.5 L435.2,102.0 L444.5,100.8 L452.7,102.0 L460.9,103.1 L463.3,107.8 L458.6,111.3 L451.6,112.5 L444.5,112.5 L437.5,111.3 L430.5,109.0Z" fill="#FFD300"/>
<path d="M444.5,97.3 L456.2,94.9 L465.6,93.8 L475.0,92.6 L484.4,92.6 L491.4,91.4 L500.8,87.9 L512.5,86.1 L520.0,85.8 L520.0,91.4 L512.5,94.9 L505.5,98.4 L500.8,100.8 L493.8,100.2 L484.4,99.6 L475.0,100.2 L465.6,100.2 L456.2,100.2 L446.9,99.6Z" fill="#FFD300"/>
<path d="M475.0,105.5 L482.0,103.1 L491.4,102.0 L500.8,104.3 L507.8,107.8 L513.7,114.8 L510.2,119.5 L505.5,121.9 L503.1,126.6 L496.1,124.2 L489.1,121.9 L484.4,118.4 L479.7,113.7 L476.2,110.2Z" fill="#FFD300"/>
<path d="M482.0,126.6 L489.1,125.4 L496.1,126.6 L503.1,130.1 L505.5,133.6 L507.8,140.6 L510.2,145.3 L507.8,150.0 L503.1,152.3 L500.8,157.0 L496.1,160.5 L482.0,165.0 L458.6,165.0 L458.6,145.3 L470.3,140.6 L480.9,133.6Z" fill="#FFD300"/>
<path d="M502.0,151.2 L510.2,151.2 L511.9,157.0 L506.1,159.6Z" fill="#FFD300"/>
<path d="M429.9,104.4 L443.5,99.3 L460.6,97.6 L477.7,94.2 L491.4,92.5 L505.1,89.0 L522.1,87.3 L535.8,86.7 L525.6,92.5 L511.9,97.6 L505.1,104.4 L494.8,107.8 L484.6,111.3 L477.7,118.1 L470.9,116.4 L460.6,111.3 L450.4,111.3 L436.7,111.3Z" fill="#FFD300"/>
<path d="M452.0,104.6 L470.0,101.5 L488.0,99.8 L488.5,100.8 L470.0,102.6 L452.0,105.6Z" fill="#fff"/>
<path d="M478.0,108.5 L492.0,104.5 L500.0,101.5 L500.6,102.4 L492.5,105.5 L478.5,109.5Z" fill="#fff"/>
<path d="M452.7,131.2 L458.6,125.4 L465.6,121.9 L472.7,123.0 L479.7,124.2 L482.0,126.6 L480.9,133.6 L477.3,138.3 L470.3,138.3 L468.0,145.3 L465.6,146.5 L464.5,140.6 L458.6,137.1 L453.9,134.8Z" fill="#fff"/>
<path d="M418.8,116.0 L423.4,115.4 L425.2,117.2 L419.9,117.8Z" fill="#fff"/>
<path d="M482.0,126.6 L489.1,124.2 L496.1,125.4 L500.8,128.9 L497.3,131.2 L491.4,130.1 L484.4,130.1Z" fill="#fff"/>
<path d="M418.8,125.4 L424.6,124.8 L425.8,126.6 L419.9,127.1Z" fill="#fff"/>
<path d="M378.4,154.9 L433.2,154.9 L441.8,157.0 L450.4,160.2 L456.8,162.4 L463.3,164.5 L471.9,162.4 L480.5,164.5 L478.3,168.8 L471.9,173.1 L467.6,177.4 L463.3,183.9 L459.0,190.3 L450.4,196.8 L446.1,198.9 L443.9,207.5 L441.8,209.6 L439.6,201.1 L433.2,198.9 L424.6,201.1 L413.9,201.1 L409.6,207.5 L405.3,198.9 L398.8,194.6 L390.2,192.5 L383.8,194.6 L375.2,193.5 L372.0,186.0 L369.8,177.4 L370.9,168.8 L374.1,162.4 L377.3,155.9Z" fill="#FDBA14" stroke="#fff" stroke-opacity="0.32" stroke-width="0.5"/>
<path d="M440.7,158.1 L448.2,157.0 L454.7,159.2 L450.4,161.3 L443.9,160.2Z" fill="#fff"/>
<path d="M450.4,162.4 L454.7,161.3 L457.9,165.6 L455.8,171.0 L453.0,171.0 L452.1,165.6Z" fill="#fff"/>
<path d="M459.0,164.5 L463.3,165.6 L465.4,168.8 L462.2,171.0 L460.1,167.8Z" fill="#fff"/>
<path d="M463.3,171.0 L469.7,168.8 L471.9,169.9 L466.5,172.7Z" fill="#fff"/>
<path d="M374.8,193.3 L380.3,194.8 L379.5,201.9 L383.4,211.2 L382.7,215.2 L378.8,208.9 L375.6,201.9 L374.8,195.6Z" fill="#DF1B24" stroke="#fff" stroke-opacity="0.32" stroke-width="0.5"/>
<path d="M380.3,194.8 L394.4,195.6 L402.2,200.3 L406.9,206.6 L408.4,209.7 L408.4,215.9 L411.6,223.8 L414.7,225.3 L419.4,222.2 L422.5,219.1 L428.8,219.1 L427.2,223.8 L424.1,226.9 L428.8,231.6 L433.4,233.9 L435.0,239.4 L433.4,242.5 L428.8,240.9 L424.1,237.8 L419.4,234.7 L414.7,231.6 L410.0,230.8 L405.3,230.0 L399.1,227.7 L392.8,222.2 L389.7,214.4 L385.0,205.0 L381.9,197.2Z" fill="#DF1B24" stroke="#fff" stroke-opacity="0.32" stroke-width="0.5"/>
<path d="M428.8,240.9 L433.4,242.5 L435.0,245.6 L438.1,248.8 L436.6,251.1 L433.4,248.8 L430.3,245.6Z" fill="#F6881E" stroke="#fff" stroke-opacity="0.32" stroke-width="0.5"/>
<path d="M435.0,245.6 L439.7,247.2 L442.8,248.8 L445.2,248.8 L445.9,251.9 L442.8,251.9 L439.7,250.3 L437.3,250.3Z" fill="#EE4224" stroke="#fff" stroke-opacity="0.32" stroke-width="0.5"/>
<path d="M434.2,216.7 L441.2,215.2 L447.5,218.3 L453.8,221.4 L450.6,222.5 L444.4,220.3 L436.6,218.3Z" fill="#F36B20" stroke="#fff" stroke-opacity="0.32" stroke-width="0.5"/>
<path d="M453.8,223.0 L457.7,222.5 L458.4,226.9 L455.3,226.9 L453.4,225.3Z" fill="#DF1B24" stroke="#fff" stroke-opacity="0.32" stroke-width="0.5"/>
<path d="M457.7,222.5 L461.6,223.4 L466.2,225.3 L463.9,227.7 L458.4,226.9Z" fill="#EE4224" stroke="#fff" stroke-opacity="0.32" stroke-width="0.5"/>
<path d="M445.2,225.6 L448.3,225.6 L448.3,227.2 L445.5,227.2Z" fill="#F36B20" stroke="#fff" stroke-opacity="0.32" stroke-width="0.5"/>
<path d="M408.4,201.9 L411.6,200.3 L422.5,198.8 L428.8,198.0 L435.0,199.5 L439.7,200.3 L442.0,205.8 L442.8,209.7 L445.2,208.1 L445.2,200.3 L449.8,194.1 L456.9,186.2 L460.0,180.0 L406.9,180.0 L403.8,194.1 L406.9,201.9Z" fill="#FDBA14"/>
<path d="M442.2,247.4 L447.7,243.7 L455.1,242.8 L468.1,241.8 L479.2,245.5 L482.9,251.1 L490.3,254.8 L494.0,256.6 L497.7,260.3 L501.4,265.9 L506.9,271.4 L516.2,275.1 L525.4,278.8 L532.8,282.5 L531.9,289.9 L529.1,297.3 L525.4,304.7 L523.6,312.1 L519.9,319.5 L514.3,325.1 L508.8,330.6 L506.9,338.0 L503.2,343.6 L501.4,349.1 L497.7,351.0 L494.0,352.8 L495.8,358.4 L493.1,362.1 L488.4,365.8 L486.6,369.5 L484.7,373.2 L485.7,380.6 L483.8,386.1 L484.7,391.7 L490.3,395.4 L495.8,398.2 L488.4,398.2 L481.0,395.4 L475.5,389.8 L471.8,384.3 L469.0,376.9 L468.1,369.5 L466.2,358.4 L465.3,347.3 L464.4,336.2 L463.5,325.1 L462.5,314.0 L457.0,308.4 L451.4,302.9 L445.9,295.5 L440.3,288.1 L437.6,280.7 L438.5,273.3 L440.3,267.7 L442.2,260.3 L444.0,252.9Z" fill="#EE4224" stroke="#fff" stroke-opacity="0.32" stroke-width="0.5"/>
<path d="M442.2,247.4 L447.7,243.7 L455.1,242.8 L456.1,248.3 L460.7,251.1 L466.2,256.6 L467.2,264.0 L460.7,265.9 L458.8,275.1 L453.3,277.0 L447.7,271.4 L442.2,269.6 L439.4,266.8 L441.3,260.3 L444.0,252.9Z" fill="#EE4224" stroke="#fff" stroke-opacity="0.32" stroke-width="0.5"/>
<path d="M438.5,267.7 L444.0,267.7 L447.7,271.4 L445.9,277.0 L440.3,282.5 L437.6,278.8Z" fill="#EE4224" stroke="#fff" stroke-opacity="0.32" stroke-width="0.5"/>
<path d="M440.3,282.5 L445.9,277.0 L453.3,277.0 L458.8,275.1 L460.7,284.4 L464.4,293.6 L465.3,301.0 L462.5,310.3 L457.0,308.4 L449.6,301.0 L444.0,293.6 L440.3,288.1Z" fill="#EE4224" stroke="#fff" stroke-opacity="0.32" stroke-width="0.5"/>
<path d="M455.1,242.8 L468.1,241.8 L479.2,245.5 L479.2,254.8 L473.6,258.5 L469.9,265.9 L467.2,264.0 L466.2,256.6 L460.7,251.1 L456.1,248.3Z" fill="#A9161D" stroke="#fff" stroke-opacity="0.32" stroke-width="0.5"/>
<path d="M479.2,245.5 L483.8,250.2 L484.7,258.5 L481.0,262.2 L478.3,256.6 L479.2,251.1Z" fill="#EE4224" stroke="#fff" stroke-opacity="0.32" stroke-width="0.5"/>
<path d="M484.7,254.8 L492.1,254.8 L493.1,262.2 L485.7,263.1Z" fill="#F36B20" stroke="#fff" stroke-opacity="0.32" stroke-width="0.5"/>
<path d="M493.1,255.7 L497.7,258.5 L495.8,263.1 L493.1,263.1Z" fill="#E2E2E2" stroke="#fff" stroke-opacity="0.32" stroke-width="0.5"/>
<path d="M464.4,293.6 L473.6,295.5 L479.2,301.0 L482.9,310.3 L486.6,314.0 L484.7,319.5 L481.0,317.7 L475.5,321.4 L469.9,323.2 L466.2,321.4 L465.3,314.0 L464.4,306.6 L465.3,301.0Z" fill="#DF1B24" stroke="#fff" stroke-opacity="0.32" stroke-width="0.5"/>
<path d="M479.2,315.8 L486.6,314.0 L490.3,319.5 L494.0,325.1 L495.8,330.6 L492.1,332.5 L488.4,328.8 L482.9,323.2 L480.1,319.5Z" fill="#DF1B24" stroke="#fff" stroke-opacity="0.32" stroke-width="0.5"/>
<path d="M462.5,314.0 L466.2,321.4 L467.2,332.5 L468.1,343.6 L469.0,358.4 L469.9,369.5 L472.7,380.6 L477.3,388.0 L484.7,393.5 L494.0,398.2 L488.4,398.2 L479.2,394.5 L472.7,388.0 L468.5,380.6 L466.2,369.5 L465.3,356.5 L464.4,343.6 L463.5,328.8Z" fill="#F9A21C" stroke="#fff" stroke-opacity="0.32" stroke-width="0.5"/>
<path d="M466.2,321.4 L469.9,323.2 L475.5,321.4 L481.0,317.7 L483.8,321.4 L488.4,328.8 L492.1,332.5 L495.8,330.6 L494.0,339.9 L492.1,345.4 L494.0,352.8 L495.8,358.4 L493.1,362.1 L488.4,365.8 L485.7,373.2 L485.7,380.6 L483.8,386.1 L484.7,391.7 L481.0,391.7 L475.5,386.1 L472.7,378.7 L470.9,369.5 L469.6,358.4 L468.5,343.6 L467.5,332.5Z" fill="#F36B20" stroke="#fff" stroke-opacity="0.32" stroke-width="0.5"/>
<path d="M492.1,339.9 L497.7,343.6 L501.4,347.3 L499.5,351.0 L494.9,351.9 L492.1,347.3Z" fill="#FDBA14" stroke="#fff" stroke-opacity="0.32" stroke-width="0.5"/>
<path d="M447.5,207.8 L450.3,206.9 L451.6,210.3 L449.1,211.2Z" fill="#F9A21C" stroke="#fff" stroke-opacity="0.32" stroke-width="0.5"/>
<path d="M452.2,212.5 L455.3,211.7 L456.2,215.0 L453.1,215.6Z" fill="#F9A21C" stroke="#fff" stroke-opacity="0.32" stroke-width="0.5"/>
<path d="M456.9,216.2 L459.4,215.9 L459.7,218.1 L457.2,218.4Z" fill="#F9A21C" stroke="#fff" stroke-opacity="0.32" stroke-width="0.5"/>
<path d="M517.2,95.0 L531.2,90.3 L546.9,87.2 L565.6,85.6 L584.4,86.4 L596.9,88.8 L587.5,93.4 L581.2,99.7 L576.6,105.9 L571.9,109.1 L562.5,112.2 L551.6,115.3 L543.8,118.4 L539.1,123.1 L535.9,128.6 L531.2,126.2 L528.1,121.6 L528.1,115.3 L529.7,109.1 L531.2,102.8 L526.6,99.7 L518.8,97.3Z" fill="#E2E2E2" stroke="#fff" stroke-opacity="0.32" stroke-width="0.5"/>
<path d="M500.0,88.8 L515.6,87.2 L537.5,86.4 L531.2,90.3 L518.8,93.4 L506.2,96.6 L500.0,98.1Z" fill="#FFD300" stroke="#fff" stroke-opacity="0.32" stroke-width="0.5"/>
<path d="M572.7,117.7 L578.1,116.6 L584.4,116.1 L589.1,117.7 L587.5,120.0 L581.2,121.6 L576.6,121.6 L573.4,120.0Z" fill="#FDBA14" stroke="#fff" stroke-opacity="0.32" stroke-width="0.5"/>
<path d="M628.1,91.1 L637.5,90.3 L646.9,90.3 L645.3,93.4 L637.5,95.0 L632.8,95.8 L629.7,93.4Z" fill="#FFD300" stroke="#fff" stroke-opacity="0.32" stroke-width="0.5"/>
<path d="M655.9,110.0 L667.0,109.4 L674.1,111.7 L681.1,114.1 L705.0,111.7 L705.0,175.0 L690.5,170.3 L685.8,165.6 L681.1,160.9 L678.8,155.1 L674.1,149.2 L667.0,145.7 L662.3,143.4 L657.1,139.8 L657.7,134.0 L660.0,127.0 L656.5,117.6Z" fill="#DF1B24"/>
<path d="M618.8,125.2 L621.7,122.3 L626.4,119.3 L630.5,115.8 L633.4,111.7 L637.5,109.4 L642.8,107.6 L648.7,107.0 L654.5,108.2 L656.9,109.4 L658.6,114.6 L659.8,119.3 L660.4,124.6 L659.2,128.1 L656.9,130.5 L653.4,131.6 L649.8,131.6 L647.5,131.6 L645.1,133.4 L642.8,137.5 L640.5,141.0 L638.1,141.0 L634.6,138.7 L632.3,137.5 L629.9,136.3 L627.6,134.6 L625.2,134.0 L621.7,132.8 L619.4,130.5 L618.2,127.5Z" fill="#FFD300"/>
<path d="M647.5,117.6 L649.8,118.7 L647.5,122.3 L645.1,125.2 L644.6,128.1 L645.7,131.0 L645.1,132.8 L642.8,135.1 L642.8,139.8 L641.0,141.0 L639.9,137.5 L640.5,132.8 L639.3,127.5 L641.6,123.4 L644.6,119.9Z" fill="#fff"/>
<path d="M632.5,140.4 L634.8,139.6 L636.3,142.2 L634.2,144.3 L632.5,142.8Z" fill="#FFD300" stroke="#fff" stroke-opacity="0.32" stroke-width="0.5"/>
<path d="M596.7,135.2 L600.2,133.4 L603.8,134.0 L605.5,138.7 L606.1,143.4 L609.6,146.9 L610.8,149.2 L606.1,150.4 L601.4,151.6 L599.1,150.4 L601.4,146.9 L600.2,142.2 L597.9,139.8Z" fill="#FFD300" stroke="#fff" stroke-opacity="0.32" stroke-width="0.5"/>
<path d="M590.9,141.0 L595.5,139.8 L597.9,142.2 L596.7,146.9 L592.0,148.0 L590.3,145.7Z" fill="#FDBA14" stroke="#fff" stroke-opacity="0.32" stroke-width="0.5"/>
<path d="M647.1,131.9 L655.3,132.2 L655.9,135.2 L650.6,135.7 L647.7,134.6Z" fill="#FDBA14" stroke="#fff" stroke-opacity="0.32" stroke-width="0.5"/>
<path d="M647.1,134.9 L650.6,135.7 L655.9,135.2 L657.1,137.7 L651.8,138.7 L647.1,138.1Z" fill="#F6881E" stroke="#fff" stroke-opacity="0.32" stroke-width="0.5"/>
<path d="M646.5,138.1 L651.8,138.7 L657.1,137.7 L655.3,141.0 L650.6,141.6 L646.5,140.4Z" fill="#F6881E" stroke="#fff" stroke-opacity="0.32" stroke-width="0.5"/>
<path d="M653.0,139.8 L661.2,138.7 L667.3,145.2 L665.2,148.0 L657.7,148.6 L653.0,146.9 L652.4,143.4Z" fill="#F36B20" stroke="#fff" stroke-opacity="0.32" stroke-width="0.5"/>
<path d="M635.4,142.2 L643.6,141.0 L650.6,140.4 L653.0,143.4 L653.0,148.0 L650.6,151.6 L644.8,152.1 L640.1,151.0 L636.6,149.2Z" fill="#F9A21C" stroke="#fff" stroke-opacity="0.32" stroke-width="0.5"/>
<path d="M623.7,142.2 L631.9,141.0 L635.4,142.2 L636.6,149.2 L637.7,152.7 L634.2,155.1 L635.4,158.6 L631.9,159.8 L626.0,159.2 L622.5,157.4 L621.3,151.6 L620.2,146.9Z" fill="#FFD300" stroke="#fff" stroke-opacity="0.32" stroke-width="0.5"/>
<path d="M619.0,145.1 L622.5,143.4 L623.7,146.9 L621.9,148.6 L619.0,148.0Z" fill="#FFD300" stroke="#fff" stroke-opacity="0.32" stroke-width="0.5"/>
<path d="M616.6,148.6 L621.9,148.6 L622.5,151.6 L620.2,152.7 L617.2,151.0Z" fill="#FDBA14" stroke="#fff" stroke-opacity="0.32" stroke-width="0.5"/>
<path d="M601.4,155.1 L607.3,152.7 L613.1,150.4 L617.2,151.0 L620.2,152.7 L622.5,153.9 L622.5,157.4 L621.3,162.1 L622.5,165.6 L619.0,169.1 L613.1,169.1 L609.6,170.3 L606.1,168.0 L607.3,162.1 L603.8,158.6Z" fill="#FDBA14" stroke="#fff" stroke-opacity="0.32" stroke-width="0.5"/>
<path d="M622.5,159.8 L628.4,159.2 L629.5,162.1 L624.8,163.3 L621.9,162.1Z" fill="#FFD300" stroke="#fff" stroke-opacity="0.32" stroke-width="0.5"/>
<path d="M629.5,158.6 L637.7,157.4 L641.2,158.6 L640.1,162.1 L631.9,162.7 L629.5,160.9Z" fill="#FDBA14" stroke="#fff" stroke-opacity="0.32" stroke-width="0.5"/>
<path d="M635.4,150.4 L643.6,151.6 L644.8,155.1 L638.9,157.4 L635.4,155.1Z" fill="#F6881E" stroke="#fff" stroke-opacity="0.32" stroke-width="0.5"/>
<path d="M643.6,154.5 L650.6,153.3 L651.8,156.2 L645.9,158.0 L643.0,157.4Z" fill="#F6881E" stroke="#fff" stroke-opacity="0.32" stroke-width="0.5"/>
<path d="M641.2,158.6 L648.3,158.0 L650.6,159.8 L648.3,162.7 L642.4,163.3 L640.1,160.9Z" fill="#F36B20" stroke="#fff" stroke-opacity="0.32" stroke-width="0.5"/>
<path d="M653.0,148.0 L657.7,148.6 L665.2,148.0 L667.3,145.5 L674.3,149.2 L678.8,155.1 L676.4,158.6 L671.7,159.8 L667.0,162.1 L662.3,160.9 L658.8,157.4 L655.3,156.2 L651.8,155.1 L650.6,151.6Z" fill="#EE4224" stroke="#fff" stroke-opacity="0.32" stroke-width="0.5"/>
<path d="M650.6,159.8 L657.7,158.0 L662.3,160.9 L661.2,165.6 L655.3,166.8 L650.6,165.6 L648.9,163.3Z" fill="#F36B20" stroke="#fff" stroke-opacity="0.32" stroke-width="0.5"/>
<path d="M632.5,162.7 L636.6,162.3 L637.1,164.5 L633.6,165.0Z" fill="#F9A21C" stroke="#fff" stroke-opacity="0.32" stroke-width="0.5"/>
<path d="M636.6,162.3 L642.4,163.3 L643.6,165.6 L640.1,165.6 L638.9,168.0 L641.2,171.5 L638.9,170.3 L635.4,166.8 L634.2,165.0 L637.1,164.5Z" fill="#F36B20" stroke="#fff" stroke-opacity="0.32" stroke-width="0.5"/>
<path d="M638.9,165.6 L643.6,165.6 L644.8,169.1 L642.4,170.3 L640.1,168.6Z" fill="#EE4224" stroke="#fff" stroke-opacity="0.32" stroke-width="0.5"/>
<path d="M643.6,163.3 L648.9,163.3 L650.6,165.6 L653.0,168.0 L650.6,170.3 L647.1,170.3 L644.8,169.1 L643.6,165.6Z" fill="#EE4224" stroke="#fff" stroke-opacity="0.32" stroke-width="0.5"/>
<path d="M642.4,170.3 L647.1,170.3 L648.9,172.7 L648.3,176.2 L645.9,176.2 L643.6,172.7Z" fill="#EE4224" stroke="#fff" stroke-opacity="0.32" stroke-width="0.5"/>
<path d="M653.0,166.8 L661.2,166.2 L661.8,170.3 L655.3,170.9 L653.0,169.7Z" fill="#F36B20" stroke="#fff" stroke-opacity="0.32" stroke-width="0.5"/>
<path d="M647.7,173.7 L654.7,172.5 L659.4,173.7 L657.0,177.2 L655.9,180.7 L658.2,184.2 L654.7,184.2 L651.2,181.9 L648.8,178.4Z" fill="#F36B20" stroke="#fff" stroke-opacity="0.32" stroke-width="0.5"/>
<path d="M651.2,185.4 L657.0,185.4 L657.0,186.6 L651.2,186.6Z" fill="#F36B20" stroke="#fff" stroke-opacity="0.32" stroke-width="0.5"/>
<path d="M622.0,162.7 L626.6,161.4 L631.9,161.9 L631.3,164.3 L633.6,169.0 L638.3,172.5 L643.0,174.8 L642.4,177.2 L638.3,176.0 L638.9,179.5 L635.9,181.9 L633.6,180.7 L630.1,174.8 L626.6,170.2 L623.1,166.6Z" fill="#F6881E" stroke="#fff" stroke-opacity="0.32" stroke-width="0.5"/>
<path d="M623.6,169.0 L626.0,169.0 L626.6,176.0 L624.0,176.0Z" fill="#F6881E" stroke="#fff" stroke-opacity="0.32" stroke-width="0.5"/>
<path d="M630.1,179.5 L637.1,180.1 L635.9,183.1 L631.3,182.5Z" fill="#F6881E" stroke="#fff" stroke-opacity="0.32" stroke-width="0.5"/>
<path d="M590.2,167.8 L598.4,166.6 L610.2,167.8 L613.7,170.2 L610.2,173.7 L606.6,178.4 L603.1,181.9 L596.1,183.1 L591.4,181.9 L589.1,177.2 L589.7,170.2Z" fill="#F6881E" stroke="#fff" stroke-opacity="0.32" stroke-width="0.5"/>
<path d="M589.1,170.2 L592.6,170.2 L593.8,180.7 L590.2,181.9 L589.1,177.2Z" fill="#F9A21C" stroke="#fff" stroke-opacity="0.32" stroke-width="0.5"/>
<path d="M655.3,170.9 L667.0,169.1 L676.4,170.3 L681.1,172.7 L685.8,175.0 L684.6,180.0 L667.0,180.0 L657.7,179.7 L656.5,175.0Z" fill="#F36B20" stroke="#fff" stroke-opacity="0.32" stroke-width="0.5"/>
<path d="M661.2,163.9 L669.4,162.1 L675.2,160.9 L682.3,163.3 L684.6,166.8 L679.9,169.1 L672.9,169.7 L665.9,169.1 L661.2,168.0Z" fill="#fff"/>
<path d="M656.4,110.2 L663.4,110.2 L668.1,112.5 L672.8,114.1 L679.1,113.3 L686.9,110.9 L694.7,110.2 L702.5,109.4 L708.8,110.2 L711.9,107.8 L713.4,104.7 L716.6,106.2 L721.2,110.9 L724.4,114.1 L725.9,110.9 L727.5,106.2 L733.8,101.6 L740.0,98.4 L749.4,96.9 L758.8,96.1 L768.1,98.4 L774.4,101.6 L780.6,102.3 L788.4,103.1 L796.2,103.1 L800.0,103.9 L800.0,146.9 L796.2,148.4 L786.9,148.4 L777.5,150.0 L768.1,153.1 L758.8,150.0 L749.4,145.3 L741.6,142.2 L733.8,141.4 L724.4,140.6 L716.6,142.2 L713.4,145.3 L705.6,146.9 L699.4,148.4 L693.9,151.6 L694.7,156.2 L697.8,162.5 L696.2,170.3 L693.1,168.8 L688.4,165.6 L682.2,162.5 L677.5,159.4 L679.1,153.1 L675.9,148.4 L671.2,143.8 L666.6,140.6 L661.9,137.5 L658.8,132.8 L659.5,128.1 L661.9,123.4 L665.0,120.3 L668.1,118.0 L674.4,115.6 L671.2,112.5 L663.4,111.2Z" fill="#DF1B24"/>
<path d="M730.6,89.1 L740.0,89.8 L749.4,92.2 L752.5,93.8 L746.2,93.8 L736.9,92.2 L732.2,90.6Z" fill="#DF1B24" stroke="#fff" stroke-opacity="0.32" stroke-width="0.5"/>
<path d="M672.0,89.8 L677.5,89.4 L683.8,89.1 L690.0,88.8 L695.5,89.4 L691.6,90.6 L683.8,90.6 L675.9,90.9Z" fill="#DF1B24" stroke="#fff" stroke-opacity="0.32" stroke-width="0.5"/>
<path d="M716.0,138.0 L760.0,142.0 L800.0,145.0 L825.0,143.0 L825.0,156.0 L716.0,156.0Z" fill="#DF1B24"/>
<path d="M760.0,154.7 L769.4,156.2 L778.8,163.3 L788.1,165.6 L800.6,168.0 L813.1,170.3 L822.5,168.8 L828.8,159.4 L838.1,153.1 L853.8,156.2 L860.0,162.5 L856.9,168.8 L850.6,173.4 L844.4,176.6 L838.1,176.6 L835.0,178.1 L841.2,181.2 L844.4,185.9 L847.5,192.2 L850.6,200.0 L849.1,207.8 L844.4,212.5 L838.1,215.6 L831.9,218.8 L825.6,218.8 L819.4,215.6 L813.1,215.6 L806.9,212.5 L800.6,203.1 L791.2,201.6 L785.0,203.1 L775.6,201.6 L767.8,196.9 L760.0,193.8Z" fill="#EE4224"/>
<path d="M850.6,210.6 L853.1,210.0 L854.1,215.6 L851.6,217.5Z" fill="#F9A21C" stroke="#fff" stroke-opacity="0.32" stroke-width="0.5"/>
<path d="M829.5,220.3 L833.4,220.0 L833.8,225.0 L830.3,226.2Z" fill="#EE4224" stroke="#fff" stroke-opacity="0.32" stroke-width="0.5"/>
<path d="M795.9,206.2 L802.2,203.1 L806.9,209.4 L810.0,217.2 L806.9,223.4 L810.0,231.2 L810.0,240.6 L808.4,242.2 L803.8,231.2 L800.6,225.0 L797.5,218.8 L794.4,212.5Z" fill="#DF1B24" stroke="#fff" stroke-opacity="0.32" stroke-width="0.5"/>
<path d="M786.6,207.5 L793.1,207.5 L793.8,215.6 L789.1,217.5 L786.6,212.5Z" fill="#DF1B24" stroke="#fff" stroke-opacity="0.32" stroke-width="0.5"/>
<path d="M806.9,223.4 L813.1,220.3 L819.4,223.4 L820.9,231.2 L817.8,237.5 L813.1,234.4 L811.6,243.8 L814.7,253.1 L811.6,256.2 L810.0,246.9 L808.4,242.2 L810.0,234.4Z" fill="#EE4224" stroke="#fff" stroke-opacity="0.32" stroke-width="0.5"/>
<path d="M813.1,217.2 L819.4,218.8 L825.6,225.0 L827.2,232.8 L822.5,232.8 L819.4,226.6 L814.7,221.9Z" fill="#DF1B24" stroke="#fff" stroke-opacity="0.32" stroke-width="0.5"/>
<path d="M819.4,215.6 L828.8,218.8 L825.6,225.0 L827.2,231.2 L831.9,237.5 L830.3,246.9 L824.1,248.4 L822.5,243.8 L827.2,237.5 L824.1,231.2 L820.9,223.4Z" fill="#EE4224" stroke="#fff" stroke-opacity="0.32" stroke-width="0.5"/>
<path d="M817.8,234.4 L825.6,232.8 L825.6,243.8 L819.4,243.8 L817.0,239.1Z" fill="#DF1B24" stroke="#fff" stroke-opacity="0.32" stroke-width="0.5"/>
<path d="M811.6,250.0 L816.2,253.1 L820.9,260.9 L819.4,264.1 L814.7,259.4 L811.6,254.7Z" fill="#F36B20" stroke="#fff" stroke-opacity="0.32" stroke-width="0.5"/>
<path d="M803.8,256.2 L810.0,259.4 L816.2,265.6 L822.5,273.4 L825.6,280.0 L819.4,280.0 L813.1,273.4 L806.9,265.6 L803.0,259.4Z" fill="#EE4224" stroke="#fff" stroke-opacity="0.32" stroke-width="0.5"/>
<path d="M833.4,262.5 L841.2,259.4 L847.5,254.7 L853.8,251.6 L855.3,259.4 L850.6,265.6 L847.5,273.4 L841.2,275.0 L835.0,271.9 L831.9,267.2Z" fill="#EE4224" stroke="#fff" stroke-opacity="0.32" stroke-width="0.5"/>
<path d="M835.0,261.7 L841.2,259.4 L847.5,254.4 L853.4,251.6 L854.5,256.2 L849.1,259.4 L842.8,261.7 L837.3,263.3Z" fill="#F36B20" stroke="#fff" stroke-opacity="0.32" stroke-width="0.5"/>
<path d="M853.8,225.0 L856.9,226.6 L858.4,234.4 L863.1,240.6 L866.2,246.9 L867.8,253.1 L863.1,256.2 L860.0,250.0 L856.9,243.8 L855.3,237.5 L853.8,231.2Z" fill="#EE4224" stroke="#fff" stroke-opacity="0.32" stroke-width="0.5"/>
<path d="M771.7,246.9 L774.8,248.4 L775.6,253.9 L772.5,254.7Z" fill="#EE4224" stroke="#fff" stroke-opacity="0.32" stroke-width="0.5"/>
<path d="M800.0,104.7 L811.7,103.5 L817.6,104.7 L835.2,107.0 L849.2,108.2 L863.3,109.4 L870.3,110.0 L882.0,111.7 L893.8,114.1 L905.5,116.4 L907.8,118.8 L899.6,119.9 L896.1,121.1 L900.8,124.6 L893.8,127.0 L891.4,129.3 L886.7,130.5 L882.0,129.3 L877.3,132.8 L879.7,137.5 L884.4,141.0 L889.1,144.5 L890.8,148.0 L886.7,146.9 L882.0,142.2 L877.3,137.5 L875.0,130.5 L872.7,127.0 L868.0,128.1 L865.6,131.6 L856.2,131.6 L849.2,135.2 L845.7,139.8 L849.2,143.4 L855.1,144.5 L858.6,146.9 L863.3,152.7 L863.3,158.6 L860.9,165.6 L856.2,169.1 L853.9,168.0 L855.1,160.9 L853.9,156.2 L846.9,155.1 L841.0,152.7 L835.2,149.2 L828.1,146.9 L822.3,144.5 L811.7,149.2 L800.0,150.4Z" fill="#DF1B24"/>
<path d="M859.8,143.4 L863.3,146.9 L869.1,155.1 L872.7,159.8 L870.9,160.4 L866.8,156.2 L862.1,149.2Z" fill="#DF1B24" stroke="#fff" stroke-opacity="0.32" stroke-width="0.5"/>
<path d="M800.0,150.4 L811.7,149.2 L822.3,144.5 L828.1,146.9 L835.2,149.2 L841.0,152.7 L846.9,155.1 L853.9,156.2 L855.1,160.9 L853.9,168.0 L851.6,170.3 L846.9,172.7 L842.2,173.8 L838.7,176.2 L835.2,179.7 L839.8,180.9 L844.5,182.0 L844.5,189.1 L849.2,200.0 L800.0,200.0Z" fill="#EE4224"/>
<path d="M800.0,100.0 L817.6,100.0 L823.4,102.3 L811.7,103.5 L800.0,104.7Z" fill="#DF1B24" stroke="#fff" stroke-opacity="0.32" stroke-width="0.5"/>
<path d="M693.5,151.6 L699.4,148.7 L707.6,149.3 L715.8,147.0 L718.1,142.3 L727.5,140.5 L736.9,142.3 L743.9,143.4 L749.8,148.1 L755.6,151.6 L762.7,154.0 L766.2,154.0 L765.0,157.5 L760.3,161.0 L758.0,164.5 L753.3,168.0 L748.6,166.9 L743.9,168.0 L736.9,166.9 L732.2,166.9 L725.2,164.5 L720.5,163.4 L714.6,163.4 L711.1,166.9 L707.6,169.2 L705.2,164.5 L702.9,161.0 L698.2,158.7 L694.7,155.2Z" fill="#EE4224"/>
<path d="M766.2,154.0 L767.3,154.0 L774.4,151.6 L783.8,148.1 L788.4,149.3 L795.5,151.6 L802.5,151.6 L810.0,152.8 L810.0,169.2 L802.5,170.4 L793.1,166.9 L786.1,165.7 L779.1,163.4 L774.4,159.8 L768.5,156.3Z" fill="#EE4224" stroke="#fff" stroke-opacity="0.32" stroke-width="0.5"/>
<path d="M760.3,161.0 L765.0,157.5 L768.5,156.3 L774.4,159.8 L779.1,163.4 L786.1,165.7 L793.1,166.9 L802.5,170.4 L810.0,169.2 L810.0,200.0 L760.3,200.0 L755.6,190.3 L752.1,180.9 L750.9,175.1 L755.6,170.4 L759.1,165.7Z" fill="#EE4224"/>
<path d="M739.2,171.6 L746.2,169.2 L753.3,168.0 L758.0,169.2 L755.6,172.7 L748.6,175.1 L741.6,175.1Z" fill="#DF1B24" stroke="#fff" stroke-opacity="0.32" stroke-width="0.5"/>
<path d="M739.2,175.1 L746.2,175.1 L748.6,177.4 L745.1,180.9 L740.4,179.8Z" fill="#DF1B24" stroke="#fff" stroke-opacity="0.32" stroke-width="0.5"/>
<path d="M705.2,164.5 L711.1,166.9 L714.6,163.4 L720.5,163.4 L725.2,164.5 L732.2,166.9 L736.9,169.2 L739.2,172.7 L739.2,178.6 L734.5,180.9 L729.8,180.9 L725.2,178.6 L718.1,175.1 L712.3,172.7 L709.9,176.2 L707.6,171.6Z" fill="#DF1B24" stroke="#fff" stroke-opacity="0.32" stroke-width="0.5"/>
<path d="M672.2,150.0 L694.7,150.0 L696.6,159.8 L694.7,165.6 L692.7,168.6 L685.9,167.6 L679.1,165.6 L678.1,159.8 L675.2,155.9Z" fill="#DF1B24"/>
<path d="M694.7,150.0 L740.0,150.0 L740.0,164.6 L718.1,162.7 L710.3,161.7 L705.4,159.8 L700.5,155.9Z" fill="#EE4224"/>
<path d="M705.4,159.8 L718.1,162.7 L727.9,167.6 L737.7,171.5 L740.0,174.4 L740.0,182.2 L732.8,183.2 L725.9,179.3 L718.1,180.3 L714.2,179.3 L711.3,180.3 L708.4,176.4 L705.4,172.5 L703.5,165.6Z" fill="#DF1B24" stroke="#fff" stroke-opacity="0.32" stroke-width="0.5"/>
<path d="M658.6,173.4 L665.4,172.0 L672.2,171.0 L679.1,172.3 L685.9,172.0 L690.8,172.5 L693.7,175.4 L692.7,179.3 L688.8,181.2 L684.9,182.2 L679.1,183.2 L673.2,182.2 L667.3,183.2 L661.5,183.2 L658.6,179.3Z" fill="#F36B20" stroke="#fff" stroke-opacity="0.32" stroke-width="0.5"/>
<path d="M685.9,167.6 L692.7,168.6 L696.6,172.5 L698.6,175.4 L694.7,176.4 L690.8,173.4 L686.9,171.5Z" fill="#EE4224" stroke="#fff" stroke-opacity="0.32" stroke-width="0.5"/>
<path d="M691.8,171.0 L696.6,172.5 L698.6,175.6 L694.7,176.6 L692.7,174.4Z" fill="#DF1B24" stroke="#fff" stroke-opacity="0.32" stroke-width="0.5"/>
<path d="M696.6,162.7 L701.5,159.8 L705.4,160.7 L704.5,164.6 L702.5,168.6 L704.5,172.5 L708.4,175.4 L711.3,178.3 L710.3,182.2 L706.4,182.2 L703.5,178.3 L702.5,174.4 L700.5,170.5 L698.6,166.6Z" fill="#fff"/>
<path d="M660.5,167.6 L665.4,161.7 L672.2,163.7 L679.1,166.6 L684.9,168.6 L685.9,171.5 L679.1,172.0 L671.2,170.5 L665.4,171.5 L661.5,171.0Z" fill="#fff"/>
<path d="M677.1,184.2 L683.0,183.2 L688.8,182.2 L688.8,187.1 L685.9,191.0 L681.0,193.0 L678.1,192.0Z" fill="#A9161D" stroke="#fff" stroke-opacity="0.32" stroke-width="0.5"/>
<path d="M688.8,182.2 L693.7,181.2 L697.6,183.2 L698.6,189.1 L700.5,193.9 L702.5,197.9 L698.6,199.8 L694.7,198.8 L690.8,194.9 L685.9,193.0 L685.9,191.0 L688.8,187.1Z" fill="#A9161D" stroke="#fff" stroke-opacity="0.32" stroke-width="0.5"/>
<path d="M675.9,186.9 L678.3,186.6 L679.3,193.0 L677.3,196.1 L676.1,192.0Z" fill="#EE4224" stroke="#fff" stroke-opacity="0.32" stroke-width="0.5"/>
<path d="M679.1,192.0 L685.9,193.0 L684.9,196.9 L681.0,197.9 L679.1,195.9Z" fill="#F36B20" stroke="#fff" stroke-opacity="0.32" stroke-width="0.5"/>
<path d="M693.7,175.4 L698.6,176.4 L702.5,179.3 L707.4,182.2 L711.3,180.3 L714.2,179.3 L718.1,180.3 L724.0,181.2 L725.9,186.1 L726.9,191.0 L729.8,196.9 L731.8,204.7 L730.8,209.6 L725.9,208.6 L720.1,206.6 L716.2,204.7 L710.3,200.8 L706.4,197.9 L702.5,197.9 L700.5,193.9 L698.6,189.1 L697.6,183.2 L694.7,179.3Z" fill="#DF1B24" stroke="#fff" stroke-opacity="0.32" stroke-width="0.5"/>
<path d="M725.9,181.2 L732.8,183.2 L740.0,182.2 L740.0,198.8 L733.8,199.8 L729.8,196.9 L726.9,191.0Z" fill="#A9161D" stroke="#fff" stroke-opacity="0.32" stroke-width="0.5"/>
<path d="M729.8,196.9 L733.8,199.8 L740.0,198.8 L740.0,209.6 L731.8,208.6Z" fill="#EE4224" stroke="#fff" stroke-opacity="0.32" stroke-width="0.5"/>
<path d="M678.1,193.9 L685.9,193.0 L690.8,194.9 L694.7,198.8 L698.6,199.8 L702.5,200.8 L706.4,204.7 L709.3,208.6 L712.3,210.5 L716.2,213.5 L718.1,218.4 L720.1,221.3 L714.2,225.2 L708.4,226.2 L700.5,228.1 L694.7,230.1 L691.8,227.1 L687.9,220.3 L683.9,213.5 L680.0,205.7 L677.1,198.8Z" fill="#F36B20" stroke="#fff" stroke-opacity="0.32" stroke-width="0.5"/>
<path d="M702.5,198.8 L706.4,198.8 L711.3,202.7 L716.2,205.7 L720.1,208.6 L719.1,211.5 L715.2,209.6 L712.3,208.6 L709.3,206.6 L706.4,203.7Z" fill="#fff"/>
<path d="M712.3,210.5 L718.1,209.6 L720.1,212.5 L718.1,214.5 L714.2,214.0Z" fill="#FDBA14" stroke="#fff" stroke-opacity="0.32" stroke-width="0.5"/>
<path d="M720.1,212.5 L724.0,213.5 L726.9,217.4 L725.9,220.3 L723.0,225.2 L718.1,228.1 L715.2,227.1 L720.1,221.3 L718.1,217.4Z" fill="#F6881E" stroke="#fff" stroke-opacity="0.32" stroke-width="0.5"/>
<path d="M694.7,230.1 L700.5,228.1 L708.4,226.2 L714.2,225.2 L714.2,230.1 L708.4,233.0 L700.5,235.9 L695.7,237.9Z" fill="#A9161D" stroke="#fff" stroke-opacity="0.32" stroke-width="0.5"/>
<path d="M668.3,183.7 L671.2,183.4 L671.1,185.0 L668.5,185.0Z" fill="#F36B20" stroke="#fff" stroke-opacity="0.32" stroke-width="0.5"/>
<path d="M833.9,348.6 L835.9,340.8 L835.9,331.0 L837.8,323.2 L841.7,319.3 L847.6,317.3 L854.4,313.4 L859.3,308.6 L865.2,303.7 L869.1,302.7 L873.0,301.7 L875.9,297.8 L880.8,296.8 L885.7,297.8 L888.6,296.8 L887.6,301.7 L890.5,306.6 L894.5,310.5 L897.4,306.6 L899.3,299.8 L900.3,294.9 L902.3,299.8 L905.2,306.6 L907.1,313.4 L911.1,319.3 L915.0,327.1 L915.9,333.0 L914.0,338.8 L911.1,344.7 L907.1,350.5 L902.3,356.4 L898.4,358.4 L892.5,360.3 L886.6,360.3 L881.8,358.4 L878.8,353.5 L875.9,348.6 L873.0,352.5 L873.0,347.6 L869.1,344.7 L862.2,343.7 L855.4,344.7 L849.5,347.6 L843.7,349.6 L837.8,351.5Z" fill="#FDBA14" stroke="#fff" stroke-opacity="0.32" stroke-width="0.5"/>
<path d="M883.2,362.3 L890.5,361.3 L891.0,364.2 L887.6,369.1 L883.7,371.1 L882.7,367.1Z" fill="#FDBA14" stroke="#fff" stroke-opacity="0.32" stroke-width="0.5"/>
<path d="M947.2,352.0 L949.1,355.0 L953.0,358.9 L947.2,362.8 L943.3,366.7 L941.3,362.8 L945.2,358.9Z" fill="#FFD300" stroke="#fff" stroke-opacity="0.32" stroke-width="0.5"/>
<path d="M939.4,366.7 L943.3,368.6 L935.4,374.5 L927.6,378.4 L917.9,380.4 L916.9,377.4 L925.7,372.5 L933.5,368.6Z" fill="#FFD300" stroke="#fff" stroke-opacity="0.32" stroke-width="0.5"/>
<path d="M865.1,265.1 L869.1,264.2 L870.0,269.1 L867.1,271.0Z" fill="#EE4224" stroke="#fff" stroke-opacity="0.32" stroke-width="0.5"/>
<path d="M871.0,269.1 L876.9,270.0 L875.9,273.0 L871.4,272.6Z" fill="#EE4224" stroke="#fff" stroke-opacity="0.32" stroke-width="0.5"/>
<path d="M752.3,187.4 L756.4,184.9 L761.4,188.2 L763.8,193.2 L767.1,197.3 L771.2,200.6 L776.2,203.0 L782.8,204.7 L785.2,205.5 L786.0,208.0 L787.7,209.6 L786.0,211.2 L786.9,215.4 L784.4,217.8 L782.8,221.1 L778.6,226.0 L774.5,229.3 L772.1,232.6 L771.2,237.6 L769.6,242.5 L767.1,247.4 L765.5,249.1 L763.8,245.8 L761.4,240.8 L758.9,235.9 L756.4,230.2 L755.2,224.4 L754.8,221.1 L752.3,219.5 L749.9,217.8 L747.4,216.2 L748.2,212.9 L750.7,210.4 L748.2,208.0 L746.6,204.7 L749.0,203.0 L751.5,201.4 L754.0,198.9 L754.8,196.4 L753.2,193.2 L751.5,189.9Z" fill="#F36B20" stroke="#fff" stroke-opacity="0.32" stroke-width="0.5"/>
<path d="M789.3,205.5 L791.0,201.4 L797.6,200.6 L800.8,203.0 L800.0,207.1 L796.7,209.6 L794.3,212.9 L792.6,211.2 L791.8,207.1Z" fill="#F36B20" stroke="#fff" stroke-opacity="0.32" stroke-width="0.5"/>
<path d="M786.0,208.0 L789.3,206.3 L792.6,207.1 L792.6,211.2 L791.0,216.2 L788.5,216.2 L786.9,214.5 L786.0,211.2Z" fill="#DF1B24" stroke="#fff" stroke-opacity="0.32" stroke-width="0.5"/>
<path d="M763.8,193.2 L768.0,196.4 L774.5,200.6 L781.1,203.8 L782.8,204.7 L776.2,203.0 L771.2,200.6 L767.1,197.3Z" fill="#EE4224" stroke="#fff" stroke-opacity="0.32" stroke-width="0.5"/>
<path d="M784.4,203.8 L789.3,203.0 L791.0,205.5 L787.7,206.3Z" fill="#F9A21C" stroke="#fff" stroke-opacity="0.32" stroke-width="0.5"/>
<path d="M797.6,203.8 L802.5,204.7 L805.8,209.6 L804.1,214.5 L805.8,219.5 L807.4,224.4 L809.9,231.0 L810.7,237.6 L812.4,244.1 L810.7,245.8 L809.1,239.2 L807.4,234.3 L804.1,231.0 L800.8,229.3 L799.2,222.8 L796.7,217.8 L794.3,212.9 L796.7,209.6 L800.0,207.1Z" fill="#DF1B24" stroke="#fff" stroke-opacity="0.32" stroke-width="0.5"/>
<path d="M772.1,246.6 L774.5,247.4 L776.2,251.5 L774.5,254.8 L772.9,254.0 L771.7,249.9Z" fill="#EE4224" stroke="#fff" stroke-opacity="0.32" stroke-width="0.5"/>
<path d="M740.0,194.8 L744.9,192.3 L752.3,187.4 L751.5,189.9 L753.2,193.2 L754.8,196.4 L754.0,198.9 L751.5,201.4 L749.0,203.0 L746.6,204.7 L748.2,208.0 L744.9,209.6 L740.0,209.6Z" fill="#EE4224" stroke="#fff" stroke-opacity="0.32" stroke-width="0.5"/>
<path d="M877.5,270.3 L882.2,269.1 L886.9,272.7 L891.6,273.8 L898.6,276.2 L898.6,289.1 L896.2,287.9 L892.7,286.7 L890.4,282.0 L886.9,277.3 L882.2,276.2 L878.7,273.8Z" fill="#EE4224" stroke="#fff" stroke-opacity="0.32" stroke-width="0.5"/>
<path d="M898.6,276.2 L905.6,279.7 L910.3,284.4 L915.0,289.1 L918.5,293.8 L915.0,293.8 L910.3,290.2 L905.6,289.1 L900.9,290.2 L898.6,289.1Z" fill="#DF1B24" stroke="#fff" stroke-opacity="0.32" stroke-width="0.5"/>
<path d="M913.8,282.0 L919.7,279.7 L923.2,277.3 L924.4,279.7 L920.9,283.2 L916.2,283.8Z" fill="#DF1B24" stroke="#fff" stroke-opacity="0.32" stroke-width="0.5"/>
<path d="M926.7,282.0 L931.4,286.7 L940.8,293.8 L939.6,295.2 L932.6,290.2 L927.3,284.6Z" fill="#F36B20" stroke="#fff" stroke-opacity="0.32" stroke-width="0.5"/>
<path d="M852.9,225.8 L856.4,227.0 L857.6,232.8 L859.9,236.3 L864.6,241.0 L868.1,249.2 L867.0,255.1 L863.4,253.9 L859.9,248.0 L857.6,242.2 L855.2,235.2 L852.9,230.5Z" fill="#EE4224" stroke="#fff" stroke-opacity="0.32" stroke-width="0.5"/>
<path d="M849.4,249.2 L852.9,243.4 L852.0,246.9 L849.8,251.6Z" fill="#EE4224" stroke="#fff" stroke-opacity="0.32" stroke-width="0.5"/>
<path d="M854.1,268.0 L858.8,266.8 L865.8,265.6 L864.6,269.1 L859.9,270.3 L861.1,275.0 L862.3,282.0 L858.8,282.0 L856.4,277.3 L854.1,282.0 L852.9,275.0 L855.2,271.5Z" fill="#EE4224" stroke="#fff" stroke-opacity="0.32" stroke-width="0.5"/>
<path d="M840.0,286.7 L851.7,289.1 L863.4,290.2 L868.1,289.1 L869.3,291.4 L857.6,293.8 L847.0,291.4 L840.0,290.2Z" fill="#EE4224" stroke="#fff" stroke-opacity="0.32" stroke-width="0.5"/>
<path d="M869.9,265.6 L873.4,264.5 L874.0,270.3 L871.1,271.5Z" fill="#EE4224" stroke="#fff" stroke-opacity="0.32" stroke-width="0.5"/>
<path d="M870.5,275.0 L875.2,273.8 L877.5,276.2 L872.8,277.3Z" fill="#EE4224" stroke="#fff" stroke-opacity="0.32" stroke-width="0.5"/>
<path d="M879.8,280.9 L884.5,282.0 L885.7,284.4 L881.0,283.8Z" fill="#EE4224" stroke="#fff" stroke-opacity="0.32" stroke-width="0.5"/>
<path d="M803.4,256.5 L809.6,258.4 L817.0,265.8 L824.4,275.7 L827.4,283.6 L821.9,284.6 L814.5,276.7 L806.6,266.8Z" fill="#EE4224" stroke="#fff" stroke-opacity="0.32" stroke-width="0.5"/>
<path d="M824.4,283.6 L839.2,286.1 L854.0,288.5 L869.3,289.8 L867.8,293.5 L851.5,293.0 L836.7,291.5 L825.6,287.8Z" fill="#EE4224" stroke="#fff" stroke-opacity="0.32" stroke-width="0.5"/>
<path d="M705.6,96.3 L694.7,98.2 L689.2,102.3 L687.9,107.8 L690.6,111.1 L693.3,106.4 L696.6,101.8 L706.2,98.5Z" fill="#DF1B24" stroke="#fff" stroke-opacity="0.32" stroke-width="0.5"/>
<path d="M672.8,88.7 L681.0,87.3 L694.7,87.9 L693.3,90.0 L683.8,90.6 L674.2,90.3Z" fill="#DF1B24" stroke="#fff" stroke-opacity="0.32" stroke-width="0.5"/>
<path d="M730.2,88.7 L741.2,89.2 L754.8,91.4 L752.1,93.0 L741.2,92.5 L731.6,90.9Z" fill="#DF1B24" stroke="#fff" stroke-opacity="0.32" stroke-width="0.5"/>
<path d="M801.3,97.4 L812.3,98.0 L821.0,99.6 L815.0,100.4 L804.1,99.6Z" fill="#DF1B24" stroke="#fff" stroke-opacity="0.32" stroke-width="0.5"/>
<path d="M846.9,172.7 L851.6,170.3 L855.1,170.3 L854.6,173.0 L853.7,176.7 L852.8,179.1 L848.0,179.7Z" fill="#A9161D" stroke="#fff" stroke-opacity="0.32" stroke-width="0.5"/>
<path d="M852.8,179.1 L855.6,178.6 L858.8,181.8 L860.2,185.5 L859.3,187.4 L856.0,187.8 L854.2,185.1 L853.2,181.8Z" fill="#F6881E" stroke="#fff" stroke-opacity="0.32" stroke-width="0.5"/>
<path d="M872.2,163.3 L875.9,164.3 L879.6,166.1 L880.5,167.5 L878.7,169.3 L875.9,169.8 L873.1,169.3 L872.2,167.0Z" fill="#FDBA14" stroke="#fff" stroke-opacity="0.32" stroke-width="0.5"/>
<path d="M874.5,171.2 L877.3,172.1 L879.6,175.4 L880.5,179.1 L881.9,183.7 L881.5,186.5 L877.8,187.4 L874.1,188.3 L870.4,187.4 L867.6,188.3 L865.3,190.2 L863.4,191.1 L863.9,188.3 L866.2,186.5 L869.4,185.5 L873.1,184.6 L875.9,182.8 L877.3,180.0 L876.8,176.3 L875.4,173.5Z" fill="#FDBA14" stroke="#fff" stroke-opacity="0.32" stroke-width="0.5"/>
<path d="M863.4,191.1 L866.7,191.5 L867.6,194.3 L866.2,195.7 L863.9,194.8 L862.9,192.9Z" fill="#FDBA14" stroke="#fff" stroke-opacity="0.32" stroke-width="0.5"/>
<path d="M600.0,254.6 L612.3,253.1 L618.5,256.2 L624.7,262.3 L626.2,268.5 L629.3,276.2 L630.8,280.8 L632.4,288.5 L633.9,296.2 L632.4,302.4 L630.8,308.6 L631.6,314.7 L635.5,322.5 L638.5,330.2 L640.1,339.4 L643.2,345.6 L644.7,350.2 L652.4,348.7 L658.6,347.1 L664.7,342.5 L669.4,336.3 L670.9,330.2 L674.0,327.1 L677.1,322.5 L678.6,316.3 L683.2,311.7 L687.9,307.0 L689.4,300.9 L689.4,296.2 L687.9,288.5 L687.9,280.8 L691.0,276.2 L695.6,268.5 L701.7,260.8 L707.9,251.5 L709.5,250.0 L600.0,250.0Z" fill="#DF1B24" stroke="#fff" stroke-opacity="0.32" stroke-width="0.5"/>
<path d="M580.0,205.9 L583.1,201.2 L589.4,191.9 L597.2,185.6 L603.4,184.1 L606.6,182.5 L620.6,182.5 L626.9,180.9 L628.4,187.2 L626.9,191.9 L634.7,191.9 L642.5,193.4 L650.3,191.9 L656.6,195.0 L664.4,195.8 L673.8,196.6 L676.9,201.2 L680.0,210.6 L683.1,216.9 L683.1,226.2 L689.4,232.5 L695.6,241.9 L711.2,241.9 L709.7,251.2 L703.4,260.6 L697.2,266.9 L692.5,271.6 L687.8,277.8 L681.6,279.4 L673.8,279.4 L664.4,279.4 L642.5,279.4 L639.4,263.8 L634.7,260.6 L630.0,259.1 L626.9,254.4 L622.2,254.4 L617.5,249.7 L612.8,254.4 L606.6,255.9 L600.3,255.9 L595.6,255.9 L590.9,252.8 L587.8,246.6 L583.1,241.9 L580.0,238.8Z" fill="#EE4224" stroke="#fff" stroke-opacity="0.32" stroke-width="0.5"/>
<path d="M583.1,201.2 L589.4,191.9 L597.2,185.6 L603.4,184.1 L605.0,188.8 L601.9,193.4 L594.1,198.1 L589.4,202.8 L584.7,205.9Z" fill="#F36B20" stroke="#fff" stroke-opacity="0.32" stroke-width="0.5"/>
<path d="M580.0,205.9 L584.7,205.9 L583.4,210.9 L580.0,212.5Z" fill="#E2E2E2" stroke="#fff" stroke-opacity="0.32" stroke-width="0.5"/>
<path d="M590.9,198.1 L603.4,185.6 L606.6,182.5 L620.6,182.5 L625.3,187.2 L626.9,191.9 L626.9,199.7 L631.6,209.1 L628.4,212.2 L622.2,216.9 L614.4,223.1 L608.1,216.9 L600.3,212.2 L592.5,205.9Z" fill="#EE4224" stroke="#fff" stroke-opacity="0.32" stroke-width="0.5"/>
<path d="M622.2,182.5 L626.9,180.9 L628.4,187.2 L626.1,191.9 L625.3,187.2Z" fill="#F36B20" stroke="#fff" stroke-opacity="0.32" stroke-width="0.5"/>
<path d="M626.9,191.9 L634.7,191.9 L642.5,193.4 L650.3,191.9 L656.6,195.0 L656.6,216.9 L653.4,216.9 L648.8,215.3 L642.5,213.8 L637.8,212.2 L631.6,209.1 L626.9,199.7Z" fill="#A9161D" stroke="#fff" stroke-opacity="0.32" stroke-width="0.5"/>
<path d="M656.6,195.0 L664.4,195.8 L673.8,196.6 L676.9,201.2 L680.0,210.6 L683.1,216.9 L673.8,216.9 L656.6,216.9Z" fill="#EE4224" stroke="#fff" stroke-opacity="0.32" stroke-width="0.5"/>
<path d="M580.0,209.1 L583.1,210.6 L586.2,209.1 L592.5,209.1 L592.5,216.9 L594.1,227.8 L589.4,230.9 L583.1,232.5 L580.0,229.4Z" fill="#DF1B24" stroke="#fff" stroke-opacity="0.32" stroke-width="0.5"/>
<path d="M592.5,209.1 L600.3,212.2 L608.1,216.9 L614.4,223.1 L612.8,229.4 L608.1,232.5 L600.3,235.6 L595.6,238.8 L592.5,235.6 L589.4,230.9 L594.1,227.8 L592.5,216.9Z" fill="#EE4224" stroke="#fff" stroke-opacity="0.32" stroke-width="0.5"/>
<path d="M614.4,223.1 L622.2,216.9 L628.4,212.2 L631.6,209.1 L637.8,212.2 L637.8,223.1 L636.2,232.5 L630.0,235.6 L620.6,237.2 L614.4,235.6 L612.8,229.4Z" fill="#EE4224" stroke="#fff" stroke-opacity="0.32" stroke-width="0.5"/>
<path d="M637.8,212.2 L642.5,213.8 L648.8,215.3 L653.4,216.9 L653.4,226.2 L651.9,232.5 L648.8,237.2 L645.6,241.9 L639.4,243.4 L636.2,237.2 L636.2,232.5 L637.8,223.1Z" fill="#A9161D" stroke="#fff" stroke-opacity="0.32" stroke-width="0.5"/>
<path d="M656.6,216.9 L673.8,216.9 L683.1,216.9 L683.1,226.2 L678.4,232.5 L676.9,238.8 L673.8,243.4 L667.5,243.4 L661.2,243.4 L656.6,240.3 L653.4,235.6 L651.9,232.5 L653.4,226.2Z" fill="#A9161D" stroke="#fff" stroke-opacity="0.32" stroke-width="0.5"/>
<path d="M656.6,243.4 L667.5,243.4 L673.8,245.0 L676.9,251.2 L670.6,257.5 L664.4,259.1 L659.7,254.4 L656.6,248.1Z" fill="#A9161D" stroke="#fff" stroke-opacity="0.32" stroke-width="0.5"/>
<path d="M678.4,229.4 L683.1,226.2 L689.4,232.5 L686.2,235.6 L681.6,234.1Z" fill="#DF1B24" stroke="#fff" stroke-opacity="0.32" stroke-width="0.5"/>
<path d="M676.9,235.6 L683.1,235.6 L689.4,238.8 L695.6,243.4 L700.3,251.2 L695.6,257.5 L689.4,260.6 L681.6,260.6 L676.9,255.9 L675.3,249.7Z" fill="#EE4224" stroke="#fff" stroke-opacity="0.32" stroke-width="0.5"/>
<path d="M695.6,241.9 L711.2,241.9 L709.7,251.2 L703.4,260.6 L697.2,266.9 L692.5,271.6 L689.4,263.8 L694.1,257.5 L700.3,251.2 L696.4,245.0Z" fill="#A9161D" stroke="#fff" stroke-opacity="0.32" stroke-width="0.5"/>
<path d="M681.6,260.6 L689.4,260.6 L692.5,271.6 L687.8,277.8 L681.6,276.2 L680.0,268.4Z" fill="#DF1B24" stroke="#fff" stroke-opacity="0.32" stroke-width="0.5"/>
<path d="M673.8,259.1 L680.0,259.1 L680.0,268.4 L675.3,270.0 L673.8,263.8Z" fill="#DF1B24" stroke="#fff" stroke-opacity="0.32" stroke-width="0.5"/>
<path d="M580.0,231.7 L584.7,232.2 L586.2,237.2 L580.0,238.8Z" fill="#F36B20" stroke="#fff" stroke-opacity="0.32" stroke-width="0.5"/>
<path d="M584.7,238.8 L592.5,238.8 L595.6,243.4 L592.5,248.1 L587.8,246.6 L583.1,241.9Z" fill="#DF1B24" stroke="#fff" stroke-opacity="0.32" stroke-width="0.5"/>
<path d="M587.8,246.6 L592.5,248.1 L597.2,251.2 L595.6,255.9 L590.9,252.8Z" fill="#EE4224" stroke="#fff" stroke-opacity="0.32" stroke-width="0.5"/>
<path d="M601.9,237.2 L611.2,234.1 L615.9,238.8 L614.4,243.4 L606.6,245.0 L601.9,243.4Z" fill="#F36B20" stroke="#fff" stroke-opacity="0.32" stroke-width="0.5"/>
<path d="M606.6,245.0 L612.0,244.7 L613.1,254.4 L608.1,255.9 L605.8,251.2Z" fill="#F36B20" stroke="#fff" stroke-opacity="0.32" stroke-width="0.5"/>
<path d="M597.2,243.4 L605.0,243.4 L606.6,254.4 L600.3,255.9 L595.6,251.2Z" fill="#EE4224" stroke="#fff" stroke-opacity="0.32" stroke-width="0.5"/>
<path d="M612.0,244.7 L616.2,243.4 L617.5,252.8 L613.1,254.4Z" fill="#EE4224" stroke="#fff" stroke-opacity="0.32" stroke-width="0.5"/>
<path d="M616.7,241.9 L620.6,237.2 L630.0,235.6 L636.2,237.2 L636.2,243.4 L631.6,249.7 L626.9,254.4 L622.2,254.4 L617.5,249.7Z" fill="#DF1B24" stroke="#fff" stroke-opacity="0.32" stroke-width="0.5"/>
<path d="M636.2,237.2 L639.4,243.4 L639.4,251.2 L634.7,257.5 L630.0,259.1 L626.9,254.4 L631.6,249.7 L636.2,243.4Z" fill="#DF1B24" stroke="#fff" stroke-opacity="0.32" stroke-width="0.5"/>
<path d="M639.4,254.4 L648.8,254.4 L655.0,252.8 L661.2,251.2 L664.4,259.1 L670.6,257.5 L673.8,259.1 L673.8,263.8 L675.3,270.0 L673.8,279.4 L642.5,279.4 L639.4,263.8Z" fill="#DF1B24" stroke="#fff" stroke-opacity="0.32" stroke-width="0.5"/>
<path d="M631.6,259.1 L636.2,257.5 L639.7,263.8 L638.1,271.6 L635.0,277.8 L631.6,271.6Z" fill="#A9161D" stroke="#fff" stroke-opacity="0.32" stroke-width="0.5"/>
<path d="M625.3,260.6 L631.6,259.1 L631.6,271.6 L626.9,270.0 L624.5,265.3Z" fill="#EE4224" stroke="#fff" stroke-opacity="0.32" stroke-width="0.5"/>
<path d="M639.4,243.4 L645.6,241.9 L651.9,241.9 L658.1,245.0 L661.2,251.2 L655.0,252.8 L648.8,254.4 L642.5,254.4 L639.4,251.2Z" fill="#DF1B24" stroke="#fff" stroke-opacity="0.32" stroke-width="0.5"/>
<path d="M572.2,220.2 L574.4,213.0 L578.0,207.2 L583.0,204.4 L585.2,199.3 L590.2,195.0 L630.0,195.0 L630.0,265.0 L619.0,259.7 L610.4,256.2 L601.7,256.9 L594.5,256.9 L590.2,257.6 L585.2,256.2 L581.6,252.6 L578.7,248.2 L575.8,243.9 L571.5,240.3 L570.8,231.0 L572.9,225.9Z" fill="#EE4224" stroke="#fff" stroke-opacity="0.32" stroke-width="0.5"/>
<path d="M572.9,218.7 L574.4,213.0 L578.0,207.2 L583.0,204.4 L588.8,203.6 L589.5,207.9 L583.0,208.7 L580.9,213.0 L580.1,218.7 L573.7,220.2Z" fill="#E3E6E9" stroke="#fff" stroke-opacity="0.32" stroke-width="0.5"/>
<path d="M581.6,203.6 L585.2,199.3 L590.2,195.0 L599.6,195.0 L590.9,200.8 L589.5,203.6Z" fill="#F36B20" stroke="#fff" stroke-opacity="0.32" stroke-width="0.5"/>
<path d="M572.2,220.2 L580.1,219.5 L580.9,213.0 L583.0,208.7 L589.5,207.9 L593.1,209.4 L593.8,216.6 L594.5,231.7 L587.3,232.4 L581.6,232.4 L578.0,230.3 L574.4,229.5 L572.9,225.9Z" fill="#DF1B24" stroke="#fff" stroke-opacity="0.32" stroke-width="0.5"/>
<path d="M570.8,231.0 L574.4,229.5 L578.0,230.3 L581.6,232.4 L582.3,238.2 L578.7,239.6 L574.4,238.9 L572.2,241.0 L571.5,236.7Z" fill="#F36B20" stroke="#fff" stroke-opacity="0.32" stroke-width="0.5"/>
<path d="M571.5,240.3 L578.7,239.6 L582.3,238.2 L587.3,241.0 L590.2,245.4 L588.8,251.1 L584.5,249.7 L580.1,246.8 L575.8,243.9Z" fill="#DF1B24" stroke="#fff" stroke-opacity="0.32" stroke-width="0.5"/>
<path d="M578.7,245.4 L584.5,249.7 L588.8,251.1 L590.2,257.6 L585.2,256.2 L581.6,252.6 L579.4,249.7Z" fill="#EE4224" stroke="#fff" stroke-opacity="0.32" stroke-width="0.5"/>
<path d="M593.1,209.4 L613.2,223.8 L614.7,231.0 L610.4,235.3 L603.2,235.3 L597.4,238.2 L594.5,241.0 L590.2,245.4 L587.3,241.0 L582.3,238.2 L581.6,232.4 L587.3,232.4 L594.5,231.7 L593.8,216.6Z" fill="#EE4224" stroke="#fff" stroke-opacity="0.32" stroke-width="0.5"/>
<path d="M590.2,245.4 L594.5,241.0 L597.4,243.9 L600.3,246.8 L600.3,255.4 L594.5,256.9 L590.2,257.6 L588.8,251.1Z" fill="#EE4224" stroke="#fff" stroke-opacity="0.32" stroke-width="0.5"/>
<path d="M596.0,241.0 L603.2,235.3 L610.4,235.3 L614.0,239.6 L611.8,243.9 L603.2,244.6 L599.6,245.4 L597.4,243.9Z" fill="#F36B20" stroke="#fff" stroke-opacity="0.32" stroke-width="0.5"/>
<path d="M599.6,245.4 L606.0,244.6 L607.5,252.6 L607.5,256.2 L601.7,256.9 L600.3,255.4 L600.3,246.8Z" fill="#F36B20" stroke="#fff" stroke-opacity="0.32" stroke-width="0.5"/>
<path d="M607.5,244.6 L611.8,243.9 L613.2,252.6 L610.4,256.2 L607.5,256.2Z" fill="#EE4224" stroke="#fff" stroke-opacity="0.32" stroke-width="0.5"/>
<path d="M614.0,239.6 L630.0,238.2 L630.0,265.0 L619.0,259.7 L616.1,256.2 L613.2,252.6Z" fill="#DF1B24" stroke="#fff" stroke-opacity="0.32" stroke-width="0.5"/>
<path d="M583.1,201.2 L589.4,191.9 L597.2,185.6 L603.4,184.1 L605.0,188.8 L601.9,193.4 L594.1,198.1 L589.4,202.8 L584.7,205.9Z" fill="#F36B20" stroke="#fff" stroke-opacity="0.32" stroke-width="0.5"/>
<path d="M630.8,280.8 L640.1,279.3 L646.2,285.5 L649.3,290.1 L654.0,296.2 L652.4,300.9 L650.9,308.6 L646.2,310.1 L640.1,309.4 L630.8,309.4 L632.4,302.4 L633.9,296.2 L632.4,288.5Z" fill="#A9161D" stroke="#fff" stroke-opacity="0.32" stroke-width="0.5"/>
<path d="M630.8,309.4 L646.2,310.1 L650.9,310.9 L647.8,314.7 L647.0,320.9 L646.2,330.2 L646.2,336.3 L643.2,336.3 L638.5,330.2 L635.5,322.5 L631.6,314.7Z" fill="#F6881E" stroke="#fff" stroke-opacity="0.32" stroke-width="0.5"/>
<path d="M647.8,313.2 L660.1,311.7 L664.7,317.8 L663.2,324.0 L655.5,327.1 L650.9,330.2 L647.0,330.2 L647.0,320.9Z" fill="#F9A21C" stroke="#fff" stroke-opacity="0.32" stroke-width="0.5"/>
<path d="M646.2,336.3 L650.9,330.2 L655.5,327.1 L663.2,324.0 L667.8,322.5 L670.9,330.2 L669.4,336.3 L664.7,342.5 L658.6,347.1 L652.4,348.7 L644.7,350.2 L641.6,342.5 L640.1,337.9Z" fill="#F36B20" stroke="#fff" stroke-opacity="0.32" stroke-width="0.5"/>
<path d="M660.1,311.7 L667.8,308.6 L672.5,311.7 L672.5,317.8 L667.8,321.7 L664.7,317.8Z" fill="#DF1B24" stroke="#fff" stroke-opacity="0.32" stroke-width="0.5"/>
<path d="M650.9,300.9 L652.4,296.2 L658.6,296.2 L664.7,291.6 L670.9,294.7 L674.0,300.9 L672.5,307.0 L667.8,308.6 L660.1,310.9 L652.4,309.4Z" fill="#EE4224" stroke="#fff" stroke-opacity="0.32" stroke-width="0.5"/>
<path d="M672.5,299.3 L677.1,296.2 L686.3,296.2 L689.4,299.3 L687.9,307.0 L681.7,313.2 L677.1,319.4 L675.5,327.1 L672.5,330.2 L670.9,324.0 L672.5,317.8 L672.5,311.7 L675.5,307.0 L674.0,300.9Z" fill="#DF1B24" stroke="#fff" stroke-opacity="0.32" stroke-width="0.5"/>
<path d="M675.2,294.7 L677.9,295.9 L678.2,305.5 L675.8,304.3Z" fill="#EE4224" stroke="#fff" stroke-opacity="0.32" stroke-width="0.5"/>
<path d="M667.8,274.7 L677.1,273.1 L686.3,280.8 L689.4,288.5 L688.6,296.2 L677.1,296.2 L672.5,299.3 L669.4,293.2 L667.8,285.5 L667.8,279.3Z" fill="#EE4224" stroke="#fff" stroke-opacity="0.32" stroke-width="0.5"/>
<path d="M677.1,259.2 L687.9,260.8 L691.0,273.1 L687.9,280.8 L680.2,276.2 L677.1,273.1 L675.5,265.4Z" fill="#DF1B24" stroke="#fff" stroke-opacity="0.32" stroke-width="0.5"/>
<path d="M630.8,265.4 L637.0,262.3 L638.5,268.5 L635.5,274.7 L632.4,279.3 L629.3,276.2 L628.5,271.6Z" fill="#A9161D" stroke="#fff" stroke-opacity="0.32" stroke-width="0.5"/>
<path d="M624.7,263.9 L630.8,263.9 L630.8,271.6 L628.5,275.4 L625.4,271.6Z" fill="#EE4224" stroke="#fff" stroke-opacity="0.32" stroke-width="0.5"/>
<path d="M670.9,269.3 L677.1,268.5 L676.3,274.7 L671.7,274.7Z" fill="#fff"/>
<path d="M695.6,250.0 L709.5,250.0 L704.8,259.2 L698.7,267.0 L692.5,273.1 L691.0,270.0 L695.6,262.3 L694.0,256.2Z" fill="#A9161D" stroke="#fff" stroke-opacity="0.32" stroke-width="0.5"/>
<path d="M677.1,250.0 L695.6,250.0 L694.0,256.2 L689.4,260.8 L680.2,259.2Z" fill="#EE4224" stroke="#fff" stroke-opacity="0.32" stroke-width="0.5"/>
<path d="M676.0,237.2 L682.2,231.0 L688.4,236.0 L695.8,243.4 L697.0,248.3 L702.0,250.8 L699.5,255.7 L693.3,260.7 L688.4,261.9 L682.2,260.7 L677.3,255.7 L674.8,247.1Z" fill="#EE4224" stroke="#fff" stroke-opacity="0.32" stroke-width="0.5"/>
<path d="M682.2,228.6 L688.4,233.5 L695.8,242.2 L692.1,242.2 L688.4,236.0 L682.2,231.0Z" fill="#DF1B24" stroke="#fff" stroke-opacity="0.32" stroke-width="0.5"/>
<path d="M695.8,242.8 L711.2,241.5 L709.4,249.6 L703.2,259.4 L697.0,266.9 L692.1,271.8 L690.9,266.9 L693.3,261.9 L699.5,255.7 L702.0,250.8 L697.0,248.3 L692.1,244.6Z" fill="#A9161D" stroke="#fff" stroke-opacity="0.32" stroke-width="0.5"/>
<path d="M679.8,260.7 L688.4,261.9 L693.3,260.7 L692.1,271.8 L689.6,276.7 L687.2,281.7 L683.5,279.2 L677.3,274.3 L678.5,266.9Z" fill="#DF1B24" stroke="#fff" stroke-opacity="0.32" stroke-width="0.5"/>
<path d="M668.6,273.0 L677.3,274.3 L683.5,279.2 L687.2,281.7 L688.4,289.1 L688.4,295.2 L682.2,297.7 L674.8,296.5 L669.9,294.0 L667.4,286.6Z" fill="#EE4224" stroke="#fff" stroke-opacity="0.32" stroke-width="0.5"/>
<path d="M694.6,229.8 L713.1,226.1 L714.3,229.8 L706.9,234.8 L697.0,238.5 L695.2,234.8Z" fill="#A9161D" stroke="#fff" stroke-opacity="0.32" stroke-width="0.5"/>
<path d="M671.5,268.5 L675.5,268.0 L675.0,273.0 L671.0,273.0Z" fill="#fff"/>
<path d="M707.5,299.0 L709.4,303.9 L706.9,312.5 L703.2,321.2 L698.3,326.1 L695.2,324.9 L695.8,318.7 L697.0,312.5 L702.0,307.6 L705.7,301.4Z" fill="#DF1B24" stroke="#fff" stroke-opacity="0.32" stroke-width="0.5"/>
</g></svg>
</body></html>
